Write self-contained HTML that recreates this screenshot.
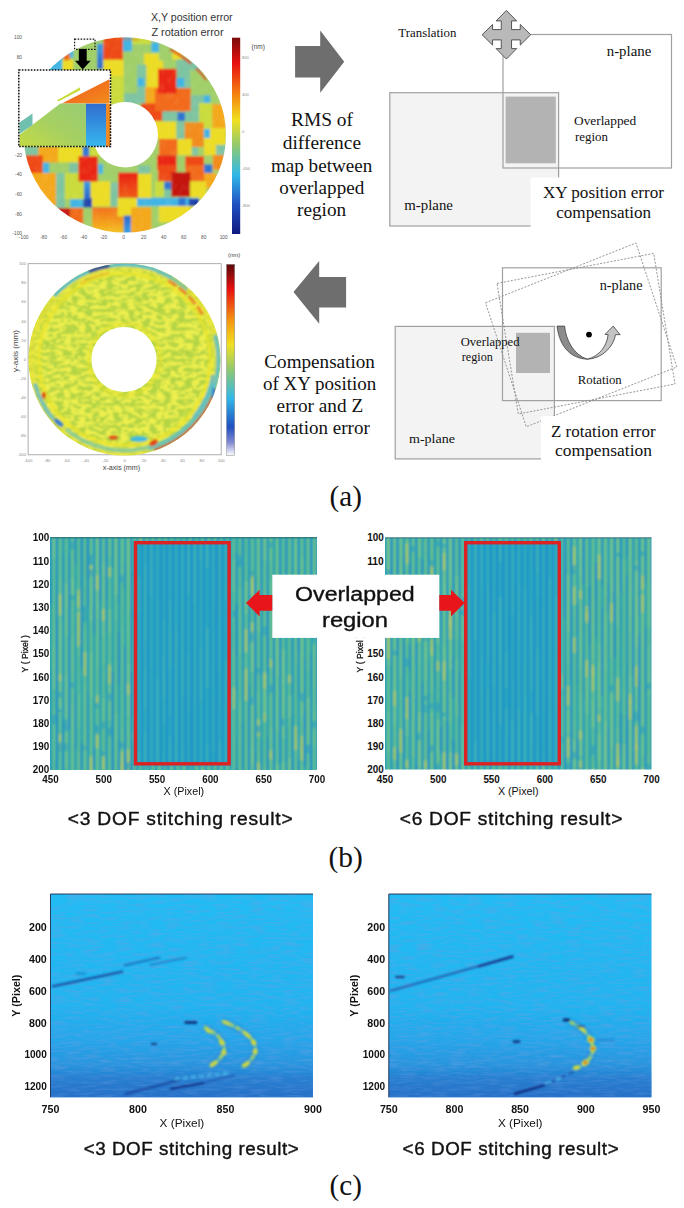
<!DOCTYPE html>
<html><head><meta charset="utf-8"><title>figure</title>
<style>html,body{margin:0;padding:0;background:#fff;width:684px;height:1208px;overflow:hidden}body{position:relative;font-family:"Liberation Sans",sans-serif}</style>
</head><body>
<svg width="684" height="1208" viewBox="0 0 684 1208" style="position:absolute;left:0;top:0">
<defs>
<filter id="soft" x="-5%" y="-5%" width="110%" height="110%"><feGaussianBlur stdDeviation="0.6"/></filter>
<filter id="soft2" x="-5%" y="-5%" width="110%" height="110%"><feGaussianBlur stdDeviation="1.0"/></filter>
<filter id="soft3" x="-20%" y="-20%" width="140%" height="140%"><feGaussianBlur stdDeviation="1.5"/></filter>
<clipPath id="d1"><path fill-rule="evenodd" d="M23.6,134.9 a101.2,97.6 0 1,0 202.4,0 a101.2,97.6 0 1,0 -202.4,0 Z M92.4,134.8 a32.8,32.8 0 1,1 65.6,0 a32.8,32.8 0 1,1 -65.6,0 Z"/></clipPath>
<clipPath id="d2"><path fill-rule="evenodd" d="M28.5,359.5 a96,96 0 1,0 192,0 a96,96 0 1,0 -192,0 Z M91.4,359.5 a32.6,32.6 0 1,1 65.2,0 a32.6,32.6 0 1,1 -65.2,0 Z"/></clipPath>
<linearGradient id="jet" x1="0" y1="0" x2="0" y2="1"><stop offset="0" stop-color="#7a0a0a"/><stop offset="0.13" stop-color="#e81010"/><stop offset="0.3" stop-color="#f58a10"/><stop offset="0.42" stop-color="#f0e020"/><stop offset="0.55" stop-color="#90c870"/><stop offset="0.7" stop-color="#30b8e8"/><stop offset="0.85" stop-color="#2050c0"/><stop offset="1" stop-color="#101880"/></linearGradient>
<linearGradient id="jet2" x1="0" y1="0" x2="0" y2="1"><stop offset="0" stop-color="#5a0808"/><stop offset="0.13" stop-color="#e81010"/><stop offset="0.3" stop-color="#f59a10"/><stop offset="0.42" stop-color="#f0e020"/><stop offset="0.55" stop-color="#90c870"/><stop offset="0.7" stop-color="#30b8e8"/><stop offset="0.85" stop-color="#2050c0"/><stop offset="0.93" stop-color="#8088d0"/><stop offset="1" stop-color="#ffffff"/></linearGradient>
<linearGradient id="bst" x1="0" y1="0" x2="0" y2="1"><stop offset="0" stop-color="#2f6cd0"/><stop offset="1" stop-color="#38b8f0"/></linearGradient>
<linearGradient id="org" x1="0" y1="0" x2="1" y2="1"><stop offset="0" stop-color="#f0501a"/><stop offset="1" stop-color="#f29020"/></linearGradient>
<linearGradient id="cg" x1="0" y1="0" x2="0" y2="1"><stop offset="0" stop-color="#22bcf4"/><stop offset="0.55" stop-color="#22b4f0"/><stop offset="0.72" stop-color="#26a6ea"/><stop offset="0.86" stop-color="#2a92dc"/><stop offset="1" stop-color="#2a78cc"/></linearGradient>
<filter id="hstreak" filterUnits="objectBoundingBox" x="0" y="0" width="1" height="1"><feTurbulence type="fractalNoise" baseFrequency="0.06 0.45" numOctaves="2" seed="9" result="n"/><feColorMatrix in="n" type="matrix" values="0 0 0 0 0.1  0 0 0 0 0.35  0 0 0 0 0.75  1.2 0 0 0 -0.5" result="c"/><feComposite in="c" in2="SourceGraphic" operator="in" result="d"/><feMerge><feMergeNode in="SourceGraphic"/><feMergeNode in="d"/></feMerge></filter>
<filter id="mot" filterUnits="userSpaceOnUse" x="20" y="255" width="210" height="210"><feTurbulence type="fractalNoise" baseFrequency="0.14 0.32" numOctaves="2" seed="5" result="n"/><feColorMatrix in="n" type="matrix" values="0 0 0 0 0.95  0 0 0 0 0.91  0 0 0 0 0.08  1.6 0 0 0 -0.30" result="c"/><feComponentTransfer in="c" result="t"><feFuncA type="discrete" tableValues="0 0 0.8 0.8"/></feComponentTransfer><feComposite in="t" in2="SourceGraphic" operator="in" result="y"/><feMerge result="m"><feMergeNode in="SourceGraphic"/><feMergeNode in="y"/></feMerge><feGaussianBlur in="m" stdDeviation="1.1"/></filter>
<linearGradient id="bl1" x1="0" y1="0" x2="0" y2="1"><stop offset="0" stop-color="#3c9ee0"/><stop offset="1" stop-color="#2a64cc"/></linearGradient>
<linearGradient id="bl2" x1="0" y1="0" x2="0" y2="1"><stop offset="0" stop-color="#2a68cc"/><stop offset="1" stop-color="#3cb8ee"/></linearGradient>
<filter id="dnoise" filterUnits="userSpaceOnUse" x="20" y="30" width="210" height="210"><feTurbulence type="fractalNoise" baseFrequency="0.25 0.12" numOctaves="2" seed="2" result="n"/><feColorMatrix in="n" type="matrix" values="0 0 0 0 1  0 0 0 0 1  0 0 0 0 0.6  0 0 0 0.5 -0.24"/></filter>
<linearGradient id="bband" x1="0" y1="0" x2="0" y2="1"><stop offset="0" stop-color="#2060c0" stop-opacity="0"/><stop offset="0.4" stop-color="#2060c0" stop-opacity="0.22"/><stop offset="1" stop-color="#2060c0" stop-opacity="0.3"/></linearGradient>
<linearGradient id="ggr" x1="0" y1="1" x2="1" y2="0"><stop offset="0" stop-color="#c4da44"/><stop offset="0.5" stop-color="#a6d062"/><stop offset="1" stop-color="#98cc74"/></linearGradient>
<linearGradient id="og1" x1="0" y1="0" x2="0" y2="1"><stop offset="0" stop-color="#f2701c"/><stop offset="0.55" stop-color="#f4a81e"/><stop offset="1" stop-color="#eed828"/></linearGradient>
<linearGradient id="rg1" x1="0" y1="0" x2="0" y2="1"><stop offset="0" stop-color="#ea2014"/><stop offset="1" stop-color="#f05c18"/></linearGradient>
</defs>
<g clip-path="url(#d1)"><g filter="url(#soft2)">
<rect x="20" y="30" width="210" height="210" fill="#a2d06a"/>
<rect x="90.0" y="40.0" width="7.2" height="30.0" fill="#a0cf6a"/>
<rect x="97.2" y="43.7" width="6.1" height="25.1" fill="url(#bl1)"/>
<rect x="103.3" y="36.0" width="19.7" height="24.0" fill="#ee4a18"/>
<rect x="103.3" y="59.6" width="20.5" height="16.4" fill="#ecdc26"/>
<rect x="122.8" y="36.0" width="9.2" height="15.4" fill="#40b4e4"/>
<rect x="132.0" y="36.0" width="19.4" height="8.2" fill="#cadc3c"/>
<rect x="132.0" y="44.2" width="19.4" height="9.2" fill="#a0cf6a"/>
<rect x="151.4" y="42.2" width="7.6" height="10.2" fill="#40b4e4"/>
<rect x="144.0" y="53.4" width="19.2" height="34.6" fill="#ecdc26"/>
<rect x="123.8" y="52.4" width="13.2" height="17.4" fill="#a0cf6a"/>
<rect x="123.8" y="69.8" width="14.2" height="24.6" fill="#a0cf6a"/>
<rect x="123.5" y="93.3" width="21.5" height="10.7" fill="#7ec4a2"/>
<rect x="110.5" y="76.0" width="13.3" height="28.0" fill="#cadc3c"/>
<rect x="137.0" y="64.7" width="9.3" height="39.3" fill="#7ec4a2"/>
<rect x="137.6" y="78.0" width="6.6" height="8.2" fill="#40b4e4"/>
<rect x="145.3" y="87.2" width="12.3" height="16.8" fill="#f4a81e"/>
<rect x="141.0" y="103.5" width="29.0" height="17.5" fill="#ee4a18"/>
<rect x="159.0" y="44.2" width="18.5" height="16.4" fill="#a0cf6a"/>
<rect x="172.4" y="50.4" width="9.2" height="9.2" fill="#ecdc26"/>
<rect x="176.5" y="59.6" width="31.7" height="35.8" fill="#7ec4a2"/>
<rect x="190.0" y="70.0" width="25.0" height="25.0" fill="#a0cf6a"/>
<rect x="155.0" y="88.2" width="35.8" height="23.1" fill="#f26a1c"/>
<rect x="158.0" y="68.8" width="18.5" height="24.6" fill="#ea2814"/>
<rect x="176.5" y="78.0" width="7.7" height="9.2" fill="#40b4e4"/>
<rect x="190.8" y="95.4" width="13.2" height="15.9" fill="#7ec4a2"/>
<rect x="204.0" y="95.4" width="6.3" height="8.6" fill="#40b4e4"/>
<rect x="199.0" y="103.0" width="13.3" height="26.7" fill="#cadc3c"/>
<rect x="212.3" y="104.0" width="13.7" height="24.7" fill="#f4a81e"/>
<rect x="162.2" y="111.3" width="15.3" height="10.2" fill="#7ec4a2"/>
<rect x="177.5" y="112.3" width="7.7" height="8.7" fill="#2e74d2"/>
<rect x="185.2" y="111.3" width="13.8" height="10.2" fill="#7ec4a2"/>
<rect x="150.0" y="121.5" width="26.5" height="17.4" fill="#ecdc26"/>
<rect x="176.5" y="121.5" width="8.2" height="17.4" fill="#7ec4a2"/>
<rect x="184.7" y="122.5" width="18.9" height="24.5" fill="#f28c1e"/>
<rect x="204.0" y="129.0" width="6.8" height="9.4" fill="#40b4e4"/>
<rect x="204.0" y="138.0" width="14.5" height="17.3" fill="#ecdc26"/>
<rect x="210.0" y="128.0" width="16.0" height="17.0" fill="#ecdc26"/>
<rect x="159.0" y="139.0" width="18.5" height="16.3" fill="#f26a1c"/>
<rect x="177.5" y="139.0" width="14.3" height="16.3" fill="#ecdc26"/>
<rect x="191.8" y="147.0" width="6.2" height="8.3" fill="#7ec4a2"/>
<rect x="216.0" y="145.0" width="12.0" height="10.0" fill="#7ec4a2"/>
<rect x="157.0" y="155.3" width="19.5" height="14.7" fill="#ea2814"/>
<rect x="177.5" y="155.3" width="7.2" height="16.7" fill="#a0cf6a"/>
<rect x="185.2" y="156.3" width="18.8" height="13.7" fill="#ee4a18"/>
<rect x="204.0" y="164.5" width="8.3" height="8.5" fill="#2e74d2"/>
<rect x="212.8" y="155.0" width="13.2" height="15.0" fill="#f28c1e"/>
<rect x="158.0" y="165.0" width="18.5" height="16.4" fill="#ee4a18"/>
<rect x="185.7" y="165.0" width="18.3" height="16.4" fill="#f26a1c"/>
<rect x="204.0" y="173.0" width="12.4" height="15.5" fill="#f4a81e"/>
<rect x="155.0" y="181.4" width="9.2" height="15.3" fill="#cadc3c"/>
<rect x="164.2" y="181.9" width="7.2" height="7.7" fill="#2e74d2"/>
<rect x="164.2" y="189.6" width="7.2" height="7.4" fill="#7ec4a2"/>
<rect x="171.4" y="172.2" width="18.9" height="24.5" fill="#c41410"/>
<rect x="190.3" y="181.4" width="15.9" height="17.4" fill="#ecdc26"/>
<rect x="137.0" y="197.8" width="62.0" height="8.2" fill="#40b4e4"/>
<rect x="178.5" y="197.8" width="7.2" height="8.2" fill="#2e74d2"/>
<rect x="188.8" y="198.8" width="10.2" height="9.2" fill="#1f40ac"/>
<rect x="158.0" y="206.0" width="32.8" height="16.3" fill="#ecdc26"/>
<rect x="151.4" y="206.0" width="7.6" height="25.0" fill="#a0cf6a"/>
<rect x="190.8" y="206.0" width="24.2" height="16.0" fill="#cadc3c"/>
<rect x="20.0" y="146.6" width="18.4" height="8.8" fill="#7ec4a2"/>
<rect x="38.4" y="146.6" width="19.8" height="16.4" fill="#f4a81e"/>
<rect x="58.2" y="146.6" width="24.1" height="16.4" fill="#ecdc26"/>
<rect x="82.9" y="146.6" width="6.5" height="9.8" fill="#2e74d2"/>
<rect x="89.4" y="146.6" width="20.6" height="9.8" fill="#cadc3c"/>
<rect x="20.0" y="155.4" width="22.8" height="25.2" fill="#ee4a18"/>
<rect x="42.8" y="162.5" width="6.6" height="10.5" fill="#40b4e4"/>
<rect x="49.4" y="162.5" width="19.8" height="10.5" fill="#a0cf6a"/>
<rect x="69.2" y="162.5" width="8.8" height="10.5" fill="#7ec4a2"/>
<rect x="20.0" y="173.0" width="36.0" height="32.8" fill="#f4a81e"/>
<rect x="56.0" y="173.0" width="8.8" height="35.0" fill="#7ec4a2"/>
<rect x="64.8" y="173.0" width="18.6" height="26.2" fill="#cadc3c"/>
<rect x="84.0" y="181.7" width="6.5" height="17.5" fill="url(#bl1)"/>
<rect x="70.2" y="199.2" width="13.2" height="8.2" fill="#40b4e4"/>
<rect x="83.4" y="199.2" width="8.2" height="8.2" fill="#1f40ac"/>
<rect x="40.0" y="208.0" width="30.2" height="14.0" fill="#c41410"/>
<rect x="70.2" y="208.0" width="13.2" height="17.0" fill="#f26a1c"/>
<rect x="83.4" y="208.0" width="8.8" height="32.0" fill="#a0cf6a"/>
<rect x="92.2" y="207.4" width="31.6" height="32.6" fill="url(#og1)"/>
<rect x="98.2" y="164.0" width="5.1" height="9.7" fill="#40b4e4"/>
<rect x="103.3" y="156.5" width="20.5" height="17.2" fill="#a0cf6a"/>
<rect x="118.1" y="172.6" width="20.0" height="25.1" fill="url(#rg1)"/>
<rect x="138.1" y="172.6" width="13.3" height="25.6" fill="#ecdc26"/>
<rect x="138.0" y="165.5" width="12.0" height="8.2" fill="#7ec4a2"/>
<rect x="90.0" y="181.3" width="20.5" height="25.1" fill="#ecdc26"/>
<rect x="110.5" y="182.4" width="7.6" height="24.0" fill="#7ec4a2"/>
<rect x="90.0" y="198.0" width="2.0" height="9.4" fill="#1f40ac"/>
<rect x="117.6" y="198.2" width="19.4" height="18.4" fill="#ecdc26"/>
<rect x="123.8" y="215.6" width="7.2" height="24.4" fill="url(#bl2)"/>
<rect x="131.0" y="207.4" width="20.4" height="32.6" fill="#f4a81e"/>
<rect x="45.0" y="55.0" width="17.0" height="17.0" fill="#40b4e4"/>
<rect x="55.0" y="46.0" width="21.0" height="12.0" fill="#40b4e4"/>
<rect x="73.3" y="40.0" width="16.7" height="32.0" fill="#a0cf6a"/>
<rect x="62.8" y="59.4" width="10.5" height="12.6" fill="#ecdc26"/>
<rect x="63.7" y="54.0" width="6.1" height="6.3" fill="#f26a1c"/>
<rect x="100.0" y="105.0" width="12.0" height="45.0" fill="#a0cf6a"/>
<rect x="78.5" y="156.4" width="19.2" height="25.1" fill="#ea2814"/>
<rect x="84.0" y="181.7" width="6.5" height="17.5" fill="url(#bl1)"/>
<polyline points="169.9,49.5 171.8,50.5 173.7,51.5 175.6,52.6 177.4,53.7 179.2,54.8 181.0,55.9 182.8,57.2 184.6,58.4 186.3,59.7 188.0,61.0 189.6,62.3 191.2,63.7" fill="none" stroke="#e02818" stroke-width="2.4" opacity="0.90"/>
<polyline points="196.2,68.4 197.1,69.3 198.0,70.2 198.9,71.1 199.7,72.0 200.6,73.0 201.4,74.0 202.2,74.9 203.0,75.9 203.8,76.9 204.6,77.9 205.4,78.9 206.1,80.0" fill="none" stroke="#e02818" stroke-width="2.2" opacity="0.85"/>
<polyline points="107.6,40.6 110.1,40.2 112.7,39.8 115.3,39.5 117.9,39.3 120.5,39.2 123.1,39.1 125.7,39.1 128.3,39.2 130.9,39.3 133.5,39.5 136.0,39.7 138.6,40.0" fill="none" stroke="#e86018" stroke-width="1.6" opacity="0.60"/>
<rect x="20" y="30" width="210" height="210" fill="#000" filter="url(#dnoise)" opacity="0.5"/>
</g></g>
<rect x="18.8" y="70" width="91.7" height="76.5" fill="#ffffff"/>
<g filter="url(#soft)">
<polygon points="61.8,103.5 109.5,79.2 109.5,103.5" fill="url(#org)"/>
<polygon points="56.7,100.4 80.1,87.2 80.1,90.3 59,101.3" fill="#c8dc3c"/>
<polygon points="19.5,134.7 60.3,103.5 86.6,103.5 86.6,146.5 19.5,146.5" fill="url(#ggr)"/>
<polygon points="19.5,122.5 32.5,113.5 32.5,125 19.5,134" fill="#70c0b0"/>
<rect x="86" y="103.7" width="20" height="42.8" fill="url(#bst)"/>
<rect x="106" y="103.7" width="4.5" height="42.8" fill="#f08a20"/>
</g>
<rect x="18.8" y="70" width="91.7" height="76.5" fill="none" stroke="#111" stroke-width="1.5" stroke-dasharray="1.6 1.4"/>
<rect x="74.6" y="39.1" width="20.4" height="10.2" fill="none" stroke="#111" stroke-width="1.2" stroke-dasharray="1.6 1.4"/>
<polygon points="78.8,49 86.7,49 86.7,60.7 90.7,60.7 82.75,69.5 75,60.7 78.8,60.7" fill="#000"/>
<text x="22.0" y="39.1" font-family="Liberation Sans" font-size="4.80" fill="#555" text-anchor="end" >100</text>
<text x="22.0" y="58.7" font-family="Liberation Sans" font-size="4.80" fill="#555" text-anchor="end" >80</text>
<text x="22.0" y="156.7" font-family="Liberation Sans" font-size="4.80" fill="#555" text-anchor="end" >-20</text>
<text x="22.0" y="176.3" font-family="Liberation Sans" font-size="4.80" fill="#555" text-anchor="end" >-40</text>
<text x="22.0" y="195.9" font-family="Liberation Sans" font-size="4.80" fill="#555" text-anchor="end" >-60</text>
<text x="22.0" y="215.5" font-family="Liberation Sans" font-size="4.80" fill="#555" text-anchor="end" >-80</text>
<text x="22.0" y="235.1" font-family="Liberation Sans" font-size="4.80" fill="#555" text-anchor="end" >-100</text>
<text x="23.7" y="238.5" font-family="Liberation Sans" font-size="4.80" fill="#555" text-anchor="middle" >-100</text>
<text x="43.7" y="238.5" font-family="Liberation Sans" font-size="4.80" fill="#555" text-anchor="middle" >-80</text>
<text x="63.7" y="238.5" font-family="Liberation Sans" font-size="4.80" fill="#555" text-anchor="middle" >-60</text>
<text x="83.7" y="238.5" font-family="Liberation Sans" font-size="4.80" fill="#555" text-anchor="middle" >-40</text>
<text x="103.7" y="238.5" font-family="Liberation Sans" font-size="4.80" fill="#555" text-anchor="middle" >-20</text>
<text x="123.7" y="238.5" font-family="Liberation Sans" font-size="4.80" fill="#555" text-anchor="middle" >0</text>
<text x="143.7" y="238.5" font-family="Liberation Sans" font-size="4.80" fill="#555" text-anchor="middle" >20</text>
<text x="163.7" y="238.5" font-family="Liberation Sans" font-size="4.80" fill="#555" text-anchor="middle" >40</text>
<text x="183.7" y="238.5" font-family="Liberation Sans" font-size="4.80" fill="#555" text-anchor="middle" >60</text>
<text x="203.7" y="238.5" font-family="Liberation Sans" font-size="4.80" fill="#555" text-anchor="middle" >80</text>
<text x="223.7" y="238.5" font-family="Liberation Sans" font-size="4.80" fill="#555" text-anchor="middle" >100</text>
<rect x="232" y="37.7" width="8.2" height="196.3" fill="url(#jet)"/>
<text x="242.0" y="58.5" font-family="Liberation Sans" font-size="4.00" fill="#888" text-anchor="start" >800</text>
<text x="242.0" y="95.5" font-family="Liberation Sans" font-size="4.00" fill="#888" text-anchor="start" >400</text>
<text x="242.0" y="132.5" font-family="Liberation Sans" font-size="4.00" fill="#888" text-anchor="start" >0</text>
<text x="242.0" y="169.5" font-family="Liberation Sans" font-size="4.00" fill="#888" text-anchor="start" >-400</text>
<text x="242.0" y="206.5" font-family="Liberation Sans" font-size="4.00" fill="#888" text-anchor="start" >-800</text>
<text x="251.5" y="49.0" font-family="Liberation Sans" font-size="6.50" fill="#444" text-anchor="start" >(nm)</text>
<text x="191.8" y="21.0" font-family="Liberation Sans" font-size="10.50" fill="#333" text-anchor="middle" textLength="81.7" lengthAdjust="spacingAndGlyphs" >X,Y position error</text>
<text x="187.5" y="35.6" font-family="Liberation Sans" font-size="10.50" fill="#333" text-anchor="middle" textLength="72.2" lengthAdjust="spacingAndGlyphs" >Z rotation error</text>
<polygon points="295.1,46 320.2,46 320.2,30.5 344.2,61.75 320.2,92.8 320.2,77.5 295.1,77.5" fill="#6e6e6e"/>
<text x="322.0" y="125.6" font-family="Liberation Serif" font-size="18.70" fill="#111" text-anchor="middle" textLength="62.0" lengthAdjust="spacingAndGlyphs" >RMS of</text>
<text x="321.9" y="148.7" font-family="Liberation Serif" font-size="18.70" fill="#111" text-anchor="middle" textLength="78.2" lengthAdjust="spacingAndGlyphs" >difference</text>
<text x="321.6" y="171.6" font-family="Liberation Serif" font-size="18.70" fill="#111" text-anchor="middle" textLength="101.2" lengthAdjust="spacingAndGlyphs" >map between</text>
<text x="321.8" y="193.7" font-family="Liberation Serif" font-size="18.70" fill="#111" text-anchor="middle" textLength="84.9" lengthAdjust="spacingAndGlyphs" >overlapped</text>
<text x="321.6" y="216.2" font-family="Liberation Serif" font-size="18.70" fill="#111" text-anchor="middle" textLength="49.2" lengthAdjust="spacingAndGlyphs" >region</text>
<rect x="389.8" y="92.7" width="168.8" height="133.3" fill="#f3f3f3" stroke="#a0a0a0" stroke-width="1.2"/>
<rect x="503" y="34.5" width="168.5" height="133.5" fill="none" stroke="#a0a0a0" stroke-width="1.2"/>
<rect x="505.6" y="96.6" width="50.2" height="66.7" fill="#b3b3b3"/>
<rect x="530.5" y="177.5" width="153.5" height="50" fill="#ffffff"/>
<polygon points="506.40,10.45 516.70,20.90 511.55,20.90 511.55,29.60 520.25,29.60 520.25,24.45 530.70,34.75 520.25,45.05 520.25,39.90 511.55,39.90 511.55,48.60 516.70,48.60 506.40,59.05 496.10,48.60 501.25,48.60 501.25,39.90 492.55,39.90 492.55,45.05 482.10,34.75 492.55,24.45 492.55,29.60 501.25,29.60 501.25,20.90 496.10,20.90" fill="#b9b9b9" stroke="#555" stroke-width="1"/>
<text x="427.4" y="37.0" font-family="Liberation Serif" font-size="12.40" fill="#111" text-anchor="middle" textLength="58.1" lengthAdjust="spacingAndGlyphs" >Translation</text>
<text x="629.0" y="56.0" font-family="Liberation Serif" font-size="14.20" fill="#111" text-anchor="middle" textLength="44.5" lengthAdjust="spacingAndGlyphs" >n-plane</text>
<text x="605.1" y="125.0" font-family="Liberation Serif" font-size="12.90" fill="#111" text-anchor="middle" textLength="62.2" lengthAdjust="spacingAndGlyphs" >Overlapped</text>
<text x="575.0" y="140.6" font-family="Liberation Serif" font-size="12.90" fill="#111" text-anchor="start" >region</text>
<text x="428.6" y="210.1" font-family="Liberation Serif" font-size="14.25" fill="#111" text-anchor="middle" textLength="48.7" lengthAdjust="spacingAndGlyphs" >m-plane</text>
<text x="603.5" y="197.9" font-family="Liberation Serif" font-size="16.80" fill="#111" text-anchor="middle" textLength="121.1" lengthAdjust="spacingAndGlyphs" >XY position error</text>
<text x="603.7" y="217.7" font-family="Liberation Serif" font-size="16.80" fill="#111" text-anchor="middle" textLength="95.0" lengthAdjust="spacingAndGlyphs" >compensation</text>
<rect x="28.1" y="263.7" width="193.1" height="191.1" fill="#fff" stroke="#9a9a9a" stroke-width="0.8"/>
<g clip-path="url(#d2)">
<g filter="url(#mot)"><rect x="20" y="255" width="210" height="210" fill="#b2d444"/></g><g filter="url(#soft2)">
<path d="M160.5,359.5 A36.0,36.0 0 1,1 160.5,359.4" fill="none" stroke="#eae22c" stroke-width="3.0" opacity="0.60"/>
<path d="M210.5,359.5 A86.0,86.0 0 1,1 210.5,359.3" fill="none" stroke="#ece42a" stroke-width="4.0" opacity="0.75"/>
<path d="M217.5,359.5 A93.0,93.0 0 1,1 217.5,359.3" fill="none" stroke="#e8e030" stroke-width="6.0" opacity="0.60"/>
<path d="M53.9,295.9 A95.0,95.0 0 0,1 88.9,271.4" fill="none" stroke="#48b8d8" stroke-width="4.0" opacity="0.90"/>
<path d="M88.9,271.4 A95.0,95.0 0 0,1 109.6,265.7" fill="none" stroke="#1c3ca8" stroke-width="4.0" opacity="0.90"/>
<path d="M109.6,265.7 A95.0,95.0 0 0,1 172.0,277.2" fill="none" stroke="#50bcd8" stroke-width="4.0" opacity="0.90"/>
<path d="M156.6,271.2 A94.0,94.0 0 0,1 187.4,289.6" fill="none" stroke="#70c0b0" stroke-width="4.0" opacity="0.80"/>
<path d="M168.1,280.8 A90.0,90.0 0 0,1 202.4,314.5" fill="none" stroke="#f07020" stroke-width="3.0" opacity="0.85" stroke-dasharray="10 3"/>
<path d="M80.5,283.3 A88.0,88.0 0 0,1 109.2,272.8" fill="none" stroke="#f0a020" stroke-width="2.0" opacity="0.60"/>
<path d="M215.3,335.2 A94.0,94.0 0 0,1 212.8,391.6" fill="none" stroke="#58bcd0" stroke-width="4.5" opacity="0.85"/>
<path d="M213.1,375.1 A90.0,90.0 0 0,1 193.4,417.4" fill="none" stroke="#50b0e0" stroke-width="3.0" opacity="0.80"/>
<path d="M213.4,383.3 A92.0,92.0 0 0,1 148.3,448.4" fill="none" stroke="#58c0c8" stroke-width="5.0" opacity="0.85"/>
<path d="M215.3,389.0 A95.5,95.5 0 0,1 154.0,450.3" fill="none" stroke="#c82010" stroke-width="2.2" opacity="0.90"/>
<path d="M148.1,447.4 A91.0,91.0 0 0,1 66.0,429.2" fill="none" stroke="#6cc4b8" stroke-width="4.0" opacity="0.70"/>
<path d="M53.3,419.3 A93.0,93.0 0 0,1 34.7,383.6" fill="none" stroke="#58b8d8" stroke-width="4.0" opacity="0.80"/>
<ellipse cx="113.3" cy="437.5" rx="4.5" ry="2" fill="#e0501a"/><ellipse cx="153.5" cy="442.8" rx="4.5" ry="2.8" fill="#e04a18" transform="rotate(-30 153.5 442.8)"/><ellipse cx="43.9" cy="395.3" rx="2" ry="3.5" fill="#e04a18"/>
<ellipse cx="139" cy="439" rx="9" ry="3" fill="#40b8e0"/><ellipse cx="58.5" cy="422.7" rx="6" ry="2.5" fill="#3a80d0" transform="rotate(40 58.5 422.7)"/><ellipse cx="213.8" cy="393.5" rx="2" ry="6" fill="#3a80d0"/>
</g></g>
<text x="26.0" y="265.2" font-family="Liberation Sans" font-size="4.20" fill="#888" text-anchor="end" >100</text>
<text x="26.0" y="284.3" font-family="Liberation Sans" font-size="4.20" fill="#888" text-anchor="end" >80</text>
<text x="26.0" y="303.4" font-family="Liberation Sans" font-size="4.20" fill="#888" text-anchor="end" >60</text>
<text x="26.0" y="322.5" font-family="Liberation Sans" font-size="4.20" fill="#888" text-anchor="end" >40</text>
<text x="26.0" y="341.6" font-family="Liberation Sans" font-size="4.20" fill="#888" text-anchor="end" >20</text>
<text x="26.0" y="360.8" font-family="Liberation Sans" font-size="4.20" fill="#888" text-anchor="end" >0</text>
<text x="26.0" y="379.9" font-family="Liberation Sans" font-size="4.20" fill="#888" text-anchor="end" >-20</text>
<text x="26.0" y="399.0" font-family="Liberation Sans" font-size="4.20" fill="#888" text-anchor="end" >-40</text>
<text x="26.0" y="418.1" font-family="Liberation Sans" font-size="4.20" fill="#888" text-anchor="end" >-60</text>
<text x="26.0" y="437.2" font-family="Liberation Sans" font-size="4.20" fill="#888" text-anchor="end" >-80</text>
<text x="26.0" y="456.3" font-family="Liberation Sans" font-size="4.20" fill="#888" text-anchor="end" >-100</text>
<text x="28.1" y="461.5" font-family="Liberation Sans" font-size="4.20" fill="#888" text-anchor="middle" >-100</text>
<text x="47.4" y="461.5" font-family="Liberation Sans" font-size="4.20" fill="#888" text-anchor="middle" >-80</text>
<text x="66.7" y="461.5" font-family="Liberation Sans" font-size="4.20" fill="#888" text-anchor="middle" >-60</text>
<text x="86.0" y="461.5" font-family="Liberation Sans" font-size="4.20" fill="#888" text-anchor="middle" >-40</text>
<text x="105.3" y="461.5" font-family="Liberation Sans" font-size="4.20" fill="#888" text-anchor="middle" >-20</text>
<text x="124.7" y="461.5" font-family="Liberation Sans" font-size="4.20" fill="#888" text-anchor="middle" >0</text>
<text x="144.0" y="461.5" font-family="Liberation Sans" font-size="4.20" fill="#888" text-anchor="middle" >20</text>
<text x="163.3" y="461.5" font-family="Liberation Sans" font-size="4.20" fill="#888" text-anchor="middle" >40</text>
<text x="182.6" y="461.5" font-family="Liberation Sans" font-size="4.20" fill="#888" text-anchor="middle" >60</text>
<text x="201.9" y="461.5" font-family="Liberation Sans" font-size="4.20" fill="#888" text-anchor="middle" >80</text>
<text x="221.2" y="461.5" font-family="Liberation Sans" font-size="4.20" fill="#888" text-anchor="middle" >100</text>
<rect x="226.5" y="264.3" width="8.2" height="191.3" fill="url(#jet2)" stroke="#888" stroke-width="0.5"/>
<text x="228.0" y="257.0" font-family="Liberation Sans" font-size="6.00" fill="#444" text-anchor="start" >(nm)</text>
<text x="121.5" y="469.5" font-family="Liberation Sans" font-size="6.80" fill="#444" text-anchor="middle" textLength="37.4" lengthAdjust="spacingAndGlyphs" >x-axis (mm)</text>
<text transform="translate(17.8,351) rotate(-90)" font-family="Liberation Sans" font-size="6.8" fill="#444" text-anchor="middle" textLength="42" lengthAdjust="spacingAndGlyphs">y-axis (mm)</text>
<polygon points="293.5,292.1 319.2,261.1 319.2,276.9 346.1,276.9 346.1,307.5 319.2,307.5 319.2,323.7" fill="#6e6e6e"/>
<text x="319.6" y="367.6" font-family="Liberation Serif" font-size="18.70" fill="#111" text-anchor="middle" textLength="110.5" lengthAdjust="spacingAndGlyphs" >Compensation</text>
<text x="319.6" y="389.7" font-family="Liberation Serif" font-size="18.70" fill="#111" text-anchor="middle" textLength="113.4" lengthAdjust="spacingAndGlyphs" >of XY position</text>
<text x="319.9" y="412.0" font-family="Liberation Serif" font-size="18.70" fill="#111" text-anchor="middle" textLength="86.6" lengthAdjust="spacingAndGlyphs" >error and Z</text>
<text x="319.4" y="434.1" font-family="Liberation Serif" font-size="18.70" fill="#111" text-anchor="middle" textLength="100.7" lengthAdjust="spacingAndGlyphs" >rotation error</text>
<rect x="395.2" y="326.4" width="159.2" height="132.5" fill="#f3f3f3" stroke="#a0a0a0" stroke-width="1.2"/>
<rect x="516" y="332.8" width="34" height="40.2" fill="#b3b3b3"/>
<rect x="502.5" y="267.8" width="158.7" height="132.8" fill="none" stroke="#a0a0a0" stroke-width="1.2"/>
<polygon points="497,283.4 653.7,253.4 675,384 518.3,414" fill="none" stroke="#8a8a8a" stroke-width="0.9" stroke-dasharray="2 1.5"/>
<polygon points="485.5,302.8 636,243 676.8,367 526.3,426.8" fill="none" stroke="#8a8a8a" stroke-width="0.9" stroke-dasharray="2 1.5"/>
<rect x="541" y="416" width="143" height="50" fill="#ffffff"/>
<path d="M557.02,326.11 L564.62,326.11 C565.79,339.56 573.39,354.77 587.43,359.21 C572.22,358.51 559.94,348.92 557.02,326.11 Z" fill="#8c8c8c" stroke="#404040" stroke-width="0.8"/>
<path d="M587.43,359.21 C599.12,356.17 606.73,346.58 608.13,334.65 L604.97,334.42 L613.16,326.11 L620.18,334.65 L615.50,334.65 C613.74,345.64 603.22,358.51 587.43,359.21 Z" fill="#c4c4c4" stroke="#404040" stroke-width="0.8"/>
<circle cx="589" cy="334.6" r="2.9" fill="#000"/>
<text x="621.1" y="290.4" font-family="Liberation Serif" font-size="13.60" fill="#111" text-anchor="middle" textLength="42.7" lengthAdjust="spacingAndGlyphs" >n-plane</text>
<text x="599.8" y="384.2" font-family="Liberation Serif" font-size="12.20" fill="#111" text-anchor="middle" textLength="43.9" lengthAdjust="spacingAndGlyphs" >Rotation</text>
<text x="490.1" y="345.6" font-family="Liberation Serif" font-size="12.20" fill="#111" text-anchor="middle" textLength="58.8" lengthAdjust="spacingAndGlyphs" >Overlapped</text>
<text x="461.7" y="361.0" font-family="Liberation Serif" font-size="12.20" fill="#111" text-anchor="start" >region</text>
<text x="432.0" y="442.8" font-family="Liberation Serif" font-size="13.40" fill="#111" text-anchor="middle" textLength="46.0" lengthAdjust="spacingAndGlyphs" >m-plane</text>
<text x="603.3" y="436.5" font-family="Liberation Serif" font-size="16.80" fill="#111" text-anchor="middle" textLength="104.6" lengthAdjust="spacingAndGlyphs" >Z rotation error</text>
<text x="603.5" y="456.2" font-family="Liberation Serif" font-size="16.80" fill="#111" text-anchor="middle" textLength="96.9" lengthAdjust="spacingAndGlyphs" >compensation</text>
<text x="345.8" y="505.9" font-family="Liberation Serif" font-size="29.50" fill="#111" text-anchor="middle" textLength="32.4" lengthAdjust="spacingAndGlyphs" >(a)</text>
<text x="345.6" y="866.8" font-family="Liberation Serif" font-size="29.50" fill="#111" text-anchor="middle" textLength="34.3" lengthAdjust="spacingAndGlyphs" >(b)</text>
<text x="345.8" y="1195.3" font-family="Liberation Serif" font-size="29.50" fill="#111" text-anchor="middle" textLength="32.4" lengthAdjust="spacingAndGlyphs" >(c)</text>
<clipPath id="bc1"><rect x="50.5" y="537.8" width="266.5" height="231.8"/></clipPath>
<g clip-path="url(#bc1)"><g filter="url(#soft2)">
<rect x="47.5" y="534.8" width="272.5" height="237.8" fill="#30acac"/>
<rect x="52.5" y="537.8" width="3.0" height="21.0" fill="#74c686" opacity="0.94"/>
<rect x="52.5" y="558.8" width="3.0" height="49.4" fill="#74c686" opacity="0.70"/>
<rect x="52.5" y="608.2" width="3.0" height="37.3" fill="#74c686" opacity="0.78"/>
<rect x="52.5" y="645.5" width="3.0" height="44.3" fill="#74c686" opacity="0.92"/>
<rect x="52.5" y="689.8" width="3.0" height="19.2" fill="#74c686" opacity="0.61"/>
<rect x="52.5" y="709.1" width="3.0" height="52.6" fill="#74c686" opacity="0.77"/>
<rect x="52.5" y="761.7" width="3.0" height="49.3" fill="#74c686" opacity="0.60"/>
<rect x="49.6" y="537.8" width="2.0" height="39.5" fill="#1a80d0" opacity="0.67"/>
<rect x="49.6" y="577.3" width="2.0" height="27.6" fill="#1a80d0" opacity="0.81"/>
<rect x="49.6" y="604.9" width="2.0" height="64.6" fill="#1a80d0" opacity="0.22"/>
<rect x="49.6" y="669.5" width="2.0" height="16.4" fill="#1a80d0" opacity="0.55"/>
<rect x="49.6" y="685.9" width="2.0" height="66.7" fill="#1a80d0" opacity="0.45"/>
<rect x="49.6" y="752.5" width="2.0" height="26.9" fill="#1a80d0" opacity="0.47"/>
<rect x="52.9" y="714.8" width="1.8" height="9.6" fill="#2a9ac8" opacity="0.8"/>
<rect x="58.7" y="537.8" width="3.0" height="39.9" fill="#74c686" opacity="0.74"/>
<rect x="58.7" y="577.7" width="3.0" height="45.5" fill="#74c686" opacity="0.90"/>
<rect x="58.7" y="623.1" width="3.0" height="57.9" fill="#74c686" opacity="0.97"/>
<rect x="58.7" y="681.0" width="3.0" height="33.7" fill="#74c686" opacity="0.97"/>
<rect x="58.7" y="714.7" width="3.0" height="56.5" fill="#74c686" opacity="0.64"/>
<rect x="55.8" y="537.8" width="2.0" height="49.6" fill="#1a80d0" opacity="0.67"/>
<rect x="55.8" y="587.4" width="2.0" height="31.3" fill="#1a80d0" opacity="0.68"/>
<rect x="55.8" y="618.7" width="2.0" height="64.3" fill="#1a80d0" opacity="0.83"/>
<rect x="55.8" y="683.0" width="2.0" height="42.5" fill="#1a80d0" opacity="0.83"/>
<rect x="55.8" y="725.5" width="2.0" height="42.9" fill="#1a80d0" opacity="0.79"/>
<rect x="55.8" y="768.4" width="2.0" height="25.4" fill="#1a80d0" opacity="0.38"/>
<rect x="58.9" y="733.9" width="2.2" height="15.6" fill="#b8cc50" opacity="0.8"/>
<rect x="58.9" y="674.3" width="2.2" height="6.7" fill="#b8cc50" opacity="0.8"/>
<rect x="58.9" y="594.1" width="2.2" height="21.2" fill="#b8cc50" opacity="0.8"/>
<rect x="59.1" y="691.9" width="1.8" height="5.6" fill="#2a9ac8" opacity="0.8"/>
<rect x="59.1" y="742.4" width="1.8" height="8.4" fill="#2a9ac8" opacity="0.8"/>
<rect x="59.1" y="708.9" width="1.8" height="3.6" fill="#2a9ac8" opacity="0.8"/>
<rect x="64.9" y="537.8" width="3.0" height="44.9" fill="#74c686" opacity="0.64"/>
<rect x="64.9" y="582.7" width="3.0" height="22.4" fill="#74c686" opacity="0.94"/>
<rect x="64.9" y="605.0" width="3.0" height="31.7" fill="#74c686" opacity="0.89"/>
<rect x="64.9" y="636.7" width="3.0" height="36.1" fill="#74c686" opacity="0.72"/>
<rect x="64.9" y="672.8" width="3.0" height="53.2" fill="#74c686" opacity="0.85"/>
<rect x="64.9" y="726.0" width="3.0" height="41.0" fill="#74c686" opacity="0.86"/>
<rect x="64.9" y="767.0" width="3.0" height="22.6" fill="#74c686" opacity="0.69"/>
<rect x="62.0" y="537.8" width="2.0" height="15.7" fill="#1a80d0" opacity="0.33"/>
<rect x="62.0" y="553.5" width="2.0" height="65.6" fill="#1a80d0" opacity="0.56"/>
<rect x="62.0" y="619.1" width="2.0" height="37.2" fill="#1a80d0" opacity="0.42"/>
<rect x="62.0" y="656.3" width="2.0" height="61.6" fill="#1a80d0" opacity="0.43"/>
<rect x="62.0" y="717.9" width="2.0" height="65.0" fill="#1a80d0" opacity="0.63"/>
<rect x="65.3" y="719.5" width="1.8" height="8.7" fill="#2a9ac8" opacity="0.8"/>
<rect x="65.3" y="743.2" width="1.8" height="8.2" fill="#2a9ac8" opacity="0.8"/>
<rect x="65.3" y="725.4" width="1.8" height="6.6" fill="#2a9ac8" opacity="0.8"/>
<rect x="71.1" y="537.8" width="3.0" height="40.3" fill="#74c686" opacity="0.77"/>
<rect x="71.1" y="578.1" width="3.0" height="17.5" fill="#74c686" opacity="0.95"/>
<rect x="71.1" y="595.6" width="3.0" height="40.6" fill="#74c686" opacity="0.68"/>
<rect x="71.1" y="636.2" width="3.0" height="37.7" fill="#74c686" opacity="0.79"/>
<rect x="71.1" y="673.9" width="3.0" height="31.1" fill="#74c686" opacity="0.74"/>
<rect x="71.1" y="705.0" width="3.0" height="39.2" fill="#74c686" opacity="0.85"/>
<rect x="71.1" y="744.2" width="3.0" height="42.6" fill="#74c686" opacity="0.78"/>
<rect x="68.2" y="537.8" width="2.0" height="16.5" fill="#1a80d0" opacity="0.35"/>
<rect x="68.2" y="554.3" width="2.0" height="24.7" fill="#1a80d0" opacity="0.58"/>
<rect x="68.2" y="579.1" width="2.0" height="62.4" fill="#1a80d0" opacity="0.72"/>
<rect x="68.2" y="641.4" width="2.0" height="58.8" fill="#1a80d0" opacity="0.73"/>
<rect x="68.2" y="700.3" width="2.0" height="29.0" fill="#1a80d0" opacity="0.75"/>
<rect x="68.2" y="729.3" width="2.0" height="52.0" fill="#1a80d0" opacity="0.25"/>
<rect x="71.5" y="541.2" width="1.8" height="8.3" fill="#2a9ac8" opacity="0.8"/>
<rect x="71.5" y="595.6" width="1.8" height="3.8" fill="#2a9ac8" opacity="0.8"/>
<rect x="71.5" y="682.6" width="1.8" height="5.4" fill="#2a9ac8" opacity="0.8"/>
<rect x="77.3" y="537.8" width="3.0" height="18.1" fill="#74c686" opacity="0.66"/>
<rect x="77.3" y="555.9" width="3.0" height="38.7" fill="#74c686" opacity="0.67"/>
<rect x="77.3" y="594.7" width="3.0" height="27.3" fill="#74c686" opacity="0.88"/>
<rect x="77.3" y="621.9" width="3.0" height="35.5" fill="#74c686" opacity="0.73"/>
<rect x="77.3" y="657.4" width="3.0" height="36.3" fill="#74c686" opacity="0.61"/>
<rect x="77.3" y="693.7" width="3.0" height="32.4" fill="#74c686" opacity="0.77"/>
<rect x="77.3" y="726.1" width="3.0" height="23.5" fill="#74c686" opacity="0.64"/>
<rect x="77.3" y="749.6" width="3.0" height="55.5" fill="#74c686" opacity="0.80"/>
<rect x="74.4" y="537.8" width="2.0" height="26.5" fill="#1a80d0" opacity="0.59"/>
<rect x="74.4" y="564.3" width="2.0" height="59.9" fill="#1a80d0" opacity="0.21"/>
<rect x="74.4" y="624.2" width="2.0" height="16.0" fill="#1a80d0" opacity="0.30"/>
<rect x="74.4" y="640.2" width="2.0" height="54.5" fill="#1a80d0" opacity="0.30"/>
<rect x="74.4" y="694.8" width="2.0" height="53.8" fill="#1a80d0" opacity="0.64"/>
<rect x="74.4" y="748.5" width="2.0" height="45.0" fill="#1a80d0" opacity="0.34"/>
<rect x="77.5" y="589.5" width="2.2" height="18.3" fill="#b8cc50" opacity="0.8"/>
<rect x="77.5" y="629.3" width="2.2" height="16.9" fill="#b8cc50" opacity="0.8"/>
<rect x="77.5" y="612.3" width="2.2" height="18.0" fill="#b8cc50" opacity="0.8"/>
<rect x="83.5" y="537.8" width="3.0" height="48.2" fill="#74c686" opacity="0.65"/>
<rect x="83.5" y="586.0" width="3.0" height="24.5" fill="#74c686" opacity="0.62"/>
<rect x="83.5" y="610.5" width="3.0" height="18.2" fill="#74c686" opacity="0.63"/>
<rect x="83.5" y="628.7" width="3.0" height="56.3" fill="#74c686" opacity="0.72"/>
<rect x="83.5" y="685.0" width="3.0" height="22.1" fill="#74c686" opacity="0.83"/>
<rect x="83.5" y="707.1" width="3.0" height="20.9" fill="#74c686" opacity="0.82"/>
<rect x="83.5" y="728.0" width="3.0" height="53.3" fill="#74c686" opacity="0.84"/>
<rect x="80.6" y="537.8" width="2.0" height="27.0" fill="#1a80d0" opacity="0.79"/>
<rect x="80.6" y="564.8" width="2.0" height="40.3" fill="#1a80d0" opacity="0.74"/>
<rect x="80.6" y="605.1" width="2.0" height="62.8" fill="#1a80d0" opacity="0.71"/>
<rect x="80.6" y="668.0" width="2.0" height="49.3" fill="#1a80d0" opacity="0.22"/>
<rect x="80.6" y="717.2" width="2.0" height="26.0" fill="#1a80d0" opacity="0.26"/>
<rect x="80.6" y="743.2" width="2.0" height="46.5" fill="#1a80d0" opacity="0.78"/>
<rect x="83.7" y="651.9" width="2.2" height="23.8" fill="#b8cc50" opacity="0.8"/>
<rect x="83.9" y="606.4" width="1.8" height="6.5" fill="#2a9ac8" opacity="0.8"/>
<rect x="83.9" y="613.2" width="1.8" height="9.1" fill="#2a9ac8" opacity="0.8"/>
<rect x="83.9" y="746.3" width="1.8" height="3.1" fill="#2a9ac8" opacity="0.8"/>
<rect x="89.7" y="537.8" width="3.0" height="24.0" fill="#74c686" opacity="0.73"/>
<rect x="89.7" y="561.8" width="3.0" height="59.4" fill="#74c686" opacity="0.91"/>
<rect x="89.7" y="621.3" width="3.0" height="30.3" fill="#74c686" opacity="0.69"/>
<rect x="89.7" y="651.5" width="3.0" height="45.4" fill="#74c686" opacity="0.94"/>
<rect x="89.7" y="696.9" width="3.0" height="56.9" fill="#74c686" opacity="0.74"/>
<rect x="89.7" y="753.8" width="3.0" height="54.7" fill="#74c686" opacity="0.87"/>
<rect x="86.8" y="537.8" width="2.0" height="41.6" fill="#1a80d0" opacity="0.84"/>
<rect x="86.8" y="579.4" width="2.0" height="27.9" fill="#1a80d0" opacity="0.67"/>
<rect x="86.8" y="607.4" width="2.0" height="19.7" fill="#1a80d0" opacity="0.31"/>
<rect x="86.8" y="627.0" width="2.0" height="65.1" fill="#1a80d0" opacity="0.34"/>
<rect x="86.8" y="692.1" width="2.0" height="56.8" fill="#1a80d0" opacity="0.59"/>
<rect x="86.8" y="748.9" width="2.0" height="61.3" fill="#1a80d0" opacity="0.44"/>
<rect x="89.9" y="564.2" width="2.2" height="10.5" fill="#b8cc50" opacity="0.8"/>
<rect x="89.9" y="756.6" width="2.2" height="20.8" fill="#b8cc50" opacity="0.8"/>
<rect x="90.1" y="569.2" width="1.8" height="6.9" fill="#2a9ac8" opacity="0.8"/>
<rect x="90.1" y="562.0" width="1.8" height="3.3" fill="#2a9ac8" opacity="0.8"/>
<rect x="90.1" y="554.8" width="1.8" height="9.1" fill="#2a9ac8" opacity="0.8"/>
<rect x="95.9" y="537.8" width="3.0" height="50.5" fill="#74c686" opacity="0.93"/>
<rect x="95.9" y="588.3" width="3.0" height="30.3" fill="#74c686" opacity="0.85"/>
<rect x="95.9" y="618.6" width="3.0" height="50.2" fill="#74c686" opacity="0.75"/>
<rect x="95.9" y="668.8" width="3.0" height="40.7" fill="#74c686" opacity="0.69"/>
<rect x="95.9" y="709.5" width="3.0" height="18.7" fill="#74c686" opacity="0.71"/>
<rect x="95.9" y="728.2" width="3.0" height="55.1" fill="#74c686" opacity="0.83"/>
<rect x="93.0" y="537.8" width="2.0" height="65.9" fill="#1a80d0" opacity="0.50"/>
<rect x="93.0" y="603.7" width="2.0" height="30.2" fill="#1a80d0" opacity="0.71"/>
<rect x="93.0" y="633.9" width="2.0" height="60.5" fill="#1a80d0" opacity="0.21"/>
<rect x="93.0" y="694.5" width="2.0" height="51.9" fill="#1a80d0" opacity="0.26"/>
<rect x="93.0" y="746.3" width="2.0" height="21.3" fill="#1a80d0" opacity="0.78"/>
<rect x="93.0" y="767.7" width="2.0" height="17.2" fill="#1a80d0" opacity="0.36"/>
<rect x="96.1" y="575.4" width="2.2" height="14.6" fill="#b8cc50" opacity="0.8"/>
<rect x="96.1" y="695.6" width="2.2" height="9.0" fill="#b8cc50" opacity="0.8"/>
<rect x="96.1" y="733.7" width="2.2" height="14.3" fill="#b8cc50" opacity="0.8"/>
<rect x="96.3" y="724.7" width="1.8" height="6.8" fill="#2a9ac8" opacity="0.8"/>
<rect x="96.3" y="727.5" width="1.8" height="6.9" fill="#2a9ac8" opacity="0.8"/>
<rect x="96.3" y="702.8" width="1.8" height="5.2" fill="#2a9ac8" opacity="0.8"/>
<rect x="102.1" y="537.8" width="3.0" height="24.3" fill="#74c686" opacity="0.73"/>
<rect x="102.1" y="562.1" width="3.0" height="16.2" fill="#74c686" opacity="0.91"/>
<rect x="102.1" y="578.4" width="3.0" height="56.7" fill="#74c686" opacity="0.89"/>
<rect x="102.1" y="635.0" width="3.0" height="29.4" fill="#74c686" opacity="0.76"/>
<rect x="102.1" y="664.4" width="3.0" height="32.9" fill="#74c686" opacity="0.63"/>
<rect x="102.1" y="697.4" width="3.0" height="29.3" fill="#74c686" opacity="0.84"/>
<rect x="102.1" y="726.6" width="3.0" height="35.5" fill="#74c686" opacity="0.70"/>
<rect x="102.1" y="762.2" width="3.0" height="50.3" fill="#74c686" opacity="0.91"/>
<rect x="99.2" y="537.8" width="2.0" height="64.0" fill="#1a80d0" opacity="0.76"/>
<rect x="99.2" y="601.8" width="2.0" height="40.8" fill="#1a80d0" opacity="0.43"/>
<rect x="99.2" y="642.6" width="2.0" height="25.1" fill="#1a80d0" opacity="0.34"/>
<rect x="99.2" y="667.7" width="2.0" height="26.0" fill="#1a80d0" opacity="0.43"/>
<rect x="99.2" y="693.6" width="2.0" height="60.1" fill="#1a80d0" opacity="0.26"/>
<rect x="99.2" y="753.7" width="2.0" height="56.4" fill="#1a80d0" opacity="0.26"/>
<rect x="102.3" y="755.9" width="2.2" height="13.4" fill="#b8cc50" opacity="0.8"/>
<rect x="102.3" y="608.9" width="2.2" height="12.2" fill="#b8cc50" opacity="0.8"/>
<rect x="102.5" y="721.6" width="1.8" height="7.1" fill="#2a9ac8" opacity="0.8"/>
<rect x="102.5" y="751.4" width="1.8" height="4.7" fill="#2a9ac8" opacity="0.8"/>
<rect x="108.3" y="537.8" width="3.0" height="19.5" fill="#74c686" opacity="0.84"/>
<rect x="108.3" y="557.3" width="3.0" height="51.3" fill="#74c686" opacity="0.64"/>
<rect x="108.3" y="608.7" width="3.0" height="24.9" fill="#74c686" opacity="0.92"/>
<rect x="108.3" y="633.6" width="3.0" height="33.1" fill="#74c686" opacity="0.71"/>
<rect x="108.3" y="666.7" width="3.0" height="54.0" fill="#74c686" opacity="0.89"/>
<rect x="108.3" y="720.7" width="3.0" height="16.0" fill="#74c686" opacity="0.60"/>
<rect x="108.3" y="736.7" width="3.0" height="48.8" fill="#74c686" opacity="0.74"/>
<rect x="105.4" y="537.8" width="2.0" height="40.8" fill="#1a80d0" opacity="0.76"/>
<rect x="105.4" y="578.6" width="2.0" height="20.6" fill="#1a80d0" opacity="0.71"/>
<rect x="105.4" y="599.1" width="2.0" height="33.0" fill="#1a80d0" opacity="0.53"/>
<rect x="105.4" y="632.2" width="2.0" height="51.6" fill="#1a80d0" opacity="0.32"/>
<rect x="105.4" y="683.8" width="2.0" height="23.2" fill="#1a80d0" opacity="0.29"/>
<rect x="105.4" y="707.0" width="2.0" height="62.6" fill="#1a80d0" opacity="0.40"/>
<rect x="108.5" y="567.1" width="2.2" height="9.9" fill="#b8cc50" opacity="0.8"/>
<rect x="108.5" y="664.2" width="2.2" height="19.7" fill="#b8cc50" opacity="0.8"/>
<rect x="108.7" y="728.1" width="1.8" height="7.4" fill="#2a9ac8" opacity="0.8"/>
<rect x="108.7" y="693.6" width="1.8" height="6.9" fill="#2a9ac8" opacity="0.8"/>
<rect x="114.5" y="537.8" width="3.0" height="57.5" fill="#74c686" opacity="0.99"/>
<rect x="114.5" y="595.3" width="3.0" height="24.2" fill="#74c686" opacity="0.72"/>
<rect x="114.5" y="619.5" width="3.0" height="39.2" fill="#74c686" opacity="0.62"/>
<rect x="114.5" y="658.7" width="3.0" height="53.8" fill="#74c686" opacity="0.70"/>
<rect x="114.5" y="712.5" width="3.0" height="50.0" fill="#74c686" opacity="0.87"/>
<rect x="114.5" y="762.5" width="3.0" height="35.1" fill="#74c686" opacity="0.77"/>
<rect x="111.6" y="537.8" width="2.0" height="28.8" fill="#1a80d0" opacity="0.49"/>
<rect x="111.6" y="566.6" width="2.0" height="44.6" fill="#1a80d0" opacity="0.21"/>
<rect x="111.6" y="611.2" width="2.0" height="61.0" fill="#1a80d0" opacity="0.31"/>
<rect x="111.6" y="672.2" width="2.0" height="41.7" fill="#1a80d0" opacity="0.72"/>
<rect x="111.6" y="713.9" width="2.0" height="66.3" fill="#1a80d0" opacity="0.83"/>
<rect x="120.7" y="537.8" width="3.0" height="46.1" fill="#74c686" opacity="0.83"/>
<rect x="120.7" y="583.9" width="3.0" height="41.7" fill="#74c686" opacity="0.66"/>
<rect x="120.7" y="625.6" width="3.0" height="59.2" fill="#74c686" opacity="0.71"/>
<rect x="120.7" y="684.9" width="3.0" height="40.4" fill="#74c686" opacity="0.67"/>
<rect x="120.7" y="725.3" width="3.0" height="19.0" fill="#74c686" opacity="0.79"/>
<rect x="120.7" y="744.3" width="3.0" height="23.0" fill="#74c686" opacity="0.73"/>
<rect x="120.7" y="767.3" width="3.0" height="55.2" fill="#74c686" opacity="0.97"/>
<rect x="117.8" y="537.8" width="2.0" height="66.2" fill="#1a80d0" opacity="0.62"/>
<rect x="117.8" y="604.0" width="2.0" height="27.4" fill="#1a80d0" opacity="0.40"/>
<rect x="117.8" y="631.4" width="2.0" height="52.8" fill="#1a80d0" opacity="0.82"/>
<rect x="117.8" y="684.2" width="2.0" height="54.2" fill="#1a80d0" opacity="0.42"/>
<rect x="117.8" y="738.4" width="2.0" height="48.6" fill="#1a80d0" opacity="0.67"/>
<rect x="120.9" y="763.2" width="2.2" height="10.2" fill="#b8cc50" opacity="0.8"/>
<rect x="120.9" y="751.4" width="2.2" height="20.5" fill="#b8cc50" opacity="0.8"/>
<rect x="121.1" y="574.8" width="1.8" height="8.4" fill="#2a9ac8" opacity="0.8"/>
<rect x="121.1" y="742.5" width="1.8" height="5.2" fill="#2a9ac8" opacity="0.8"/>
<rect x="126.9" y="537.8" width="3.0" height="46.2" fill="#74c686" opacity="0.94"/>
<rect x="126.9" y="584.0" width="3.0" height="31.7" fill="#74c686" opacity="0.88"/>
<rect x="126.9" y="615.7" width="3.0" height="48.1" fill="#74c686" opacity="0.84"/>
<rect x="126.9" y="663.8" width="3.0" height="53.5" fill="#74c686" opacity="0.96"/>
<rect x="126.9" y="717.4" width="3.0" height="58.2" fill="#74c686" opacity="0.83"/>
<rect x="124.0" y="537.8" width="2.0" height="24.7" fill="#1a80d0" opacity="0.36"/>
<rect x="124.0" y="562.5" width="2.0" height="27.0" fill="#1a80d0" opacity="0.57"/>
<rect x="124.0" y="589.5" width="2.0" height="56.7" fill="#1a80d0" opacity="0.23"/>
<rect x="124.0" y="646.1" width="2.0" height="52.5" fill="#1a80d0" opacity="0.67"/>
<rect x="124.0" y="698.6" width="2.0" height="34.1" fill="#1a80d0" opacity="0.53"/>
<rect x="124.0" y="732.8" width="2.0" height="24.1" fill="#1a80d0" opacity="0.67"/>
<rect x="124.0" y="756.8" width="2.0" height="17.2" fill="#1a80d0" opacity="0.84"/>
<rect x="127.1" y="683.5" width="2.2" height="11.1" fill="#b8cc50" opacity="0.8"/>
<rect x="127.1" y="749.4" width="2.2" height="24.2" fill="#b8cc50" opacity="0.8"/>
<rect x="127.3" y="762.5" width="1.8" height="7.3" fill="#2a9ac8" opacity="0.8"/>
<rect x="133.1" y="537.8" width="3.0" height="58.5" fill="#74c686" opacity="0.87"/>
<rect x="133.1" y="596.3" width="3.0" height="18.7" fill="#74c686" opacity="0.94"/>
<rect x="133.1" y="615.0" width="3.0" height="25.8" fill="#74c686" opacity="0.94"/>
<rect x="133.1" y="640.8" width="3.0" height="57.3" fill="#74c686" opacity="0.96"/>
<rect x="133.1" y="698.1" width="3.0" height="32.9" fill="#74c686" opacity="0.96"/>
<rect x="133.1" y="731.0" width="3.0" height="34.7" fill="#74c686" opacity="0.85"/>
<rect x="133.1" y="765.7" width="3.0" height="37.0" fill="#74c686" opacity="0.68"/>
<rect x="130.2" y="537.8" width="2.0" height="38.7" fill="#1a80d0" opacity="0.55"/>
<rect x="130.2" y="576.5" width="2.0" height="65.0" fill="#1a80d0" opacity="0.63"/>
<rect x="130.2" y="641.5" width="2.0" height="30.3" fill="#1a80d0" opacity="0.45"/>
<rect x="130.2" y="671.8" width="2.0" height="45.8" fill="#1a80d0" opacity="0.82"/>
<rect x="130.2" y="717.6" width="2.0" height="44.1" fill="#1a80d0" opacity="0.58"/>
<rect x="130.2" y="761.6" width="2.0" height="16.7" fill="#1a80d0" opacity="0.83"/>
<rect x="133.3" y="731.4" width="2.2" height="9.9" fill="#b8cc50" opacity="0.8"/>
<rect x="133.5" y="572.2" width="1.8" height="4.4" fill="#2a9ac8" opacity="0.8"/>
<rect x="133.5" y="609.9" width="1.8" height="8.3" fill="#2a9ac8" opacity="0.8"/>
<rect x="139.3" y="537.8" width="3.0" height="52.5" fill="#74c686" opacity="0.78"/>
<rect x="139.3" y="590.3" width="3.0" height="53.8" fill="#74c686" opacity="0.94"/>
<rect x="139.3" y="644.0" width="3.0" height="22.6" fill="#74c686" opacity="0.74"/>
<rect x="139.3" y="666.6" width="3.0" height="33.9" fill="#74c686" opacity="0.65"/>
<rect x="139.3" y="700.5" width="3.0" height="24.4" fill="#74c686" opacity="0.95"/>
<rect x="139.3" y="724.9" width="3.0" height="24.2" fill="#74c686" opacity="0.92"/>
<rect x="139.3" y="749.1" width="3.0" height="55.7" fill="#74c686" opacity="0.61"/>
<rect x="136.4" y="537.8" width="2.0" height="46.3" fill="#1a80d0" opacity="0.21"/>
<rect x="136.4" y="584.1" width="2.0" height="31.3" fill="#1a80d0" opacity="0.64"/>
<rect x="136.4" y="615.4" width="2.0" height="54.8" fill="#1a80d0" opacity="0.62"/>
<rect x="136.4" y="670.3" width="2.0" height="19.1" fill="#1a80d0" opacity="0.44"/>
<rect x="136.4" y="689.4" width="2.0" height="59.3" fill="#1a80d0" opacity="0.48"/>
<rect x="136.4" y="748.7" width="2.0" height="52.2" fill="#1a80d0" opacity="0.69"/>
<rect x="139.5" y="538.0" width="2.2" height="14.4" fill="#b8cc50" opacity="0.8"/>
<rect x="139.5" y="642.0" width="2.2" height="11.8" fill="#b8cc50" opacity="0.8"/>
<rect x="139.7" y="616.5" width="1.8" height="8.1" fill="#2a9ac8" opacity="0.8"/>
<rect x="139.7" y="670.3" width="1.8" height="3.8" fill="#2a9ac8" opacity="0.8"/>
<rect x="139.7" y="750.5" width="1.8" height="5.7" fill="#2a9ac8" opacity="0.8"/>
<rect x="145.5" y="537.8" width="3.0" height="40.1" fill="#74c686" opacity="1.00"/>
<rect x="145.5" y="577.9" width="3.0" height="43.6" fill="#74c686" opacity="0.89"/>
<rect x="145.5" y="621.5" width="3.0" height="48.2" fill="#74c686" opacity="0.89"/>
<rect x="145.5" y="669.7" width="3.0" height="23.9" fill="#74c686" opacity="0.97"/>
<rect x="145.5" y="693.6" width="3.0" height="42.0" fill="#74c686" opacity="0.81"/>
<rect x="145.5" y="735.7" width="3.0" height="57.2" fill="#74c686" opacity="0.88"/>
<rect x="142.6" y="537.8" width="2.0" height="69.3" fill="#1a80d0" opacity="0.66"/>
<rect x="142.6" y="607.1" width="2.0" height="39.7" fill="#1a80d0" opacity="0.63"/>
<rect x="142.6" y="646.8" width="2.0" height="25.9" fill="#1a80d0" opacity="0.54"/>
<rect x="142.6" y="672.7" width="2.0" height="52.3" fill="#1a80d0" opacity="0.58"/>
<rect x="142.6" y="725.0" width="2.0" height="68.4" fill="#1a80d0" opacity="0.42"/>
<rect x="145.9" y="766.7" width="1.8" height="4.7" fill="#2a9ac8" opacity="0.8"/>
<rect x="145.9" y="762.0" width="1.8" height="5.0" fill="#2a9ac8" opacity="0.8"/>
<rect x="145.9" y="542.6" width="1.8" height="8.0" fill="#2a9ac8" opacity="0.8"/>
<rect x="151.7" y="537.8" width="3.0" height="22.0" fill="#74c686" opacity="0.91"/>
<rect x="151.7" y="559.8" width="3.0" height="32.9" fill="#74c686" opacity="0.71"/>
<rect x="151.7" y="592.7" width="3.0" height="23.0" fill="#74c686" opacity="0.63"/>
<rect x="151.7" y="615.7" width="3.0" height="49.9" fill="#74c686" opacity="0.60"/>
<rect x="151.7" y="665.6" width="3.0" height="56.1" fill="#74c686" opacity="0.92"/>
<rect x="151.7" y="721.7" width="3.0" height="33.5" fill="#74c686" opacity="0.87"/>
<rect x="151.7" y="755.2" width="3.0" height="28.7" fill="#74c686" opacity="0.78"/>
<rect x="148.8" y="537.8" width="2.0" height="29.3" fill="#1a80d0" opacity="0.31"/>
<rect x="148.8" y="567.1" width="2.0" height="43.1" fill="#1a80d0" opacity="0.38"/>
<rect x="148.8" y="610.1" width="2.0" height="20.4" fill="#1a80d0" opacity="0.58"/>
<rect x="148.8" y="630.6" width="2.0" height="18.8" fill="#1a80d0" opacity="0.24"/>
<rect x="148.8" y="649.4" width="2.0" height="39.3" fill="#1a80d0" opacity="0.31"/>
<rect x="148.8" y="688.7" width="2.0" height="54.1" fill="#1a80d0" opacity="0.31"/>
<rect x="148.8" y="742.8" width="2.0" height="20.1" fill="#1a80d0" opacity="0.61"/>
<rect x="148.8" y="762.9" width="2.0" height="30.2" fill="#1a80d0" opacity="0.40"/>
<rect x="151.9" y="592.8" width="2.2" height="12.3" fill="#b8cc50" opacity="0.8"/>
<rect x="157.9" y="537.8" width="3.0" height="18.4" fill="#74c686" opacity="0.93"/>
<rect x="157.9" y="556.2" width="3.0" height="38.5" fill="#74c686" opacity="0.75"/>
<rect x="157.9" y="594.7" width="3.0" height="38.0" fill="#74c686" opacity="0.89"/>
<rect x="157.9" y="632.7" width="3.0" height="22.6" fill="#74c686" opacity="0.86"/>
<rect x="157.9" y="655.3" width="3.0" height="47.1" fill="#74c686" opacity="0.93"/>
<rect x="157.9" y="702.4" width="3.0" height="27.1" fill="#74c686" opacity="0.84"/>
<rect x="157.9" y="729.6" width="3.0" height="25.4" fill="#74c686" opacity="0.82"/>
<rect x="157.9" y="755.0" width="3.0" height="22.8" fill="#74c686" opacity="0.92"/>
<rect x="155.0" y="537.8" width="2.0" height="62.7" fill="#1a80d0" opacity="0.41"/>
<rect x="155.0" y="600.5" width="2.0" height="27.2" fill="#1a80d0" opacity="0.83"/>
<rect x="155.0" y="627.7" width="2.0" height="53.9" fill="#1a80d0" opacity="0.75"/>
<rect x="155.0" y="681.6" width="2.0" height="16.7" fill="#1a80d0" opacity="0.78"/>
<rect x="155.0" y="698.2" width="2.0" height="49.2" fill="#1a80d0" opacity="0.41"/>
<rect x="155.0" y="747.5" width="2.0" height="38.7" fill="#1a80d0" opacity="0.70"/>
<rect x="158.1" y="581.8" width="2.2" height="17.9" fill="#b8cc50" opacity="0.8"/>
<rect x="158.1" y="576.2" width="2.2" height="24.5" fill="#b8cc50" opacity="0.8"/>
<rect x="158.3" y="672.6" width="1.8" height="9.5" fill="#2a9ac8" opacity="0.8"/>
<rect x="158.3" y="572.1" width="1.8" height="9.6" fill="#2a9ac8" opacity="0.8"/>
<rect x="158.3" y="644.3" width="1.8" height="4.1" fill="#2a9ac8" opacity="0.8"/>
<rect x="164.1" y="537.8" width="3.0" height="50.0" fill="#74c686" opacity="0.96"/>
<rect x="164.1" y="587.8" width="3.0" height="34.8" fill="#74c686" opacity="0.72"/>
<rect x="164.1" y="622.7" width="3.0" height="33.0" fill="#74c686" opacity="0.65"/>
<rect x="164.1" y="655.7" width="3.0" height="24.3" fill="#74c686" opacity="0.87"/>
<rect x="164.1" y="680.0" width="3.0" height="18.1" fill="#74c686" opacity="0.69"/>
<rect x="164.1" y="698.0" width="3.0" height="29.5" fill="#74c686" opacity="0.97"/>
<rect x="164.1" y="727.5" width="3.0" height="58.0" fill="#74c686" opacity="0.62"/>
<rect x="161.2" y="537.8" width="2.0" height="59.5" fill="#1a80d0" opacity="0.22"/>
<rect x="161.2" y="597.3" width="2.0" height="56.4" fill="#1a80d0" opacity="0.64"/>
<rect x="161.2" y="653.7" width="2.0" height="42.2" fill="#1a80d0" opacity="0.54"/>
<rect x="161.2" y="695.9" width="2.0" height="54.8" fill="#1a80d0" opacity="0.78"/>
<rect x="161.2" y="750.7" width="2.0" height="39.3" fill="#1a80d0" opacity="0.63"/>
<rect x="164.3" y="565.2" width="2.2" height="19.2" fill="#b8cc50" opacity="0.8"/>
<rect x="164.3" y="559.9" width="2.2" height="13.6" fill="#b8cc50" opacity="0.8"/>
<rect x="164.5" y="642.1" width="1.8" height="8.3" fill="#2a9ac8" opacity="0.8"/>
<rect x="164.5" y="763.4" width="1.8" height="4.7" fill="#2a9ac8" opacity="0.8"/>
<rect x="164.5" y="603.5" width="1.8" height="6.8" fill="#2a9ac8" opacity="0.8"/>
<rect x="170.3" y="537.8" width="3.0" height="32.5" fill="#74c686" opacity="0.78"/>
<rect x="170.3" y="570.3" width="3.0" height="26.6" fill="#74c686" opacity="0.80"/>
<rect x="170.3" y="596.9" width="3.0" height="20.0" fill="#74c686" opacity="0.69"/>
<rect x="170.3" y="616.9" width="3.0" height="18.5" fill="#74c686" opacity="0.61"/>
<rect x="170.3" y="635.5" width="3.0" height="15.2" fill="#74c686" opacity="0.79"/>
<rect x="170.3" y="650.7" width="3.0" height="55.0" fill="#74c686" opacity="0.94"/>
<rect x="170.3" y="705.7" width="3.0" height="27.9" fill="#74c686" opacity="0.68"/>
<rect x="170.3" y="733.6" width="3.0" height="22.2" fill="#74c686" opacity="0.93"/>
<rect x="170.3" y="755.8" width="3.0" height="44.1" fill="#74c686" opacity="0.92"/>
<rect x="167.4" y="537.8" width="2.0" height="16.7" fill="#1a80d0" opacity="0.45"/>
<rect x="167.4" y="554.5" width="2.0" height="63.2" fill="#1a80d0" opacity="0.55"/>
<rect x="167.4" y="617.7" width="2.0" height="46.1" fill="#1a80d0" opacity="0.37"/>
<rect x="167.4" y="663.7" width="2.0" height="19.4" fill="#1a80d0" opacity="0.62"/>
<rect x="167.4" y="683.1" width="2.0" height="31.7" fill="#1a80d0" opacity="0.21"/>
<rect x="167.4" y="714.8" width="2.0" height="44.5" fill="#1a80d0" opacity="0.54"/>
<rect x="167.4" y="759.3" width="2.0" height="22.1" fill="#1a80d0" opacity="0.81"/>
<rect x="170.7" y="558.9" width="1.8" height="3.2" fill="#2a9ac8" opacity="0.8"/>
<rect x="170.7" y="685.6" width="1.8" height="8.2" fill="#2a9ac8" opacity="0.8"/>
<rect x="170.7" y="697.0" width="1.8" height="8.9" fill="#2a9ac8" opacity="0.8"/>
<rect x="176.5" y="537.8" width="3.0" height="44.8" fill="#74c686" opacity="0.76"/>
<rect x="176.5" y="582.6" width="3.0" height="43.4" fill="#74c686" opacity="0.99"/>
<rect x="176.5" y="626.0" width="3.0" height="43.9" fill="#74c686" opacity="0.70"/>
<rect x="176.5" y="669.9" width="3.0" height="17.7" fill="#74c686" opacity="0.97"/>
<rect x="176.5" y="687.6" width="3.0" height="41.6" fill="#74c686" opacity="0.74"/>
<rect x="176.5" y="729.2" width="3.0" height="42.2" fill="#74c686" opacity="0.82"/>
<rect x="173.6" y="537.8" width="2.0" height="43.7" fill="#1a80d0" opacity="0.24"/>
<rect x="173.6" y="581.5" width="2.0" height="34.4" fill="#1a80d0" opacity="0.47"/>
<rect x="173.6" y="615.9" width="2.0" height="26.0" fill="#1a80d0" opacity="0.77"/>
<rect x="173.6" y="641.9" width="2.0" height="38.3" fill="#1a80d0" opacity="0.63"/>
<rect x="173.6" y="680.2" width="2.0" height="54.2" fill="#1a80d0" opacity="0.68"/>
<rect x="173.6" y="734.5" width="2.0" height="54.7" fill="#1a80d0" opacity="0.69"/>
<rect x="176.7" y="579.0" width="2.2" height="7.8" fill="#b8cc50" opacity="0.8"/>
<rect x="176.7" y="551.4" width="2.2" height="9.9" fill="#b8cc50" opacity="0.8"/>
<rect x="176.9" y="735.3" width="1.8" height="3.4" fill="#2a9ac8" opacity="0.8"/>
<rect x="176.9" y="558.9" width="1.8" height="8.7" fill="#2a9ac8" opacity="0.8"/>
<rect x="176.9" y="646.6" width="1.8" height="5.6" fill="#2a9ac8" opacity="0.8"/>
<rect x="182.7" y="537.8" width="3.0" height="59.3" fill="#74c686" opacity="0.62"/>
<rect x="182.7" y="597.1" width="3.0" height="38.9" fill="#74c686" opacity="0.78"/>
<rect x="182.7" y="636.0" width="3.0" height="20.8" fill="#74c686" opacity="0.76"/>
<rect x="182.7" y="656.8" width="3.0" height="46.8" fill="#74c686" opacity="0.95"/>
<rect x="182.7" y="703.6" width="3.0" height="16.1" fill="#74c686" opacity="0.81"/>
<rect x="182.7" y="719.7" width="3.0" height="19.1" fill="#74c686" opacity="0.92"/>
<rect x="182.7" y="738.8" width="3.0" height="18.9" fill="#74c686" opacity="0.61"/>
<rect x="182.7" y="757.7" width="3.0" height="32.3" fill="#74c686" opacity="0.89"/>
<rect x="179.8" y="537.8" width="2.0" height="32.2" fill="#1a80d0" opacity="0.28"/>
<rect x="179.8" y="570.0" width="2.0" height="58.7" fill="#1a80d0" opacity="0.72"/>
<rect x="179.8" y="628.7" width="2.0" height="62.1" fill="#1a80d0" opacity="0.40"/>
<rect x="179.8" y="690.8" width="2.0" height="38.4" fill="#1a80d0" opacity="0.36"/>
<rect x="179.8" y="729.2" width="2.0" height="45.6" fill="#1a80d0" opacity="0.41"/>
<rect x="182.9" y="655.9" width="2.2" height="13.4" fill="#b8cc50" opacity="0.8"/>
<rect x="182.9" y="745.4" width="2.2" height="15.1" fill="#b8cc50" opacity="0.8"/>
<rect x="183.1" y="689.1" width="1.8" height="6.1" fill="#2a9ac8" opacity="0.8"/>
<rect x="188.9" y="537.8" width="3.0" height="59.5" fill="#74c686" opacity="0.89"/>
<rect x="188.9" y="597.3" width="3.0" height="52.6" fill="#74c686" opacity="0.88"/>
<rect x="188.9" y="649.8" width="3.0" height="39.1" fill="#74c686" opacity="0.96"/>
<rect x="188.9" y="688.9" width="3.0" height="52.4" fill="#74c686" opacity="0.72"/>
<rect x="188.9" y="741.4" width="3.0" height="22.1" fill="#74c686" opacity="0.75"/>
<rect x="188.9" y="763.4" width="3.0" height="38.4" fill="#74c686" opacity="0.64"/>
<rect x="186.0" y="537.8" width="2.0" height="34.0" fill="#1a80d0" opacity="0.57"/>
<rect x="186.0" y="571.8" width="2.0" height="17.4" fill="#1a80d0" opacity="0.73"/>
<rect x="186.0" y="589.2" width="2.0" height="50.8" fill="#1a80d0" opacity="0.40"/>
<rect x="186.0" y="640.0" width="2.0" height="31.4" fill="#1a80d0" opacity="0.43"/>
<rect x="186.0" y="671.4" width="2.0" height="32.9" fill="#1a80d0" opacity="0.69"/>
<rect x="186.0" y="704.3" width="2.0" height="42.6" fill="#1a80d0" opacity="0.54"/>
<rect x="186.0" y="746.9" width="2.0" height="23.2" fill="#1a80d0" opacity="0.79"/>
<rect x="189.1" y="719.7" width="2.2" height="16.9" fill="#b8cc50" opacity="0.8"/>
<rect x="189.1" y="642.5" width="2.2" height="11.3" fill="#b8cc50" opacity="0.8"/>
<rect x="189.3" y="749.4" width="1.8" height="9.5" fill="#2a9ac8" opacity="0.8"/>
<rect x="189.3" y="762.6" width="1.8" height="8.7" fill="#2a9ac8" opacity="0.8"/>
<rect x="189.3" y="752.3" width="1.8" height="9.5" fill="#2a9ac8" opacity="0.8"/>
<rect x="195.1" y="537.8" width="3.0" height="51.1" fill="#74c686" opacity="0.65"/>
<rect x="195.1" y="588.9" width="3.0" height="38.6" fill="#74c686" opacity="0.83"/>
<rect x="195.1" y="627.4" width="3.0" height="59.7" fill="#74c686" opacity="0.91"/>
<rect x="195.1" y="687.1" width="3.0" height="46.6" fill="#74c686" opacity="0.90"/>
<rect x="195.1" y="733.7" width="3.0" height="31.3" fill="#74c686" opacity="0.98"/>
<rect x="195.1" y="765.0" width="3.0" height="44.0" fill="#74c686" opacity="0.76"/>
<rect x="192.2" y="537.8" width="2.0" height="40.6" fill="#1a80d0" opacity="0.84"/>
<rect x="192.2" y="578.4" width="2.0" height="44.3" fill="#1a80d0" opacity="0.31"/>
<rect x="192.2" y="622.6" width="2.0" height="23.2" fill="#1a80d0" opacity="0.65"/>
<rect x="192.2" y="645.8" width="2.0" height="46.0" fill="#1a80d0" opacity="0.79"/>
<rect x="192.2" y="691.7" width="2.0" height="25.2" fill="#1a80d0" opacity="0.47"/>
<rect x="192.2" y="716.9" width="2.0" height="55.0" fill="#1a80d0" opacity="0.23"/>
<rect x="195.5" y="703.5" width="1.8" height="4.4" fill="#2a9ac8" opacity="0.8"/>
<rect x="195.5" y="553.3" width="1.8" height="7.0" fill="#2a9ac8" opacity="0.8"/>
<rect x="201.3" y="537.8" width="3.0" height="43.8" fill="#74c686" opacity="0.94"/>
<rect x="201.3" y="581.6" width="3.0" height="50.7" fill="#74c686" opacity="0.69"/>
<rect x="201.3" y="632.4" width="3.0" height="52.7" fill="#74c686" opacity="0.80"/>
<rect x="201.3" y="685.1" width="3.0" height="34.4" fill="#74c686" opacity="0.84"/>
<rect x="201.3" y="719.6" width="3.0" height="55.5" fill="#74c686" opacity="0.79"/>
<rect x="198.4" y="537.8" width="2.0" height="59.4" fill="#1a80d0" opacity="0.34"/>
<rect x="198.4" y="597.2" width="2.0" height="26.0" fill="#1a80d0" opacity="0.52"/>
<rect x="198.4" y="623.2" width="2.0" height="64.4" fill="#1a80d0" opacity="0.35"/>
<rect x="198.4" y="687.7" width="2.0" height="39.9" fill="#1a80d0" opacity="0.44"/>
<rect x="198.4" y="727.5" width="2.0" height="65.2" fill="#1a80d0" opacity="0.32"/>
<rect x="201.5" y="706.0" width="2.2" height="21.5" fill="#b8cc50" opacity="0.8"/>
<rect x="201.5" y="769.2" width="2.2" height="10.9" fill="#b8cc50" opacity="0.8"/>
<rect x="201.5" y="584.5" width="2.2" height="20.2" fill="#b8cc50" opacity="0.8"/>
<rect x="201.7" y="657.0" width="1.8" height="6.4" fill="#2a9ac8" opacity="0.8"/>
<rect x="201.7" y="631.4" width="1.8" height="9.2" fill="#2a9ac8" opacity="0.8"/>
<rect x="201.7" y="722.4" width="1.8" height="7.1" fill="#2a9ac8" opacity="0.8"/>
<rect x="207.5" y="537.8" width="3.0" height="16.8" fill="#74c686" opacity="0.94"/>
<rect x="207.5" y="554.6" width="3.0" height="35.6" fill="#74c686" opacity="0.68"/>
<rect x="207.5" y="590.2" width="3.0" height="28.5" fill="#74c686" opacity="0.88"/>
<rect x="207.5" y="618.7" width="3.0" height="15.2" fill="#74c686" opacity="0.65"/>
<rect x="207.5" y="634.0" width="3.0" height="28.6" fill="#74c686" opacity="0.95"/>
<rect x="207.5" y="662.6" width="3.0" height="48.6" fill="#74c686" opacity="0.99"/>
<rect x="207.5" y="711.2" width="3.0" height="39.4" fill="#74c686" opacity="0.83"/>
<rect x="207.5" y="750.6" width="3.0" height="39.8" fill="#74c686" opacity="0.81"/>
<rect x="204.6" y="537.8" width="2.0" height="44.8" fill="#1a80d0" opacity="0.73"/>
<rect x="204.6" y="582.6" width="2.0" height="67.4" fill="#1a80d0" opacity="0.47"/>
<rect x="204.6" y="650.0" width="2.0" height="49.6" fill="#1a80d0" opacity="0.40"/>
<rect x="204.6" y="699.7" width="2.0" height="31.6" fill="#1a80d0" opacity="0.53"/>
<rect x="204.6" y="731.3" width="2.0" height="47.2" fill="#1a80d0" opacity="0.56"/>
<rect x="207.7" y="596.4" width="2.2" height="6.2" fill="#b8cc50" opacity="0.8"/>
<rect x="207.9" y="708.4" width="1.8" height="7.0" fill="#2a9ac8" opacity="0.8"/>
<rect x="207.9" y="623.2" width="1.8" height="5.8" fill="#2a9ac8" opacity="0.8"/>
<rect x="207.9" y="754.9" width="1.8" height="9.3" fill="#2a9ac8" opacity="0.8"/>
<rect x="213.7" y="537.8" width="3.0" height="45.1" fill="#74c686" opacity="0.96"/>
<rect x="213.7" y="582.9" width="3.0" height="56.6" fill="#74c686" opacity="0.94"/>
<rect x="213.7" y="639.6" width="3.0" height="32.3" fill="#74c686" opacity="0.79"/>
<rect x="213.7" y="671.8" width="3.0" height="50.8" fill="#74c686" opacity="0.75"/>
<rect x="213.7" y="722.6" width="3.0" height="48.7" fill="#74c686" opacity="0.79"/>
<rect x="210.8" y="537.8" width="2.0" height="33.5" fill="#1a80d0" opacity="0.50"/>
<rect x="210.8" y="571.3" width="2.0" height="21.4" fill="#1a80d0" opacity="0.43"/>
<rect x="210.8" y="592.7" width="2.0" height="37.8" fill="#1a80d0" opacity="0.21"/>
<rect x="210.8" y="630.6" width="2.0" height="24.5" fill="#1a80d0" opacity="0.37"/>
<rect x="210.8" y="655.0" width="2.0" height="62.2" fill="#1a80d0" opacity="0.58"/>
<rect x="210.8" y="717.2" width="2.0" height="30.8" fill="#1a80d0" opacity="0.85"/>
<rect x="210.8" y="748.0" width="2.0" height="29.2" fill="#1a80d0" opacity="0.53"/>
<rect x="213.9" y="698.0" width="2.2" height="14.2" fill="#b8cc50" opacity="0.8"/>
<rect x="213.9" y="717.9" width="2.2" height="15.2" fill="#b8cc50" opacity="0.8"/>
<rect x="213.9" y="703.6" width="2.2" height="15.3" fill="#b8cc50" opacity="0.8"/>
<rect x="214.1" y="703.8" width="1.8" height="3.6" fill="#2a9ac8" opacity="0.8"/>
<rect x="214.1" y="567.8" width="1.8" height="9.8" fill="#2a9ac8" opacity="0.8"/>
<rect x="214.1" y="590.9" width="1.8" height="3.2" fill="#2a9ac8" opacity="0.8"/>
<rect x="219.9" y="537.8" width="3.0" height="26.4" fill="#74c686" opacity="0.79"/>
<rect x="219.9" y="564.2" width="3.0" height="57.8" fill="#74c686" opacity="0.76"/>
<rect x="219.9" y="622.0" width="3.0" height="47.6" fill="#74c686" opacity="0.93"/>
<rect x="219.9" y="669.6" width="3.0" height="19.0" fill="#74c686" opacity="0.84"/>
<rect x="219.9" y="688.6" width="3.0" height="59.8" fill="#74c686" opacity="0.82"/>
<rect x="219.9" y="748.4" width="3.0" height="39.1" fill="#74c686" opacity="0.74"/>
<rect x="217.0" y="537.8" width="2.0" height="67.0" fill="#1a80d0" opacity="0.83"/>
<rect x="217.0" y="604.8" width="2.0" height="20.7" fill="#1a80d0" opacity="0.56"/>
<rect x="217.0" y="625.5" width="2.0" height="38.1" fill="#1a80d0" opacity="0.64"/>
<rect x="217.0" y="663.6" width="2.0" height="21.5" fill="#1a80d0" opacity="0.37"/>
<rect x="217.0" y="685.1" width="2.0" height="30.3" fill="#1a80d0" opacity="0.51"/>
<rect x="217.0" y="715.4" width="2.0" height="58.6" fill="#1a80d0" opacity="0.76"/>
<rect x="220.1" y="694.7" width="2.2" height="7.7" fill="#b8cc50" opacity="0.8"/>
<rect x="220.3" y="566.5" width="1.8" height="6.1" fill="#2a9ac8" opacity="0.8"/>
<rect x="220.3" y="695.9" width="1.8" height="6.5" fill="#2a9ac8" opacity="0.8"/>
<rect x="220.3" y="628.9" width="1.8" height="7.2" fill="#2a9ac8" opacity="0.8"/>
<rect x="226.1" y="537.8" width="3.0" height="36.6" fill="#74c686" opacity="0.66"/>
<rect x="226.1" y="574.4" width="3.0" height="42.6" fill="#74c686" opacity="0.88"/>
<rect x="226.1" y="617.0" width="3.0" height="22.5" fill="#74c686" opacity="0.70"/>
<rect x="226.1" y="639.5" width="3.0" height="48.4" fill="#74c686" opacity="0.97"/>
<rect x="226.1" y="687.9" width="3.0" height="39.2" fill="#74c686" opacity="0.95"/>
<rect x="226.1" y="727.1" width="3.0" height="43.5" fill="#74c686" opacity="0.92"/>
<rect x="223.2" y="537.8" width="2.0" height="65.2" fill="#1a80d0" opacity="0.71"/>
<rect x="223.2" y="603.0" width="2.0" height="49.3" fill="#1a80d0" opacity="0.76"/>
<rect x="223.2" y="652.3" width="2.0" height="20.7" fill="#1a80d0" opacity="0.69"/>
<rect x="223.2" y="673.0" width="2.0" height="55.1" fill="#1a80d0" opacity="0.43"/>
<rect x="223.2" y="728.1" width="2.0" height="63.7" fill="#1a80d0" opacity="0.66"/>
<rect x="226.5" y="607.3" width="1.8" height="9.3" fill="#2a9ac8" opacity="0.8"/>
<rect x="226.5" y="561.2" width="1.8" height="6.6" fill="#2a9ac8" opacity="0.8"/>
<rect x="226.5" y="600.5" width="1.8" height="4.7" fill="#2a9ac8" opacity="0.8"/>
<rect x="232.3" y="537.8" width="3.0" height="21.7" fill="#74c686" opacity="0.70"/>
<rect x="232.3" y="559.5" width="3.0" height="33.3" fill="#74c686" opacity="0.85"/>
<rect x="232.3" y="592.8" width="3.0" height="55.7" fill="#74c686" opacity="0.62"/>
<rect x="232.3" y="648.5" width="3.0" height="52.6" fill="#74c686" opacity="0.80"/>
<rect x="232.3" y="701.0" width="3.0" height="57.6" fill="#74c686" opacity="0.71"/>
<rect x="232.3" y="758.6" width="3.0" height="36.6" fill="#74c686" opacity="0.72"/>
<rect x="229.4" y="537.8" width="2.0" height="42.0" fill="#1a80d0" opacity="0.52"/>
<rect x="229.4" y="579.8" width="2.0" height="47.9" fill="#1a80d0" opacity="0.36"/>
<rect x="229.4" y="627.8" width="2.0" height="24.7" fill="#1a80d0" opacity="0.69"/>
<rect x="229.4" y="652.5" width="2.0" height="55.7" fill="#1a80d0" opacity="0.58"/>
<rect x="229.4" y="708.1" width="2.0" height="39.8" fill="#1a80d0" opacity="0.30"/>
<rect x="229.4" y="747.9" width="2.0" height="42.7" fill="#1a80d0" opacity="0.54"/>
<rect x="232.5" y="687.3" width="2.2" height="21.4" fill="#b8cc50" opacity="0.8"/>
<rect x="232.7" y="610.9" width="1.8" height="6.5" fill="#2a9ac8" opacity="0.8"/>
<rect x="238.5" y="537.8" width="3.0" height="29.9" fill="#74c686" opacity="0.65"/>
<rect x="238.5" y="567.7" width="3.0" height="21.3" fill="#74c686" opacity="0.70"/>
<rect x="238.5" y="589.0" width="3.0" height="19.0" fill="#74c686" opacity="0.82"/>
<rect x="238.5" y="607.9" width="3.0" height="46.6" fill="#74c686" opacity="0.83"/>
<rect x="238.5" y="654.5" width="3.0" height="45.8" fill="#74c686" opacity="0.69"/>
<rect x="238.5" y="700.4" width="3.0" height="24.0" fill="#74c686" opacity="0.83"/>
<rect x="238.5" y="724.3" width="3.0" height="54.8" fill="#74c686" opacity="0.77"/>
<rect x="235.6" y="537.8" width="2.0" height="15.2" fill="#1a80d0" opacity="0.21"/>
<rect x="235.6" y="553.0" width="2.0" height="31.8" fill="#1a80d0" opacity="0.60"/>
<rect x="235.6" y="584.8" width="2.0" height="19.7" fill="#1a80d0" opacity="0.35"/>
<rect x="235.6" y="604.5" width="2.0" height="52.4" fill="#1a80d0" opacity="0.84"/>
<rect x="235.6" y="656.9" width="2.0" height="33.8" fill="#1a80d0" opacity="0.59"/>
<rect x="235.6" y="690.7" width="2.0" height="43.5" fill="#1a80d0" opacity="0.22"/>
<rect x="235.6" y="734.2" width="2.0" height="33.1" fill="#1a80d0" opacity="0.29"/>
<rect x="235.6" y="767.3" width="2.0" height="28.8" fill="#1a80d0" opacity="0.70"/>
<rect x="238.9" y="555.7" width="1.8" height="8.1" fill="#2a9ac8" opacity="0.8"/>
<rect x="238.9" y="561.7" width="1.8" height="5.2" fill="#2a9ac8" opacity="0.8"/>
<rect x="244.7" y="537.8" width="3.0" height="27.1" fill="#74c686" opacity="0.62"/>
<rect x="244.7" y="564.9" width="3.0" height="16.4" fill="#74c686" opacity="0.66"/>
<rect x="244.7" y="581.3" width="3.0" height="33.0" fill="#74c686" opacity="0.97"/>
<rect x="244.7" y="614.3" width="3.0" height="43.7" fill="#74c686" opacity="0.70"/>
<rect x="244.7" y="658.0" width="3.0" height="45.6" fill="#74c686" opacity="0.71"/>
<rect x="244.7" y="703.6" width="3.0" height="38.2" fill="#74c686" opacity="0.73"/>
<rect x="244.7" y="741.8" width="3.0" height="57.7" fill="#74c686" opacity="0.74"/>
<rect x="241.8" y="537.8" width="2.0" height="59.2" fill="#1a80d0" opacity="0.62"/>
<rect x="241.8" y="597.0" width="2.0" height="61.4" fill="#1a80d0" opacity="0.59"/>
<rect x="241.8" y="658.4" width="2.0" height="62.9" fill="#1a80d0" opacity="0.46"/>
<rect x="241.8" y="721.3" width="2.0" height="52.3" fill="#1a80d0" opacity="0.60"/>
<rect x="244.9" y="668.6" width="2.2" height="16.2" fill="#b8cc50" opacity="0.8"/>
<rect x="244.9" y="629.1" width="2.2" height="23.1" fill="#b8cc50" opacity="0.8"/>
<rect x="244.9" y="684.5" width="2.2" height="16.4" fill="#b8cc50" opacity="0.8"/>
<rect x="250.9" y="537.8" width="3.0" height="42.0" fill="#74c686" opacity="0.64"/>
<rect x="250.9" y="579.8" width="3.0" height="25.8" fill="#74c686" opacity="0.96"/>
<rect x="250.9" y="605.6" width="3.0" height="27.4" fill="#74c686" opacity="0.61"/>
<rect x="250.9" y="633.0" width="3.0" height="39.2" fill="#74c686" opacity="0.98"/>
<rect x="250.9" y="672.2" width="3.0" height="26.8" fill="#74c686" opacity="0.65"/>
<rect x="250.9" y="699.0" width="3.0" height="46.9" fill="#74c686" opacity="0.90"/>
<rect x="250.9" y="745.9" width="3.0" height="18.1" fill="#74c686" opacity="0.99"/>
<rect x="250.9" y="764.0" width="3.0" height="31.3" fill="#74c686" opacity="0.82"/>
<rect x="248.0" y="537.8" width="2.0" height="59.2" fill="#1a80d0" opacity="0.53"/>
<rect x="248.0" y="597.0" width="2.0" height="46.9" fill="#1a80d0" opacity="0.60"/>
<rect x="248.0" y="644.0" width="2.0" height="39.5" fill="#1a80d0" opacity="0.29"/>
<rect x="248.0" y="683.5" width="2.0" height="19.1" fill="#1a80d0" opacity="0.58"/>
<rect x="248.0" y="702.6" width="2.0" height="52.2" fill="#1a80d0" opacity="0.74"/>
<rect x="248.0" y="754.8" width="2.0" height="41.6" fill="#1a80d0" opacity="0.72"/>
<rect x="251.1" y="622.4" width="2.2" height="11.6" fill="#b8cc50" opacity="0.8"/>
<rect x="251.1" y="573.9" width="2.2" height="21.1" fill="#b8cc50" opacity="0.8"/>
<rect x="251.3" y="631.8" width="1.8" height="9.8" fill="#2a9ac8" opacity="0.8"/>
<rect x="251.3" y="571.4" width="1.8" height="5.1" fill="#2a9ac8" opacity="0.8"/>
<rect x="251.3" y="697.0" width="1.8" height="7.5" fill="#2a9ac8" opacity="0.8"/>
<rect x="257.1" y="537.8" width="3.0" height="57.9" fill="#74c686" opacity="0.81"/>
<rect x="257.1" y="595.7" width="3.0" height="15.4" fill="#74c686" opacity="0.93"/>
<rect x="257.1" y="611.1" width="3.0" height="21.0" fill="#74c686" opacity="0.90"/>
<rect x="257.1" y="632.1" width="3.0" height="57.4" fill="#74c686" opacity="0.64"/>
<rect x="257.1" y="689.5" width="3.0" height="16.4" fill="#74c686" opacity="0.77"/>
<rect x="257.1" y="705.9" width="3.0" height="45.6" fill="#74c686" opacity="0.71"/>
<rect x="257.1" y="751.4" width="3.0" height="31.7" fill="#74c686" opacity="0.76"/>
<rect x="254.2" y="537.8" width="2.0" height="40.4" fill="#1a80d0" opacity="0.26"/>
<rect x="254.2" y="578.2" width="2.0" height="57.9" fill="#1a80d0" opacity="0.62"/>
<rect x="254.2" y="636.1" width="2.0" height="53.4" fill="#1a80d0" opacity="0.73"/>
<rect x="254.2" y="689.4" width="2.0" height="60.7" fill="#1a80d0" opacity="0.58"/>
<rect x="254.2" y="750.2" width="2.0" height="44.2" fill="#1a80d0" opacity="0.70"/>
<rect x="257.3" y="719.3" width="2.2" height="16.8" fill="#b8cc50" opacity="0.8"/>
<rect x="257.3" y="762.3" width="2.2" height="12.8" fill="#b8cc50" opacity="0.8"/>
<rect x="257.5" y="727.8" width="1.8" height="4.7" fill="#2a9ac8" opacity="0.8"/>
<rect x="257.5" y="725.2" width="1.8" height="4.7" fill="#2a9ac8" opacity="0.8"/>
<rect x="257.5" y="668.2" width="1.8" height="5.5" fill="#2a9ac8" opacity="0.8"/>
<rect x="263.3" y="537.8" width="3.0" height="22.1" fill="#74c686" opacity="0.91"/>
<rect x="263.3" y="559.9" width="3.0" height="56.2" fill="#74c686" opacity="0.73"/>
<rect x="263.3" y="616.2" width="3.0" height="54.6" fill="#74c686" opacity="0.74"/>
<rect x="263.3" y="670.8" width="3.0" height="44.6" fill="#74c686" opacity="1.00"/>
<rect x="263.3" y="715.4" width="3.0" height="49.7" fill="#74c686" opacity="0.62"/>
<rect x="263.3" y="765.1" width="3.0" height="34.6" fill="#74c686" opacity="0.75"/>
<rect x="260.4" y="537.8" width="2.0" height="31.2" fill="#1a80d0" opacity="0.73"/>
<rect x="260.4" y="569.0" width="2.0" height="39.3" fill="#1a80d0" opacity="0.65"/>
<rect x="260.4" y="608.2" width="2.0" height="49.9" fill="#1a80d0" opacity="0.54"/>
<rect x="260.4" y="658.1" width="2.0" height="18.1" fill="#1a80d0" opacity="0.64"/>
<rect x="260.4" y="676.2" width="2.0" height="64.0" fill="#1a80d0" opacity="0.31"/>
<rect x="260.4" y="740.3" width="2.0" height="50.4" fill="#1a80d0" opacity="0.52"/>
<rect x="263.5" y="713.4" width="2.2" height="8.3" fill="#b8cc50" opacity="0.8"/>
<rect x="263.5" y="672.9" width="2.2" height="15.1" fill="#b8cc50" opacity="0.8"/>
<rect x="263.7" y="626.6" width="1.8" height="8.8" fill="#2a9ac8" opacity="0.8"/>
<rect x="269.5" y="537.8" width="3.0" height="22.9" fill="#74c686" opacity="0.89"/>
<rect x="269.5" y="560.7" width="3.0" height="19.5" fill="#74c686" opacity="0.73"/>
<rect x="269.5" y="580.1" width="3.0" height="58.6" fill="#74c686" opacity="0.86"/>
<rect x="269.5" y="638.8" width="3.0" height="50.3" fill="#74c686" opacity="0.78"/>
<rect x="269.5" y="689.1" width="3.0" height="36.2" fill="#74c686" opacity="0.80"/>
<rect x="269.5" y="725.3" width="3.0" height="49.8" fill="#74c686" opacity="0.89"/>
<rect x="266.6" y="537.8" width="2.0" height="25.7" fill="#1a80d0" opacity="0.49"/>
<rect x="266.6" y="563.5" width="2.0" height="44.8" fill="#1a80d0" opacity="0.57"/>
<rect x="266.6" y="608.3" width="2.0" height="66.0" fill="#1a80d0" opacity="0.75"/>
<rect x="266.6" y="674.2" width="2.0" height="23.2" fill="#1a80d0" opacity="0.44"/>
<rect x="266.6" y="697.5" width="2.0" height="21.0" fill="#1a80d0" opacity="0.22"/>
<rect x="266.6" y="718.5" width="2.0" height="19.1" fill="#1a80d0" opacity="0.32"/>
<rect x="266.6" y="737.6" width="2.0" height="57.1" fill="#1a80d0" opacity="0.63"/>
<rect x="269.7" y="750.6" width="2.2" height="8.9" fill="#b8cc50" opacity="0.8"/>
<rect x="269.7" y="659.4" width="2.2" height="8.0" fill="#b8cc50" opacity="0.8"/>
<rect x="269.9" y="542.2" width="1.8" height="5.8" fill="#2a9ac8" opacity="0.8"/>
<rect x="269.9" y="684.7" width="1.8" height="8.2" fill="#2a9ac8" opacity="0.8"/>
<rect x="275.7" y="537.8" width="3.0" height="56.1" fill="#74c686" opacity="0.82"/>
<rect x="275.7" y="593.9" width="3.0" height="32.6" fill="#74c686" opacity="0.60"/>
<rect x="275.7" y="626.5" width="3.0" height="51.2" fill="#74c686" opacity="0.99"/>
<rect x="275.7" y="677.6" width="3.0" height="55.8" fill="#74c686" opacity="0.86"/>
<rect x="275.7" y="733.5" width="3.0" height="30.4" fill="#74c686" opacity="0.70"/>
<rect x="275.7" y="763.9" width="3.0" height="49.9" fill="#74c686" opacity="0.97"/>
<rect x="272.8" y="537.8" width="2.0" height="67.8" fill="#1a80d0" opacity="0.31"/>
<rect x="272.8" y="605.6" width="2.0" height="47.2" fill="#1a80d0" opacity="0.53"/>
<rect x="272.8" y="652.8" width="2.0" height="38.5" fill="#1a80d0" opacity="0.72"/>
<rect x="272.8" y="691.3" width="2.0" height="66.5" fill="#1a80d0" opacity="0.67"/>
<rect x="272.8" y="757.8" width="2.0" height="53.5" fill="#1a80d0" opacity="0.65"/>
<rect x="276.1" y="630.1" width="1.8" height="6.3" fill="#2a9ac8" opacity="0.8"/>
<rect x="281.9" y="537.8" width="3.0" height="40.5" fill="#74c686" opacity="0.62"/>
<rect x="281.9" y="578.3" width="3.0" height="19.0" fill="#74c686" opacity="0.64"/>
<rect x="281.9" y="597.4" width="3.0" height="51.7" fill="#74c686" opacity="0.62"/>
<rect x="281.9" y="649.0" width="3.0" height="38.3" fill="#74c686" opacity="0.91"/>
<rect x="281.9" y="687.4" width="3.0" height="15.9" fill="#74c686" opacity="0.94"/>
<rect x="281.9" y="703.3" width="3.0" height="36.0" fill="#74c686" opacity="0.89"/>
<rect x="281.9" y="739.3" width="3.0" height="22.5" fill="#74c686" opacity="0.65"/>
<rect x="281.9" y="761.8" width="3.0" height="40.3" fill="#74c686" opacity="0.93"/>
<rect x="279.0" y="537.8" width="2.0" height="57.4" fill="#1a80d0" opacity="0.61"/>
<rect x="279.0" y="595.2" width="2.0" height="69.6" fill="#1a80d0" opacity="0.72"/>
<rect x="279.0" y="664.7" width="2.0" height="45.5" fill="#1a80d0" opacity="0.65"/>
<rect x="279.0" y="710.2" width="2.0" height="53.4" fill="#1a80d0" opacity="0.73"/>
<rect x="279.0" y="763.6" width="2.0" height="42.2" fill="#1a80d0" opacity="0.38"/>
<rect x="282.1" y="597.9" width="2.2" height="11.3" fill="#b8cc50" opacity="0.8"/>
<rect x="282.3" y="718.7" width="1.8" height="7.4" fill="#2a9ac8" opacity="0.8"/>
<rect x="288.1" y="537.8" width="3.0" height="47.9" fill="#74c686" opacity="0.73"/>
<rect x="288.1" y="585.7" width="3.0" height="21.4" fill="#74c686" opacity="0.70"/>
<rect x="288.1" y="607.1" width="3.0" height="30.7" fill="#74c686" opacity="0.71"/>
<rect x="288.1" y="637.8" width="3.0" height="36.0" fill="#74c686" opacity="0.66"/>
<rect x="288.1" y="673.9" width="3.0" height="20.9" fill="#74c686" opacity="0.70"/>
<rect x="288.1" y="694.8" width="3.0" height="23.8" fill="#74c686" opacity="0.92"/>
<rect x="288.1" y="718.6" width="3.0" height="39.2" fill="#74c686" opacity="0.68"/>
<rect x="288.1" y="757.8" width="3.0" height="34.3" fill="#74c686" opacity="0.95"/>
<rect x="285.2" y="537.8" width="2.0" height="46.8" fill="#1a80d0" opacity="0.56"/>
<rect x="285.2" y="584.6" width="2.0" height="36.5" fill="#1a80d0" opacity="0.33"/>
<rect x="285.2" y="621.1" width="2.0" height="49.4" fill="#1a80d0" opacity="0.25"/>
<rect x="285.2" y="670.5" width="2.0" height="58.2" fill="#1a80d0" opacity="0.24"/>
<rect x="285.2" y="728.7" width="2.0" height="56.0" fill="#1a80d0" opacity="0.45"/>
<rect x="288.3" y="674.8" width="2.2" height="8.5" fill="#b8cc50" opacity="0.8"/>
<rect x="294.3" y="537.8" width="3.0" height="56.7" fill="#74c686" opacity="0.94"/>
<rect x="294.3" y="594.5" width="3.0" height="21.3" fill="#74c686" opacity="0.68"/>
<rect x="294.3" y="615.8" width="3.0" height="47.4" fill="#74c686" opacity="0.76"/>
<rect x="294.3" y="663.2" width="3.0" height="48.7" fill="#74c686" opacity="0.67"/>
<rect x="294.3" y="711.9" width="3.0" height="28.4" fill="#74c686" opacity="0.66"/>
<rect x="294.3" y="740.3" width="3.0" height="37.1" fill="#74c686" opacity="0.72"/>
<rect x="291.4" y="537.8" width="2.0" height="43.3" fill="#1a80d0" opacity="0.39"/>
<rect x="291.4" y="581.1" width="2.0" height="53.8" fill="#1a80d0" opacity="0.21"/>
<rect x="291.4" y="634.9" width="2.0" height="59.0" fill="#1a80d0" opacity="0.60"/>
<rect x="291.4" y="693.9" width="2.0" height="20.7" fill="#1a80d0" opacity="0.44"/>
<rect x="291.4" y="714.6" width="2.0" height="39.4" fill="#1a80d0" opacity="0.60"/>
<rect x="291.4" y="754.0" width="2.0" height="17.9" fill="#1a80d0" opacity="0.71"/>
<rect x="294.5" y="726.1" width="2.2" height="24.2" fill="#b8cc50" opacity="0.8"/>
<rect x="300.5" y="537.8" width="3.0" height="20.1" fill="#74c686" opacity="0.77"/>
<rect x="300.5" y="557.9" width="3.0" height="41.4" fill="#74c686" opacity="0.90"/>
<rect x="300.5" y="599.3" width="3.0" height="37.7" fill="#74c686" opacity="0.76"/>
<rect x="300.5" y="636.9" width="3.0" height="56.0" fill="#74c686" opacity="0.99"/>
<rect x="300.5" y="693.0" width="3.0" height="24.5" fill="#74c686" opacity="0.98"/>
<rect x="300.5" y="717.5" width="3.0" height="44.7" fill="#74c686" opacity="0.81"/>
<rect x="300.5" y="762.3" width="3.0" height="51.6" fill="#74c686" opacity="0.83"/>
<rect x="297.6" y="537.8" width="2.0" height="54.9" fill="#1a80d0" opacity="0.67"/>
<rect x="297.6" y="592.7" width="2.0" height="59.5" fill="#1a80d0" opacity="0.84"/>
<rect x="297.6" y="652.2" width="2.0" height="45.9" fill="#1a80d0" opacity="0.63"/>
<rect x="297.6" y="698.1" width="2.0" height="45.0" fill="#1a80d0" opacity="0.35"/>
<rect x="297.6" y="743.1" width="2.0" height="17.1" fill="#1a80d0" opacity="0.31"/>
<rect x="297.6" y="760.2" width="2.0" height="51.9" fill="#1a80d0" opacity="0.56"/>
<rect x="300.7" y="736.1" width="2.2" height="24.4" fill="#b8cc50" opacity="0.8"/>
<rect x="300.9" y="630.2" width="1.8" height="6.5" fill="#2a9ac8" opacity="0.8"/>
<rect x="300.9" y="692.9" width="1.8" height="8.8" fill="#2a9ac8" opacity="0.8"/>
<rect x="300.9" y="581.1" width="1.8" height="3.1" fill="#2a9ac8" opacity="0.8"/>
<rect x="306.7" y="537.8" width="3.0" height="48.9" fill="#74c686" opacity="0.80"/>
<rect x="306.7" y="586.7" width="3.0" height="32.7" fill="#74c686" opacity="0.89"/>
<rect x="306.7" y="619.4" width="3.0" height="52.0" fill="#74c686" opacity="0.73"/>
<rect x="306.7" y="671.5" width="3.0" height="26.0" fill="#74c686" opacity="0.63"/>
<rect x="306.7" y="697.4" width="3.0" height="48.6" fill="#74c686" opacity="0.94"/>
<rect x="306.7" y="746.0" width="3.0" height="52.5" fill="#74c686" opacity="0.68"/>
<rect x="303.8" y="537.8" width="2.0" height="24.5" fill="#1a80d0" opacity="0.53"/>
<rect x="303.8" y="562.3" width="2.0" height="61.6" fill="#1a80d0" opacity="0.45"/>
<rect x="303.8" y="623.9" width="2.0" height="34.8" fill="#1a80d0" opacity="0.35"/>
<rect x="303.8" y="658.8" width="2.0" height="51.2" fill="#1a80d0" opacity="0.58"/>
<rect x="303.8" y="710.0" width="2.0" height="56.6" fill="#1a80d0" opacity="0.84"/>
<rect x="303.8" y="766.6" width="2.0" height="33.8" fill="#1a80d0" opacity="0.23"/>
<rect x="307.1" y="744.4" width="1.8" height="9.0" fill="#2a9ac8" opacity="0.8"/>
<rect x="312.9" y="537.8" width="3.0" height="57.2" fill="#74c686" opacity="0.79"/>
<rect x="312.9" y="595.0" width="3.0" height="41.2" fill="#74c686" opacity="0.63"/>
<rect x="312.9" y="636.3" width="3.0" height="54.0" fill="#74c686" opacity="0.83"/>
<rect x="312.9" y="690.3" width="3.0" height="19.1" fill="#74c686" opacity="0.76"/>
<rect x="312.9" y="709.4" width="3.0" height="38.0" fill="#74c686" opacity="0.83"/>
<rect x="312.9" y="747.4" width="3.0" height="28.6" fill="#74c686" opacity="0.71"/>
<rect x="310.0" y="537.8" width="2.0" height="34.4" fill="#1a80d0" opacity="0.82"/>
<rect x="310.0" y="572.2" width="2.0" height="17.7" fill="#1a80d0" opacity="0.82"/>
<rect x="310.0" y="589.9" width="2.0" height="62.9" fill="#1a80d0" opacity="0.21"/>
<rect x="310.0" y="652.8" width="2.0" height="31.8" fill="#1a80d0" opacity="0.69"/>
<rect x="310.0" y="684.6" width="2.0" height="58.7" fill="#1a80d0" opacity="0.59"/>
<rect x="310.0" y="743.3" width="2.0" height="45.6" fill="#1a80d0" opacity="0.85"/>
<rect x="313.3" y="634.0" width="1.8" height="10.0" fill="#2a9ac8" opacity="0.8"/>
<rect x="313.3" y="721.1" width="1.8" height="7.0" fill="#2a9ac8" opacity="0.8"/>
<rect x="319.1" y="537.8" width="3.0" height="20.1" fill="#74c686" opacity="0.83"/>
<rect x="319.1" y="557.9" width="3.0" height="15.6" fill="#74c686" opacity="0.96"/>
<rect x="319.1" y="573.6" width="3.0" height="30.2" fill="#74c686" opacity="0.75"/>
<rect x="319.1" y="603.7" width="3.0" height="39.8" fill="#74c686" opacity="0.85"/>
<rect x="319.1" y="643.5" width="3.0" height="41.2" fill="#74c686" opacity="0.79"/>
<rect x="319.1" y="684.7" width="3.0" height="43.5" fill="#74c686" opacity="0.94"/>
<rect x="319.1" y="728.3" width="3.0" height="35.1" fill="#74c686" opacity="0.80"/>
<rect x="319.1" y="763.3" width="3.0" height="51.5" fill="#74c686" opacity="0.60"/>
<rect x="316.2" y="537.8" width="2.0" height="23.8" fill="#1a80d0" opacity="0.41"/>
<rect x="316.2" y="561.6" width="2.0" height="26.8" fill="#1a80d0" opacity="0.78"/>
<rect x="316.2" y="588.4" width="2.0" height="23.2" fill="#1a80d0" opacity="0.27"/>
<rect x="316.2" y="611.6" width="2.0" height="32.4" fill="#1a80d0" opacity="0.53"/>
<rect x="316.2" y="644.0" width="2.0" height="60.2" fill="#1a80d0" opacity="0.85"/>
<rect x="316.2" y="704.2" width="2.0" height="61.9" fill="#1a80d0" opacity="0.60"/>
<rect x="316.2" y="766.0" width="2.0" height="17.1" fill="#1a80d0" opacity="0.24"/>
<rect x="319.3" y="727.8" width="2.2" height="11.0" fill="#b8cc50" opacity="0.8"/>
<rect x="319.5" y="665.4" width="1.8" height="7.0" fill="#2a9ac8" opacity="0.8"/>
<rect x="319.5" y="681.2" width="1.8" height="3.5" fill="#2a9ac8" opacity="0.8"/>
<rect x="319.5" y="577.3" width="1.8" height="9.6" fill="#2a9ac8" opacity="0.8"/>
<rect x="133.8" y="541.0" width="97.0" height="224.5" fill="#22a0c6"/>
<rect x="137.8" y="541.0" width="2.4" height="36.0" fill="#48b8ac" opacity="0.39"/>
<rect x="137.8" y="577.0" width="2.4" height="36.9" fill="#48b8ac" opacity="0.68"/>
<rect x="137.8" y="614.0" width="2.4" height="35.8" fill="#48b8ac" opacity="0.44"/>
<rect x="137.8" y="649.8" width="2.4" height="36.6" fill="#48b8ac" opacity="0.57"/>
<rect x="137.8" y="686.4" width="2.4" height="64.3" fill="#48b8ac" opacity="0.49"/>
<rect x="137.8" y="750.6" width="2.4" height="72.4" fill="#48b8ac" opacity="0.79"/>
<rect x="134.9" y="541" width="2.0" height="224.5" fill="#1a84d0" opacity="0.63"/>
<rect x="144.0" y="541.0" width="2.4" height="24.5" fill="#48b8ac" opacity="0.49"/>
<rect x="144.0" y="565.5" width="2.4" height="75.5" fill="#48b8ac" opacity="0.74"/>
<rect x="144.0" y="641.1" width="2.4" height="28.0" fill="#48b8ac" opacity="0.55"/>
<rect x="144.0" y="669.0" width="2.4" height="41.8" fill="#48b8ac" opacity="0.69"/>
<rect x="144.0" y="710.9" width="2.4" height="21.7" fill="#48b8ac" opacity="0.49"/>
<rect x="144.0" y="732.6" width="2.4" height="65.0" fill="#48b8ac" opacity="0.75"/>
<rect x="141.1" y="541" width="2.0" height="224.5" fill="#1a84d0" opacity="0.32"/>
<rect x="150.2" y="541.0" width="2.4" height="55.3" fill="#48b8ac" opacity="0.65"/>
<rect x="150.2" y="596.3" width="2.4" height="72.4" fill="#48b8ac" opacity="0.54"/>
<rect x="150.2" y="668.7" width="2.4" height="78.4" fill="#48b8ac" opacity="0.44"/>
<rect x="150.2" y="747.1" width="2.4" height="26.9" fill="#48b8ac" opacity="0.41"/>
<rect x="147.3" y="541" width="2.0" height="224.5" fill="#1a84d0" opacity="0.53"/>
<rect x="156.4" y="541.0" width="2.4" height="27.3" fill="#48b8ac" opacity="0.47"/>
<rect x="156.4" y="568.3" width="2.4" height="31.8" fill="#48b8ac" opacity="0.37"/>
<rect x="156.4" y="600.1" width="2.4" height="77.7" fill="#48b8ac" opacity="0.50"/>
<rect x="156.4" y="677.9" width="2.4" height="77.8" fill="#48b8ac" opacity="0.68"/>
<rect x="156.4" y="755.7" width="2.4" height="33.2" fill="#48b8ac" opacity="0.77"/>
<rect x="153.5" y="541" width="2.0" height="224.5" fill="#1a84d0" opacity="0.30"/>
<rect x="162.6" y="541.0" width="2.4" height="78.9" fill="#48b8ac" opacity="0.36"/>
<rect x="162.6" y="619.9" width="2.4" height="35.2" fill="#48b8ac" opacity="0.60"/>
<rect x="162.6" y="655.1" width="2.4" height="20.6" fill="#48b8ac" opacity="0.69"/>
<rect x="162.6" y="675.6" width="2.4" height="25.1" fill="#48b8ac" opacity="0.72"/>
<rect x="162.6" y="700.7" width="2.4" height="22.1" fill="#48b8ac" opacity="0.59"/>
<rect x="162.6" y="722.8" width="2.4" height="32.6" fill="#48b8ac" opacity="0.48"/>
<rect x="162.6" y="755.4" width="2.4" height="49.4" fill="#48b8ac" opacity="0.52"/>
<rect x="159.7" y="541" width="2.0" height="224.5" fill="#1a84d0" opacity="0.46"/>
<rect x="168.8" y="541.0" width="2.4" height="59.2" fill="#48b8ac" opacity="0.44"/>
<rect x="168.8" y="600.2" width="2.4" height="30.9" fill="#48b8ac" opacity="0.66"/>
<rect x="168.8" y="631.1" width="2.4" height="37.8" fill="#48b8ac" opacity="0.77"/>
<rect x="168.8" y="668.9" width="2.4" height="45.6" fill="#48b8ac" opacity="0.56"/>
<rect x="168.8" y="714.5" width="2.4" height="21.4" fill="#48b8ac" opacity="0.36"/>
<rect x="168.8" y="735.9" width="2.4" height="26.3" fill="#48b8ac" opacity="0.63"/>
<rect x="168.8" y="762.2" width="2.4" height="59.9" fill="#48b8ac" opacity="0.78"/>
<rect x="165.9" y="541" width="2.0" height="224.5" fill="#1a84d0" opacity="0.47"/>
<rect x="175.0" y="541.0" width="2.4" height="62.5" fill="#48b8ac" opacity="0.50"/>
<rect x="175.0" y="603.5" width="2.4" height="24.4" fill="#48b8ac" opacity="0.54"/>
<rect x="175.0" y="627.9" width="2.4" height="62.1" fill="#48b8ac" opacity="0.71"/>
<rect x="175.0" y="690.0" width="2.4" height="77.1" fill="#48b8ac" opacity="0.72"/>
<rect x="172.1" y="541" width="2.0" height="224.5" fill="#1a84d0" opacity="0.53"/>
<rect x="181.2" y="541.0" width="2.4" height="53.0" fill="#48b8ac" opacity="0.58"/>
<rect x="181.2" y="594.0" width="2.4" height="48.7" fill="#48b8ac" opacity="0.66"/>
<rect x="181.2" y="642.7" width="2.4" height="54.5" fill="#48b8ac" opacity="0.74"/>
<rect x="181.2" y="697.2" width="2.4" height="47.0" fill="#48b8ac" opacity="0.56"/>
<rect x="181.2" y="744.2" width="2.4" height="69.9" fill="#48b8ac" opacity="0.65"/>
<rect x="178.3" y="541" width="2.0" height="224.5" fill="#1a84d0" opacity="0.51"/>
<rect x="187.4" y="541.0" width="2.4" height="53.8" fill="#48b8ac" opacity="0.71"/>
<rect x="187.4" y="594.8" width="2.4" height="56.4" fill="#48b8ac" opacity="0.47"/>
<rect x="187.4" y="651.2" width="2.4" height="38.6" fill="#48b8ac" opacity="0.62"/>
<rect x="187.4" y="689.9" width="2.4" height="22.8" fill="#48b8ac" opacity="0.56"/>
<rect x="187.4" y="712.6" width="2.4" height="73.5" fill="#48b8ac" opacity="0.45"/>
<rect x="184.5" y="541" width="2.0" height="224.5" fill="#1a84d0" opacity="0.48"/>
<rect x="193.6" y="541.0" width="2.4" height="62.0" fill="#48b8ac" opacity="0.77"/>
<rect x="193.6" y="603.0" width="2.4" height="61.8" fill="#48b8ac" opacity="0.63"/>
<rect x="193.6" y="664.7" width="2.4" height="43.0" fill="#48b8ac" opacity="0.55"/>
<rect x="193.6" y="707.8" width="2.4" height="58.5" fill="#48b8ac" opacity="0.51"/>
<rect x="190.7" y="541" width="2.0" height="224.5" fill="#1a84d0" opacity="0.61"/>
<rect x="199.8" y="541.0" width="2.4" height="20.5" fill="#48b8ac" opacity="0.69"/>
<rect x="199.8" y="561.5" width="2.4" height="64.5" fill="#48b8ac" opacity="0.49"/>
<rect x="199.8" y="626.0" width="2.4" height="20.9" fill="#48b8ac" opacity="0.50"/>
<rect x="199.8" y="646.9" width="2.4" height="55.4" fill="#48b8ac" opacity="0.70"/>
<rect x="199.8" y="702.3" width="2.4" height="72.2" fill="#48b8ac" opacity="0.44"/>
<rect x="196.9" y="541" width="2.0" height="224.5" fill="#1a84d0" opacity="0.33"/>
<rect x="206.0" y="541.0" width="2.4" height="27.2" fill="#48b8ac" opacity="0.80"/>
<rect x="206.0" y="568.2" width="2.4" height="58.7" fill="#48b8ac" opacity="0.41"/>
<rect x="206.0" y="626.9" width="2.4" height="61.4" fill="#48b8ac" opacity="0.78"/>
<rect x="206.0" y="688.4" width="2.4" height="56.4" fill="#48b8ac" opacity="0.45"/>
<rect x="206.0" y="744.8" width="2.4" height="77.7" fill="#48b8ac" opacity="0.67"/>
<rect x="203.1" y="541" width="2.0" height="224.5" fill="#1a84d0" opacity="0.37"/>
<rect x="212.2" y="541.0" width="2.4" height="66.0" fill="#48b8ac" opacity="0.58"/>
<rect x="212.2" y="607.0" width="2.4" height="54.4" fill="#48b8ac" opacity="0.51"/>
<rect x="212.2" y="661.4" width="2.4" height="37.6" fill="#48b8ac" opacity="0.54"/>
<rect x="212.2" y="699.0" width="2.4" height="51.6" fill="#48b8ac" opacity="0.56"/>
<rect x="212.2" y="750.6" width="2.4" height="72.0" fill="#48b8ac" opacity="0.38"/>
<rect x="209.3" y="541" width="2.0" height="224.5" fill="#1a84d0" opacity="0.38"/>
<rect x="218.4" y="541.0" width="2.4" height="76.3" fill="#48b8ac" opacity="0.62"/>
<rect x="218.4" y="617.3" width="2.4" height="57.1" fill="#48b8ac" opacity="0.63"/>
<rect x="218.4" y="674.3" width="2.4" height="34.6" fill="#48b8ac" opacity="0.53"/>
<rect x="218.4" y="708.9" width="2.4" height="32.6" fill="#48b8ac" opacity="0.42"/>
<rect x="218.4" y="741.5" width="2.4" height="79.4" fill="#48b8ac" opacity="0.68"/>
<rect x="215.5" y="541" width="2.0" height="224.5" fill="#1a84d0" opacity="0.65"/>
<rect x="224.6" y="541.0" width="2.4" height="20.1" fill="#48b8ac" opacity="0.67"/>
<rect x="224.6" y="561.1" width="2.4" height="38.4" fill="#48b8ac" opacity="0.57"/>
<rect x="224.6" y="599.5" width="2.4" height="60.5" fill="#48b8ac" opacity="0.36"/>
<rect x="224.6" y="660.0" width="2.4" height="42.2" fill="#48b8ac" opacity="0.60"/>
<rect x="224.6" y="702.3" width="2.4" height="72.5" fill="#48b8ac" opacity="0.58"/>
<rect x="221.7" y="541" width="2.0" height="224.5" fill="#1a84d0" opacity="0.43"/>
<rect x="230.8" y="541.0" width="2.4" height="56.2" fill="#48b8ac" opacity="0.61"/>
<rect x="230.8" y="597.2" width="2.4" height="37.5" fill="#48b8ac" opacity="0.60"/>
<rect x="230.8" y="634.8" width="2.4" height="36.6" fill="#48b8ac" opacity="0.36"/>
<rect x="230.8" y="671.3" width="2.4" height="38.6" fill="#48b8ac" opacity="0.39"/>
<rect x="230.8" y="710.0" width="2.4" height="49.5" fill="#48b8ac" opacity="0.58"/>
<rect x="230.8" y="759.5" width="2.4" height="72.2" fill="#48b8ac" opacity="0.69"/>
<rect x="227.9" y="541" width="2.0" height="224.5" fill="#1a84d0" opacity="0.60"/>
</g></g>
<rect x="135.5" y="542.7" width="93.6" height="221.1" fill="none" stroke="#dc2222" stroke-width="3.4"/>
<line x1="50.5" y1="537.8" x2="317.0" y2="537.8" stroke="#2a5a6a" stroke-width="0.8"/>
<text x="40.9" y="541.4" font-family="Liberation Sans" font-size="10.20" fill="#111" text-anchor="middle" textLength="16.5" lengthAdjust="spacingAndGlyphs" font-weight="bold">100</text>
<text x="40.9" y="564.6" font-family="Liberation Sans" font-size="10.20" fill="#111" text-anchor="middle" textLength="16.5" lengthAdjust="spacingAndGlyphs" font-weight="bold">110</text>
<text x="40.9" y="587.8" font-family="Liberation Sans" font-size="10.20" fill="#111" text-anchor="middle" textLength="16.5" lengthAdjust="spacingAndGlyphs" font-weight="bold">120</text>
<text x="40.9" y="610.9" font-family="Liberation Sans" font-size="10.20" fill="#111" text-anchor="middle" textLength="16.5" lengthAdjust="spacingAndGlyphs" font-weight="bold">130</text>
<text x="40.9" y="634.1" font-family="Liberation Sans" font-size="10.20" fill="#111" text-anchor="middle" textLength="16.5" lengthAdjust="spacingAndGlyphs" font-weight="bold">140</text>
<text x="40.9" y="657.3" font-family="Liberation Sans" font-size="10.20" fill="#111" text-anchor="middle" textLength="16.5" lengthAdjust="spacingAndGlyphs" font-weight="bold">150</text>
<text x="40.9" y="680.5" font-family="Liberation Sans" font-size="10.20" fill="#111" text-anchor="middle" textLength="16.5" lengthAdjust="spacingAndGlyphs" font-weight="bold">160</text>
<text x="40.9" y="703.7" font-family="Liberation Sans" font-size="10.20" fill="#111" text-anchor="middle" textLength="16.5" lengthAdjust="spacingAndGlyphs" font-weight="bold">170</text>
<text x="40.9" y="726.8" font-family="Liberation Sans" font-size="10.20" fill="#111" text-anchor="middle" textLength="16.5" lengthAdjust="spacingAndGlyphs" font-weight="bold">180</text>
<text x="40.9" y="750.0" font-family="Liberation Sans" font-size="10.20" fill="#111" text-anchor="middle" textLength="16.5" lengthAdjust="spacingAndGlyphs" font-weight="bold">190</text>
<text x="40.9" y="773.2" font-family="Liberation Sans" font-size="10.20" fill="#111" text-anchor="middle" textLength="16.5" lengthAdjust="spacingAndGlyphs" font-weight="bold">200</text>
<text x="50.5" y="782.7" font-family="Liberation Sans" font-size="10.20" fill="#111" text-anchor="middle" textLength="16.4" lengthAdjust="spacingAndGlyphs" font-weight="bold">450</text>
<text x="103.8" y="782.7" font-family="Liberation Sans" font-size="10.20" fill="#111" text-anchor="middle" textLength="16.4" lengthAdjust="spacingAndGlyphs" font-weight="bold">500</text>
<text x="157.1" y="782.7" font-family="Liberation Sans" font-size="10.20" fill="#111" text-anchor="middle" textLength="16.4" lengthAdjust="spacingAndGlyphs" font-weight="bold">550</text>
<text x="210.4" y="782.7" font-family="Liberation Sans" font-size="10.20" fill="#111" text-anchor="middle" textLength="16.4" lengthAdjust="spacingAndGlyphs" font-weight="bold">600</text>
<text x="263.7" y="782.7" font-family="Liberation Sans" font-size="10.20" fill="#111" text-anchor="middle" textLength="16.4" lengthAdjust="spacingAndGlyphs" font-weight="bold">650</text>
<text x="317.0" y="782.7" font-family="Liberation Sans" font-size="10.20" fill="#111" text-anchor="middle" textLength="16.4" lengthAdjust="spacingAndGlyphs" font-weight="bold">700</text>
<text x="183.8" y="794.5" font-family="Liberation Sans" font-size="10.20" fill="#111" text-anchor="middle" textLength="40.6" lengthAdjust="spacingAndGlyphs" >X (Pixel)</text>
<text transform="translate(28.0,653.7) rotate(-90)" font-family="Liberation Sans" font-size="8.6" fill="#111" stroke="#111" stroke-width="0.3" text-anchor="middle" textLength="37.4" lengthAdjust="spacingAndGlyphs">Y ( Pixel )</text>
<clipPath id="bc2"><rect x="385.0" y="537.8" width="266.5" height="231.8"/></clipPath>
<g clip-path="url(#bc2)"><g filter="url(#soft2)">
<rect x="382.0" y="534.8" width="272.5" height="237.8" fill="#30acac"/>
<rect x="387.0" y="537.8" width="3.0" height="58.0" fill="#74c686" opacity="0.98"/>
<rect x="387.0" y="595.8" width="3.0" height="17.5" fill="#74c686" opacity="0.63"/>
<rect x="387.0" y="613.4" width="3.0" height="52.6" fill="#74c686" opacity="0.89"/>
<rect x="387.0" y="666.0" width="3.0" height="45.1" fill="#74c686" opacity="0.72"/>
<rect x="387.0" y="711.1" width="3.0" height="42.3" fill="#74c686" opacity="0.84"/>
<rect x="387.0" y="753.4" width="3.0" height="41.2" fill="#74c686" opacity="0.66"/>
<rect x="384.1" y="537.8" width="2.0" height="38.7" fill="#1a80d0" opacity="0.46"/>
<rect x="384.1" y="576.5" width="2.0" height="54.8" fill="#1a80d0" opacity="0.85"/>
<rect x="384.1" y="631.3" width="2.0" height="67.2" fill="#1a80d0" opacity="0.55"/>
<rect x="384.1" y="698.5" width="2.0" height="39.5" fill="#1a80d0" opacity="0.37"/>
<rect x="384.1" y="737.9" width="2.0" height="17.0" fill="#1a80d0" opacity="0.22"/>
<rect x="384.1" y="754.9" width="2.0" height="40.6" fill="#1a80d0" opacity="0.41"/>
<rect x="387.2" y="636.0" width="2.2" height="22.8" fill="#b8cc50" opacity="0.8"/>
<rect x="387.2" y="575.9" width="2.2" height="9.4" fill="#b8cc50" opacity="0.8"/>
<rect x="387.2" y="591.3" width="2.2" height="9.4" fill="#b8cc50" opacity="0.8"/>
<rect x="387.4" y="569.5" width="1.8" height="6.6" fill="#2a9ac8" opacity="0.8"/>
<rect x="393.2" y="537.8" width="3.0" height="59.9" fill="#74c686" opacity="0.87"/>
<rect x="393.2" y="597.7" width="3.0" height="23.2" fill="#74c686" opacity="0.96"/>
<rect x="393.2" y="620.9" width="3.0" height="50.9" fill="#74c686" opacity="0.89"/>
<rect x="393.2" y="671.8" width="3.0" height="55.8" fill="#74c686" opacity="0.91"/>
<rect x="393.2" y="727.6" width="3.0" height="50.5" fill="#74c686" opacity="0.74"/>
<rect x="390.3" y="537.8" width="2.0" height="69.0" fill="#1a80d0" opacity="0.83"/>
<rect x="390.3" y="606.8" width="2.0" height="23.9" fill="#1a80d0" opacity="0.69"/>
<rect x="390.3" y="630.6" width="2.0" height="54.3" fill="#1a80d0" opacity="0.50"/>
<rect x="390.3" y="685.0" width="2.0" height="44.2" fill="#1a80d0" opacity="0.52"/>
<rect x="390.3" y="729.1" width="2.0" height="65.9" fill="#1a80d0" opacity="0.53"/>
<rect x="393.4" y="691.2" width="2.2" height="14.6" fill="#b8cc50" opacity="0.8"/>
<rect x="393.4" y="747.2" width="2.2" height="12.7" fill="#b8cc50" opacity="0.8"/>
<rect x="393.6" y="650.6" width="1.8" height="4.6" fill="#2a9ac8" opacity="0.8"/>
<rect x="393.6" y="613.1" width="1.8" height="7.9" fill="#2a9ac8" opacity="0.8"/>
<rect x="393.6" y="576.3" width="1.8" height="9.4" fill="#2a9ac8" opacity="0.8"/>
<rect x="399.4" y="537.8" width="3.0" height="27.1" fill="#74c686" opacity="0.96"/>
<rect x="399.4" y="564.9" width="3.0" height="28.9" fill="#74c686" opacity="0.98"/>
<rect x="399.4" y="593.8" width="3.0" height="46.8" fill="#74c686" opacity="0.80"/>
<rect x="399.4" y="640.6" width="3.0" height="38.3" fill="#74c686" opacity="0.86"/>
<rect x="399.4" y="678.9" width="3.0" height="41.5" fill="#74c686" opacity="0.72"/>
<rect x="399.4" y="720.3" width="3.0" height="24.4" fill="#74c686" opacity="0.80"/>
<rect x="399.4" y="744.7" width="3.0" height="57.0" fill="#74c686" opacity="0.85"/>
<rect x="396.5" y="537.8" width="2.0" height="19.1" fill="#1a80d0" opacity="0.73"/>
<rect x="396.5" y="556.9" width="2.0" height="54.9" fill="#1a80d0" opacity="0.79"/>
<rect x="396.5" y="611.9" width="2.0" height="25.5" fill="#1a80d0" opacity="0.68"/>
<rect x="396.5" y="637.4" width="2.0" height="18.2" fill="#1a80d0" opacity="0.62"/>
<rect x="396.5" y="655.6" width="2.0" height="30.0" fill="#1a80d0" opacity="0.35"/>
<rect x="396.5" y="685.7" width="2.0" height="63.2" fill="#1a80d0" opacity="0.27"/>
<rect x="396.5" y="748.8" width="2.0" height="43.7" fill="#1a80d0" opacity="0.76"/>
<rect x="399.6" y="729.0" width="2.2" height="23.9" fill="#b8cc50" opacity="0.8"/>
<rect x="405.6" y="537.8" width="3.0" height="34.0" fill="#74c686" opacity="0.89"/>
<rect x="405.6" y="571.8" width="3.0" height="16.4" fill="#74c686" opacity="0.74"/>
<rect x="405.6" y="588.3" width="3.0" height="22.7" fill="#74c686" opacity="0.87"/>
<rect x="405.6" y="611.0" width="3.0" height="18.7" fill="#74c686" opacity="0.98"/>
<rect x="405.6" y="629.7" width="3.0" height="16.1" fill="#74c686" opacity="0.89"/>
<rect x="405.6" y="645.9" width="3.0" height="16.0" fill="#74c686" opacity="0.70"/>
<rect x="405.6" y="661.8" width="3.0" height="51.6" fill="#74c686" opacity="0.66"/>
<rect x="405.6" y="713.4" width="3.0" height="23.3" fill="#74c686" opacity="0.88"/>
<rect x="405.6" y="736.7" width="3.0" height="32.4" fill="#74c686" opacity="0.62"/>
<rect x="405.6" y="769.0" width="3.0" height="59.6" fill="#74c686" opacity="0.66"/>
<rect x="402.7" y="537.8" width="2.0" height="17.0" fill="#1a80d0" opacity="0.42"/>
<rect x="402.7" y="554.8" width="2.0" height="48.8" fill="#1a80d0" opacity="0.68"/>
<rect x="402.7" y="603.6" width="2.0" height="21.2" fill="#1a80d0" opacity="0.42"/>
<rect x="402.7" y="624.9" width="2.0" height="16.7" fill="#1a80d0" opacity="0.49"/>
<rect x="402.7" y="641.5" width="2.0" height="57.1" fill="#1a80d0" opacity="0.68"/>
<rect x="402.7" y="698.7" width="2.0" height="64.6" fill="#1a80d0" opacity="0.69"/>
<rect x="402.7" y="763.3" width="2.0" height="62.4" fill="#1a80d0" opacity="0.66"/>
<rect x="405.8" y="760.0" width="2.2" height="7.8" fill="#b8cc50" opacity="0.8"/>
<rect x="405.8" y="697.1" width="2.2" height="21.9" fill="#b8cc50" opacity="0.8"/>
<rect x="405.8" y="543.4" width="2.2" height="21.0" fill="#b8cc50" opacity="0.8"/>
<rect x="406.0" y="657.9" width="1.8" height="8.5" fill="#2a9ac8" opacity="0.8"/>
<rect x="411.8" y="537.8" width="3.0" height="36.9" fill="#74c686" opacity="0.73"/>
<rect x="411.8" y="574.7" width="3.0" height="54.3" fill="#74c686" opacity="0.74"/>
<rect x="411.8" y="629.1" width="3.0" height="26.8" fill="#74c686" opacity="0.99"/>
<rect x="411.8" y="655.8" width="3.0" height="44.4" fill="#74c686" opacity="0.88"/>
<rect x="411.8" y="700.2" width="3.0" height="58.2" fill="#74c686" opacity="0.87"/>
<rect x="411.8" y="758.4" width="3.0" height="26.4" fill="#74c686" opacity="0.65"/>
<rect x="408.9" y="537.8" width="2.0" height="24.4" fill="#1a80d0" opacity="0.49"/>
<rect x="408.9" y="562.2" width="2.0" height="27.7" fill="#1a80d0" opacity="0.80"/>
<rect x="408.9" y="589.9" width="2.0" height="53.9" fill="#1a80d0" opacity="0.22"/>
<rect x="408.9" y="643.9" width="2.0" height="28.6" fill="#1a80d0" opacity="0.66"/>
<rect x="408.9" y="672.4" width="2.0" height="19.0" fill="#1a80d0" opacity="0.25"/>
<rect x="408.9" y="691.5" width="2.0" height="27.6" fill="#1a80d0" opacity="0.71"/>
<rect x="408.9" y="719.0" width="2.0" height="49.3" fill="#1a80d0" opacity="0.43"/>
<rect x="408.9" y="768.4" width="2.0" height="52.7" fill="#1a80d0" opacity="0.38"/>
<rect x="412.2" y="546.0" width="1.8" height="5.9" fill="#2a9ac8" opacity="0.8"/>
<rect x="418.0" y="537.8" width="3.0" height="20.0" fill="#74c686" opacity="0.89"/>
<rect x="418.0" y="557.8" width="3.0" height="25.8" fill="#74c686" opacity="0.64"/>
<rect x="418.0" y="583.6" width="3.0" height="23.2" fill="#74c686" opacity="0.69"/>
<rect x="418.0" y="606.8" width="3.0" height="24.8" fill="#74c686" opacity="0.81"/>
<rect x="418.0" y="631.6" width="3.0" height="35.9" fill="#74c686" opacity="0.72"/>
<rect x="418.0" y="667.5" width="3.0" height="43.9" fill="#74c686" opacity="0.68"/>
<rect x="418.0" y="711.4" width="3.0" height="55.8" fill="#74c686" opacity="0.99"/>
<rect x="418.0" y="767.2" width="3.0" height="47.8" fill="#74c686" opacity="0.77"/>
<rect x="415.1" y="537.8" width="2.0" height="43.1" fill="#1a80d0" opacity="0.58"/>
<rect x="415.1" y="580.9" width="2.0" height="17.8" fill="#1a80d0" opacity="0.47"/>
<rect x="415.1" y="598.8" width="2.0" height="43.9" fill="#1a80d0" opacity="0.32"/>
<rect x="415.1" y="642.6" width="2.0" height="20.2" fill="#1a80d0" opacity="0.72"/>
<rect x="415.1" y="662.8" width="2.0" height="35.1" fill="#1a80d0" opacity="0.54"/>
<rect x="415.1" y="697.9" width="2.0" height="65.7" fill="#1a80d0" opacity="0.60"/>
<rect x="415.1" y="763.6" width="2.0" height="30.9" fill="#1a80d0" opacity="0.84"/>
<rect x="418.2" y="609.3" width="2.2" height="22.6" fill="#b8cc50" opacity="0.8"/>
<rect x="418.2" y="633.4" width="2.2" height="8.0" fill="#b8cc50" opacity="0.8"/>
<rect x="418.4" y="732.7" width="1.8" height="7.7" fill="#2a9ac8" opacity="0.8"/>
<rect x="424.2" y="537.8" width="3.0" height="15.7" fill="#74c686" opacity="0.78"/>
<rect x="424.2" y="553.5" width="3.0" height="33.5" fill="#74c686" opacity="0.79"/>
<rect x="424.2" y="587.0" width="3.0" height="24.4" fill="#74c686" opacity="0.84"/>
<rect x="424.2" y="611.4" width="3.0" height="18.3" fill="#74c686" opacity="0.71"/>
<rect x="424.2" y="629.7" width="3.0" height="31.8" fill="#74c686" opacity="0.97"/>
<rect x="424.2" y="661.5" width="3.0" height="18.4" fill="#74c686" opacity="0.90"/>
<rect x="424.2" y="679.9" width="3.0" height="23.7" fill="#74c686" opacity="0.83"/>
<rect x="424.2" y="703.6" width="3.0" height="32.6" fill="#74c686" opacity="0.79"/>
<rect x="424.2" y="736.2" width="3.0" height="48.9" fill="#74c686" opacity="0.76"/>
<rect x="421.3" y="537.8" width="2.0" height="21.7" fill="#1a80d0" opacity="0.28"/>
<rect x="421.3" y="559.5" width="2.0" height="19.4" fill="#1a80d0" opacity="0.75"/>
<rect x="421.3" y="578.9" width="2.0" height="50.3" fill="#1a80d0" opacity="0.82"/>
<rect x="421.3" y="629.2" width="2.0" height="53.1" fill="#1a80d0" opacity="0.22"/>
<rect x="421.3" y="682.3" width="2.0" height="51.3" fill="#1a80d0" opacity="0.71"/>
<rect x="421.3" y="733.5" width="2.0" height="54.8" fill="#1a80d0" opacity="0.52"/>
<rect x="424.4" y="760.2" width="2.2" height="8.7" fill="#b8cc50" opacity="0.8"/>
<rect x="424.4" y="624.7" width="2.2" height="15.2" fill="#b8cc50" opacity="0.8"/>
<rect x="424.6" y="704.6" width="1.8" height="8.1" fill="#2a9ac8" opacity="0.8"/>
<rect x="424.6" y="634.9" width="1.8" height="6.4" fill="#2a9ac8" opacity="0.8"/>
<rect x="424.6" y="695.5" width="1.8" height="5.8" fill="#2a9ac8" opacity="0.8"/>
<rect x="430.4" y="537.8" width="3.0" height="22.0" fill="#74c686" opacity="0.84"/>
<rect x="430.4" y="559.8" width="3.0" height="39.7" fill="#74c686" opacity="0.88"/>
<rect x="430.4" y="599.5" width="3.0" height="46.5" fill="#74c686" opacity="0.63"/>
<rect x="430.4" y="646.0" width="3.0" height="47.8" fill="#74c686" opacity="0.83"/>
<rect x="430.4" y="693.7" width="3.0" height="18.2" fill="#74c686" opacity="0.67"/>
<rect x="430.4" y="711.9" width="3.0" height="39.5" fill="#74c686" opacity="0.92"/>
<rect x="430.4" y="751.5" width="3.0" height="55.4" fill="#74c686" opacity="0.92"/>
<rect x="427.5" y="537.8" width="2.0" height="65.1" fill="#1a80d0" opacity="0.64"/>
<rect x="427.5" y="602.9" width="2.0" height="59.5" fill="#1a80d0" opacity="0.22"/>
<rect x="427.5" y="662.5" width="2.0" height="68.6" fill="#1a80d0" opacity="0.45"/>
<rect x="427.5" y="731.0" width="2.0" height="54.0" fill="#1a80d0" opacity="0.78"/>
<rect x="430.6" y="639.5" width="2.2" height="16.0" fill="#b8cc50" opacity="0.8"/>
<rect x="430.6" y="563.8" width="2.2" height="16.3" fill="#b8cc50" opacity="0.8"/>
<rect x="430.8" y="560.1" width="1.8" height="6.6" fill="#2a9ac8" opacity="0.8"/>
<rect x="430.8" y="703.6" width="1.8" height="4.8" fill="#2a9ac8" opacity="0.8"/>
<rect x="430.8" y="745.2" width="1.8" height="6.2" fill="#2a9ac8" opacity="0.8"/>
<rect x="436.6" y="537.8" width="3.0" height="46.6" fill="#74c686" opacity="0.76"/>
<rect x="436.6" y="584.4" width="3.0" height="59.8" fill="#74c686" opacity="0.91"/>
<rect x="436.6" y="644.2" width="3.0" height="40.8" fill="#74c686" opacity="0.66"/>
<rect x="436.6" y="685.0" width="3.0" height="34.9" fill="#74c686" opacity="0.61"/>
<rect x="436.6" y="719.9" width="3.0" height="41.8" fill="#74c686" opacity="0.95"/>
<rect x="436.6" y="761.7" width="3.0" height="23.1" fill="#74c686" opacity="0.80"/>
<rect x="433.7" y="537.8" width="2.0" height="41.5" fill="#1a80d0" opacity="0.46"/>
<rect x="433.7" y="579.3" width="2.0" height="54.1" fill="#1a80d0" opacity="0.81"/>
<rect x="433.7" y="633.4" width="2.0" height="53.8" fill="#1a80d0" opacity="0.51"/>
<rect x="433.7" y="687.2" width="2.0" height="67.9" fill="#1a80d0" opacity="0.41"/>
<rect x="433.7" y="755.1" width="2.0" height="56.0" fill="#1a80d0" opacity="0.63"/>
<rect x="436.8" y="661.3" width="2.2" height="9.6" fill="#b8cc50" opacity="0.8"/>
<rect x="437.0" y="764.3" width="1.8" height="7.4" fill="#2a9ac8" opacity="0.8"/>
<rect x="437.0" y="540.5" width="1.8" height="6.3" fill="#2a9ac8" opacity="0.8"/>
<rect x="437.0" y="702.7" width="1.8" height="9.2" fill="#2a9ac8" opacity="0.8"/>
<rect x="442.8" y="537.8" width="3.0" height="44.3" fill="#74c686" opacity="0.93"/>
<rect x="442.8" y="582.1" width="3.0" height="15.8" fill="#74c686" opacity="0.98"/>
<rect x="442.8" y="597.8" width="3.0" height="47.8" fill="#74c686" opacity="0.84"/>
<rect x="442.8" y="645.7" width="3.0" height="55.7" fill="#74c686" opacity="0.95"/>
<rect x="442.8" y="701.4" width="3.0" height="19.5" fill="#74c686" opacity="0.93"/>
<rect x="442.8" y="720.9" width="3.0" height="49.5" fill="#74c686" opacity="0.68"/>
<rect x="439.9" y="537.8" width="2.0" height="55.9" fill="#1a80d0" opacity="0.58"/>
<rect x="439.9" y="593.7" width="2.0" height="25.5" fill="#1a80d0" opacity="0.72"/>
<rect x="439.9" y="619.3" width="2.0" height="22.6" fill="#1a80d0" opacity="0.60"/>
<rect x="439.9" y="641.8" width="2.0" height="38.9" fill="#1a80d0" opacity="0.36"/>
<rect x="439.9" y="680.7" width="2.0" height="46.1" fill="#1a80d0" opacity="0.50"/>
<rect x="439.9" y="726.9" width="2.0" height="26.3" fill="#1a80d0" opacity="0.83"/>
<rect x="439.9" y="753.2" width="2.0" height="19.0" fill="#1a80d0" opacity="0.20"/>
<rect x="443.0" y="661.4" width="2.2" height="18.7" fill="#b8cc50" opacity="0.8"/>
<rect x="443.0" y="553.0" width="2.2" height="17.2" fill="#b8cc50" opacity="0.8"/>
<rect x="443.0" y="752.2" width="2.2" height="23.5" fill="#b8cc50" opacity="0.8"/>
<rect x="443.2" y="599.7" width="1.8" height="6.5" fill="#2a9ac8" opacity="0.8"/>
<rect x="443.2" y="544.2" width="1.8" height="3.6" fill="#2a9ac8" opacity="0.8"/>
<rect x="443.2" y="712.6" width="1.8" height="4.2" fill="#2a9ac8" opacity="0.8"/>
<rect x="449.0" y="537.8" width="3.0" height="48.8" fill="#74c686" opacity="0.91"/>
<rect x="449.0" y="586.6" width="3.0" height="33.2" fill="#74c686" opacity="0.87"/>
<rect x="449.0" y="619.8" width="3.0" height="50.4" fill="#74c686" opacity="0.95"/>
<rect x="449.0" y="670.2" width="3.0" height="21.1" fill="#74c686" opacity="0.67"/>
<rect x="449.0" y="691.3" width="3.0" height="32.2" fill="#74c686" opacity="0.79"/>
<rect x="449.0" y="723.4" width="3.0" height="28.3" fill="#74c686" opacity="0.60"/>
<rect x="449.0" y="751.7" width="3.0" height="40.1" fill="#74c686" opacity="0.99"/>
<rect x="446.1" y="537.8" width="2.0" height="35.2" fill="#1a80d0" opacity="0.55"/>
<rect x="446.1" y="573.0" width="2.0" height="36.0" fill="#1a80d0" opacity="0.49"/>
<rect x="446.1" y="609.0" width="2.0" height="62.9" fill="#1a80d0" opacity="0.40"/>
<rect x="446.1" y="671.9" width="2.0" height="50.7" fill="#1a80d0" opacity="0.51"/>
<rect x="446.1" y="722.6" width="2.0" height="44.6" fill="#1a80d0" opacity="0.79"/>
<rect x="446.1" y="767.2" width="2.0" height="19.2" fill="#1a80d0" opacity="0.74"/>
<rect x="449.2" y="615.2" width="2.2" height="24.0" fill="#b8cc50" opacity="0.8"/>
<rect x="449.2" y="610.2" width="2.2" height="18.2" fill="#b8cc50" opacity="0.8"/>
<rect x="455.2" y="537.8" width="3.0" height="37.9" fill="#74c686" opacity="0.68"/>
<rect x="455.2" y="575.7" width="3.0" height="41.8" fill="#74c686" opacity="0.94"/>
<rect x="455.2" y="617.5" width="3.0" height="21.7" fill="#74c686" opacity="0.80"/>
<rect x="455.2" y="639.2" width="3.0" height="19.0" fill="#74c686" opacity="0.62"/>
<rect x="455.2" y="658.2" width="3.0" height="57.7" fill="#74c686" opacity="0.82"/>
<rect x="455.2" y="716.0" width="3.0" height="38.5" fill="#74c686" opacity="0.62"/>
<rect x="455.2" y="754.5" width="3.0" height="20.0" fill="#74c686" opacity="0.87"/>
<rect x="452.3" y="537.8" width="2.0" height="58.3" fill="#1a80d0" opacity="0.76"/>
<rect x="452.3" y="596.1" width="2.0" height="26.8" fill="#1a80d0" opacity="0.43"/>
<rect x="452.3" y="622.9" width="2.0" height="33.4" fill="#1a80d0" opacity="0.44"/>
<rect x="452.3" y="656.3" width="2.0" height="42.4" fill="#1a80d0" opacity="0.77"/>
<rect x="452.3" y="698.6" width="2.0" height="40.4" fill="#1a80d0" opacity="0.29"/>
<rect x="452.3" y="739.0" width="2.0" height="54.5" fill="#1a80d0" opacity="0.84"/>
<rect x="455.4" y="753.3" width="2.2" height="12.2" fill="#b8cc50" opacity="0.8"/>
<rect x="461.4" y="537.8" width="3.0" height="54.9" fill="#74c686" opacity="0.79"/>
<rect x="461.4" y="592.7" width="3.0" height="48.9" fill="#74c686" opacity="0.94"/>
<rect x="461.4" y="641.6" width="3.0" height="23.3" fill="#74c686" opacity="0.66"/>
<rect x="461.4" y="664.9" width="3.0" height="21.1" fill="#74c686" opacity="0.71"/>
<rect x="461.4" y="686.0" width="3.0" height="39.8" fill="#74c686" opacity="0.75"/>
<rect x="461.4" y="725.8" width="3.0" height="51.4" fill="#74c686" opacity="0.90"/>
<rect x="458.5" y="537.8" width="2.0" height="30.4" fill="#1a80d0" opacity="0.67"/>
<rect x="458.5" y="568.2" width="2.0" height="47.7" fill="#1a80d0" opacity="0.58"/>
<rect x="458.5" y="616.0" width="2.0" height="55.3" fill="#1a80d0" opacity="0.41"/>
<rect x="458.5" y="671.2" width="2.0" height="37.0" fill="#1a80d0" opacity="0.66"/>
<rect x="458.5" y="708.2" width="2.0" height="53.7" fill="#1a80d0" opacity="0.61"/>
<rect x="458.5" y="762.0" width="2.0" height="68.3" fill="#1a80d0" opacity="0.67"/>
<rect x="461.8" y="609.3" width="1.8" height="6.4" fill="#2a9ac8" opacity="0.8"/>
<rect x="461.8" y="597.6" width="1.8" height="9.3" fill="#2a9ac8" opacity="0.8"/>
<rect x="467.6" y="537.8" width="3.0" height="34.8" fill="#74c686" opacity="0.64"/>
<rect x="467.6" y="572.6" width="3.0" height="56.6" fill="#74c686" opacity="0.73"/>
<rect x="467.6" y="629.2" width="3.0" height="32.1" fill="#74c686" opacity="0.99"/>
<rect x="467.6" y="661.2" width="3.0" height="19.7" fill="#74c686" opacity="0.67"/>
<rect x="467.6" y="680.9" width="3.0" height="18.5" fill="#74c686" opacity="0.95"/>
<rect x="467.6" y="699.4" width="3.0" height="48.0" fill="#74c686" opacity="0.86"/>
<rect x="467.6" y="747.4" width="3.0" height="15.4" fill="#74c686" opacity="0.73"/>
<rect x="467.6" y="762.7" width="3.0" height="52.1" fill="#74c686" opacity="0.84"/>
<rect x="464.7" y="537.8" width="2.0" height="44.8" fill="#1a80d0" opacity="0.50"/>
<rect x="464.7" y="582.6" width="2.0" height="64.5" fill="#1a80d0" opacity="0.43"/>
<rect x="464.7" y="647.1" width="2.0" height="26.1" fill="#1a80d0" opacity="0.52"/>
<rect x="464.7" y="673.2" width="2.0" height="68.4" fill="#1a80d0" opacity="0.71"/>
<rect x="464.7" y="741.6" width="2.0" height="33.2" fill="#1a80d0" opacity="0.29"/>
<rect x="467.8" y="595.8" width="2.2" height="12.5" fill="#b8cc50" opacity="0.8"/>
<rect x="467.8" y="594.9" width="2.2" height="10.6" fill="#b8cc50" opacity="0.8"/>
<rect x="473.8" y="537.8" width="3.0" height="30.1" fill="#74c686" opacity="0.75"/>
<rect x="473.8" y="567.9" width="3.0" height="49.6" fill="#74c686" opacity="0.62"/>
<rect x="473.8" y="617.5" width="3.0" height="21.5" fill="#74c686" opacity="0.94"/>
<rect x="473.8" y="639.0" width="3.0" height="34.3" fill="#74c686" opacity="0.91"/>
<rect x="473.8" y="673.3" width="3.0" height="21.0" fill="#74c686" opacity="0.81"/>
<rect x="473.8" y="694.3" width="3.0" height="53.0" fill="#74c686" opacity="0.74"/>
<rect x="473.8" y="747.3" width="3.0" height="49.6" fill="#74c686" opacity="0.84"/>
<rect x="470.9" y="537.8" width="2.0" height="36.7" fill="#1a80d0" opacity="0.85"/>
<rect x="470.9" y="574.5" width="2.0" height="36.6" fill="#1a80d0" opacity="0.51"/>
<rect x="470.9" y="611.1" width="2.0" height="49.1" fill="#1a80d0" opacity="0.41"/>
<rect x="470.9" y="660.1" width="2.0" height="61.1" fill="#1a80d0" opacity="0.59"/>
<rect x="470.9" y="721.2" width="2.0" height="47.3" fill="#1a80d0" opacity="0.55"/>
<rect x="470.9" y="768.6" width="2.0" height="69.2" fill="#1a80d0" opacity="0.84"/>
<rect x="474.0" y="577.1" width="2.2" height="13.3" fill="#b8cc50" opacity="0.8"/>
<rect x="474.0" y="642.7" width="2.2" height="22.7" fill="#b8cc50" opacity="0.8"/>
<rect x="474.0" y="642.4" width="2.2" height="17.2" fill="#b8cc50" opacity="0.8"/>
<rect x="480.0" y="537.8" width="3.0" height="57.2" fill="#74c686" opacity="0.87"/>
<rect x="480.0" y="595.0" width="3.0" height="56.2" fill="#74c686" opacity="0.63"/>
<rect x="480.0" y="651.2" width="3.0" height="28.8" fill="#74c686" opacity="0.92"/>
<rect x="480.0" y="679.9" width="3.0" height="15.4" fill="#74c686" opacity="0.64"/>
<rect x="480.0" y="695.3" width="3.0" height="30.8" fill="#74c686" opacity="0.67"/>
<rect x="480.0" y="726.1" width="3.0" height="21.6" fill="#74c686" opacity="0.87"/>
<rect x="480.0" y="747.7" width="3.0" height="19.1" fill="#74c686" opacity="0.99"/>
<rect x="480.0" y="766.8" width="3.0" height="44.2" fill="#74c686" opacity="0.62"/>
<rect x="477.1" y="537.8" width="2.0" height="64.4" fill="#1a80d0" opacity="0.36"/>
<rect x="477.1" y="602.2" width="2.0" height="41.5" fill="#1a80d0" opacity="0.56"/>
<rect x="477.1" y="643.7" width="2.0" height="22.6" fill="#1a80d0" opacity="0.53"/>
<rect x="477.1" y="666.3" width="2.0" height="18.3" fill="#1a80d0" opacity="0.33"/>
<rect x="477.1" y="684.7" width="2.0" height="65.5" fill="#1a80d0" opacity="0.73"/>
<rect x="477.1" y="750.2" width="2.0" height="43.8" fill="#1a80d0" opacity="0.64"/>
<rect x="480.2" y="570.2" width="2.2" height="15.3" fill="#b8cc50" opacity="0.8"/>
<rect x="480.4" y="663.0" width="1.8" height="4.7" fill="#2a9ac8" opacity="0.8"/>
<rect x="486.2" y="537.8" width="3.0" height="36.0" fill="#74c686" opacity="0.92"/>
<rect x="486.2" y="573.8" width="3.0" height="42.7" fill="#74c686" opacity="0.85"/>
<rect x="486.2" y="616.5" width="3.0" height="30.2" fill="#74c686" opacity="0.86"/>
<rect x="486.2" y="646.7" width="3.0" height="32.7" fill="#74c686" opacity="0.97"/>
<rect x="486.2" y="679.4" width="3.0" height="38.6" fill="#74c686" opacity="0.91"/>
<rect x="486.2" y="718.0" width="3.0" height="45.4" fill="#74c686" opacity="0.80"/>
<rect x="486.2" y="763.4" width="3.0" height="52.5" fill="#74c686" opacity="0.66"/>
<rect x="483.3" y="537.8" width="2.0" height="67.6" fill="#1a80d0" opacity="0.31"/>
<rect x="483.3" y="605.4" width="2.0" height="26.1" fill="#1a80d0" opacity="0.42"/>
<rect x="483.3" y="631.5" width="2.0" height="22.9" fill="#1a80d0" opacity="0.28"/>
<rect x="483.3" y="654.5" width="2.0" height="32.3" fill="#1a80d0" opacity="0.39"/>
<rect x="483.3" y="686.7" width="2.0" height="20.5" fill="#1a80d0" opacity="0.26"/>
<rect x="483.3" y="707.2" width="2.0" height="30.0" fill="#1a80d0" opacity="0.54"/>
<rect x="483.3" y="737.1" width="2.0" height="41.9" fill="#1a80d0" opacity="0.38"/>
<rect x="486.4" y="700.8" width="2.2" height="19.3" fill="#b8cc50" opacity="0.8"/>
<rect x="486.4" y="690.4" width="2.2" height="6.6" fill="#b8cc50" opacity="0.8"/>
<rect x="486.4" y="665.7" width="2.2" height="9.8" fill="#b8cc50" opacity="0.8"/>
<rect x="486.6" y="628.5" width="1.8" height="3.3" fill="#2a9ac8" opacity="0.8"/>
<rect x="492.4" y="537.8" width="3.0" height="21.2" fill="#74c686" opacity="0.61"/>
<rect x="492.4" y="559.0" width="3.0" height="26.8" fill="#74c686" opacity="0.89"/>
<rect x="492.4" y="585.8" width="3.0" height="39.3" fill="#74c686" opacity="0.89"/>
<rect x="492.4" y="625.1" width="3.0" height="53.8" fill="#74c686" opacity="0.69"/>
<rect x="492.4" y="678.9" width="3.0" height="21.5" fill="#74c686" opacity="0.73"/>
<rect x="492.4" y="700.4" width="3.0" height="46.0" fill="#74c686" opacity="1.00"/>
<rect x="492.4" y="746.4" width="3.0" height="21.3" fill="#74c686" opacity="0.88"/>
<rect x="492.4" y="767.7" width="3.0" height="56.3" fill="#74c686" opacity="0.91"/>
<rect x="489.5" y="537.8" width="2.0" height="20.1" fill="#1a80d0" opacity="0.65"/>
<rect x="489.5" y="557.9" width="2.0" height="62.7" fill="#1a80d0" opacity="0.61"/>
<rect x="489.5" y="620.6" width="2.0" height="68.0" fill="#1a80d0" opacity="0.30"/>
<rect x="489.5" y="688.6" width="2.0" height="32.8" fill="#1a80d0" opacity="0.73"/>
<rect x="489.5" y="721.4" width="2.0" height="61.7" fill="#1a80d0" opacity="0.54"/>
<rect x="492.8" y="746.0" width="1.8" height="7.7" fill="#2a9ac8" opacity="0.8"/>
<rect x="492.8" y="545.6" width="1.8" height="5.1" fill="#2a9ac8" opacity="0.8"/>
<rect x="492.8" y="737.6" width="1.8" height="7.5" fill="#2a9ac8" opacity="0.8"/>
<rect x="498.6" y="537.8" width="3.0" height="48.0" fill="#74c686" opacity="0.98"/>
<rect x="498.6" y="585.8" width="3.0" height="15.7" fill="#74c686" opacity="0.77"/>
<rect x="498.6" y="601.6" width="3.0" height="26.8" fill="#74c686" opacity="0.89"/>
<rect x="498.6" y="628.3" width="3.0" height="41.7" fill="#74c686" opacity="0.90"/>
<rect x="498.6" y="670.0" width="3.0" height="55.1" fill="#74c686" opacity="0.77"/>
<rect x="498.6" y="725.2" width="3.0" height="20.8" fill="#74c686" opacity="0.67"/>
<rect x="498.6" y="746.0" width="3.0" height="54.4" fill="#74c686" opacity="0.95"/>
<rect x="495.7" y="537.8" width="2.0" height="68.4" fill="#1a80d0" opacity="0.45"/>
<rect x="495.7" y="606.2" width="2.0" height="48.7" fill="#1a80d0" opacity="0.60"/>
<rect x="495.7" y="654.9" width="2.0" height="46.9" fill="#1a80d0" opacity="0.49"/>
<rect x="495.7" y="701.8" width="2.0" height="56.5" fill="#1a80d0" opacity="0.75"/>
<rect x="495.7" y="758.4" width="2.0" height="33.6" fill="#1a80d0" opacity="0.25"/>
<rect x="498.8" y="678.1" width="2.2" height="22.3" fill="#b8cc50" opacity="0.8"/>
<rect x="498.8" y="589.3" width="2.2" height="17.7" fill="#b8cc50" opacity="0.8"/>
<rect x="499.0" y="695.9" width="1.8" height="5.2" fill="#2a9ac8" opacity="0.8"/>
<rect x="504.8" y="537.8" width="3.0" height="24.3" fill="#74c686" opacity="0.93"/>
<rect x="504.8" y="562.1" width="3.0" height="28.5" fill="#74c686" opacity="0.61"/>
<rect x="504.8" y="590.6" width="3.0" height="54.2" fill="#74c686" opacity="0.68"/>
<rect x="504.8" y="644.8" width="3.0" height="29.1" fill="#74c686" opacity="0.73"/>
<rect x="504.8" y="673.9" width="3.0" height="26.5" fill="#74c686" opacity="0.89"/>
<rect x="504.8" y="700.4" width="3.0" height="30.4" fill="#74c686" opacity="0.78"/>
<rect x="504.8" y="730.8" width="3.0" height="33.9" fill="#74c686" opacity="0.93"/>
<rect x="504.8" y="764.7" width="3.0" height="15.8" fill="#74c686" opacity="0.83"/>
<rect x="501.9" y="537.8" width="2.0" height="22.3" fill="#1a80d0" opacity="0.30"/>
<rect x="501.9" y="560.1" width="2.0" height="48.4" fill="#1a80d0" opacity="0.44"/>
<rect x="501.9" y="608.4" width="2.0" height="18.6" fill="#1a80d0" opacity="0.58"/>
<rect x="501.9" y="627.0" width="2.0" height="65.3" fill="#1a80d0" opacity="0.62"/>
<rect x="501.9" y="692.3" width="2.0" height="42.3" fill="#1a80d0" opacity="0.72"/>
<rect x="501.9" y="734.5" width="2.0" height="65.4" fill="#1a80d0" opacity="0.30"/>
<rect x="505.0" y="734.6" width="2.2" height="22.3" fill="#b8cc50" opacity="0.8"/>
<rect x="505.0" y="590.5" width="2.2" height="17.7" fill="#b8cc50" opacity="0.8"/>
<rect x="505.2" y="674.9" width="1.8" height="7.9" fill="#2a9ac8" opacity="0.8"/>
<rect x="505.2" y="659.3" width="1.8" height="4.6" fill="#2a9ac8" opacity="0.8"/>
<rect x="511.0" y="537.8" width="3.0" height="24.6" fill="#74c686" opacity="0.62"/>
<rect x="511.0" y="562.4" width="3.0" height="45.0" fill="#74c686" opacity="0.66"/>
<rect x="511.0" y="607.3" width="3.0" height="43.0" fill="#74c686" opacity="0.76"/>
<rect x="511.0" y="650.3" width="3.0" height="34.6" fill="#74c686" opacity="0.99"/>
<rect x="511.0" y="684.9" width="3.0" height="32.6" fill="#74c686" opacity="0.79"/>
<rect x="511.0" y="717.6" width="3.0" height="32.1" fill="#74c686" opacity="0.69"/>
<rect x="511.0" y="749.7" width="3.0" height="25.1" fill="#74c686" opacity="0.81"/>
<rect x="508.1" y="537.8" width="2.0" height="60.0" fill="#1a80d0" opacity="0.26"/>
<rect x="508.1" y="597.8" width="2.0" height="67.0" fill="#1a80d0" opacity="0.64"/>
<rect x="508.1" y="664.8" width="2.0" height="18.0" fill="#1a80d0" opacity="0.66"/>
<rect x="508.1" y="682.7" width="2.0" height="37.1" fill="#1a80d0" opacity="0.53"/>
<rect x="508.1" y="719.8" width="2.0" height="20.6" fill="#1a80d0" opacity="0.53"/>
<rect x="508.1" y="740.4" width="2.0" height="43.6" fill="#1a80d0" opacity="0.71"/>
<rect x="511.4" y="708.1" width="1.8" height="4.5" fill="#2a9ac8" opacity="0.8"/>
<rect x="511.4" y="543.5" width="1.8" height="6.3" fill="#2a9ac8" opacity="0.8"/>
<rect x="511.4" y="567.8" width="1.8" height="4.0" fill="#2a9ac8" opacity="0.8"/>
<rect x="517.2" y="537.8" width="3.0" height="29.5" fill="#74c686" opacity="0.82"/>
<rect x="517.2" y="567.3" width="3.0" height="42.7" fill="#74c686" opacity="0.86"/>
<rect x="517.2" y="610.0" width="3.0" height="57.4" fill="#74c686" opacity="0.64"/>
<rect x="517.2" y="667.4" width="3.0" height="40.1" fill="#74c686" opacity="0.63"/>
<rect x="517.2" y="707.5" width="3.0" height="45.2" fill="#74c686" opacity="0.77"/>
<rect x="517.2" y="752.7" width="3.0" height="21.3" fill="#74c686" opacity="0.72"/>
<rect x="514.3" y="537.8" width="2.0" height="51.3" fill="#1a80d0" opacity="0.51"/>
<rect x="514.3" y="589.1" width="2.0" height="66.9" fill="#1a80d0" opacity="0.43"/>
<rect x="514.3" y="656.1" width="2.0" height="33.7" fill="#1a80d0" opacity="0.80"/>
<rect x="514.3" y="689.8" width="2.0" height="48.3" fill="#1a80d0" opacity="0.27"/>
<rect x="514.3" y="738.1" width="2.0" height="58.1" fill="#1a80d0" opacity="0.44"/>
<rect x="517.4" y="724.4" width="2.2" height="23.0" fill="#b8cc50" opacity="0.8"/>
<rect x="517.4" y="655.9" width="2.2" height="24.4" fill="#b8cc50" opacity="0.8"/>
<rect x="523.4" y="537.8" width="3.0" height="17.0" fill="#74c686" opacity="0.77"/>
<rect x="523.4" y="554.8" width="3.0" height="43.5" fill="#74c686" opacity="0.74"/>
<rect x="523.4" y="598.3" width="3.0" height="58.9" fill="#74c686" opacity="0.81"/>
<rect x="523.4" y="657.2" width="3.0" height="17.3" fill="#74c686" opacity="0.86"/>
<rect x="523.4" y="674.4" width="3.0" height="46.1" fill="#74c686" opacity="0.80"/>
<rect x="523.4" y="720.5" width="3.0" height="49.7" fill="#74c686" opacity="0.77"/>
<rect x="520.5" y="537.8" width="2.0" height="28.2" fill="#1a80d0" opacity="0.32"/>
<rect x="520.5" y="566.0" width="2.0" height="48.8" fill="#1a80d0" opacity="0.21"/>
<rect x="520.5" y="614.7" width="2.0" height="56.8" fill="#1a80d0" opacity="0.67"/>
<rect x="520.5" y="671.5" width="2.0" height="34.4" fill="#1a80d0" opacity="0.32"/>
<rect x="520.5" y="706.0" width="2.0" height="16.1" fill="#1a80d0" opacity="0.77"/>
<rect x="520.5" y="722.1" width="2.0" height="68.3" fill="#1a80d0" opacity="0.57"/>
<rect x="523.6" y="631.2" width="2.2" height="23.3" fill="#b8cc50" opacity="0.8"/>
<rect x="529.6" y="537.8" width="3.0" height="56.8" fill="#74c686" opacity="0.97"/>
<rect x="529.6" y="594.6" width="3.0" height="25.9" fill="#74c686" opacity="0.82"/>
<rect x="529.6" y="620.5" width="3.0" height="19.6" fill="#74c686" opacity="0.88"/>
<rect x="529.6" y="640.2" width="3.0" height="18.6" fill="#74c686" opacity="0.94"/>
<rect x="529.6" y="658.8" width="3.0" height="41.2" fill="#74c686" opacity="0.69"/>
<rect x="529.6" y="700.0" width="3.0" height="38.7" fill="#74c686" opacity="1.00"/>
<rect x="529.6" y="738.6" width="3.0" height="56.4" fill="#74c686" opacity="0.77"/>
<rect x="526.7" y="537.8" width="2.0" height="58.1" fill="#1a80d0" opacity="0.30"/>
<rect x="526.7" y="595.9" width="2.0" height="22.1" fill="#1a80d0" opacity="0.68"/>
<rect x="526.7" y="618.0" width="2.0" height="17.9" fill="#1a80d0" opacity="0.82"/>
<rect x="526.7" y="635.9" width="2.0" height="25.0" fill="#1a80d0" opacity="0.73"/>
<rect x="526.7" y="660.9" width="2.0" height="67.0" fill="#1a80d0" opacity="0.59"/>
<rect x="526.7" y="728.0" width="2.0" height="60.2" fill="#1a80d0" opacity="0.76"/>
<rect x="529.8" y="575.4" width="2.2" height="17.3" fill="#b8cc50" opacity="0.8"/>
<rect x="529.8" y="567.4" width="2.2" height="12.7" fill="#b8cc50" opacity="0.8"/>
<rect x="529.8" y="543.1" width="2.2" height="19.4" fill="#b8cc50" opacity="0.8"/>
<rect x="530.0" y="685.7" width="1.8" height="7.0" fill="#2a9ac8" opacity="0.8"/>
<rect x="535.8" y="537.8" width="3.0" height="26.3" fill="#74c686" opacity="0.78"/>
<rect x="535.8" y="564.1" width="3.0" height="35.9" fill="#74c686" opacity="0.77"/>
<rect x="535.8" y="600.0" width="3.0" height="27.1" fill="#74c686" opacity="0.69"/>
<rect x="535.8" y="627.1" width="3.0" height="48.8" fill="#74c686" opacity="0.98"/>
<rect x="535.8" y="675.9" width="3.0" height="52.0" fill="#74c686" opacity="0.85"/>
<rect x="535.8" y="727.8" width="3.0" height="16.3" fill="#74c686" opacity="0.72"/>
<rect x="535.8" y="744.1" width="3.0" height="52.8" fill="#74c686" opacity="0.99"/>
<rect x="532.9" y="537.8" width="2.0" height="45.1" fill="#1a80d0" opacity="0.57"/>
<rect x="532.9" y="582.9" width="2.0" height="52.8" fill="#1a80d0" opacity="0.36"/>
<rect x="532.9" y="635.7" width="2.0" height="54.2" fill="#1a80d0" opacity="0.44"/>
<rect x="532.9" y="689.8" width="2.0" height="61.6" fill="#1a80d0" opacity="0.50"/>
<rect x="532.9" y="751.4" width="2.0" height="51.5" fill="#1a80d0" opacity="0.56"/>
<rect x="536.0" y="644.6" width="2.2" height="24.1" fill="#b8cc50" opacity="0.8"/>
<rect x="536.2" y="635.1" width="1.8" height="6.5" fill="#2a9ac8" opacity="0.8"/>
<rect x="536.2" y="745.9" width="1.8" height="8.2" fill="#2a9ac8" opacity="0.8"/>
<rect x="542.0" y="537.8" width="3.0" height="44.4" fill="#74c686" opacity="0.98"/>
<rect x="542.0" y="582.2" width="3.0" height="20.3" fill="#74c686" opacity="0.84"/>
<rect x="542.0" y="602.5" width="3.0" height="43.1" fill="#74c686" opacity="0.78"/>
<rect x="542.0" y="645.6" width="3.0" height="58.3" fill="#74c686" opacity="0.99"/>
<rect x="542.0" y="703.9" width="3.0" height="32.6" fill="#74c686" opacity="0.85"/>
<rect x="542.0" y="736.5" width="3.0" height="49.5" fill="#74c686" opacity="0.88"/>
<rect x="539.1" y="537.8" width="2.0" height="35.0" fill="#1a80d0" opacity="0.72"/>
<rect x="539.1" y="572.8" width="2.0" height="34.2" fill="#1a80d0" opacity="0.30"/>
<rect x="539.1" y="606.9" width="2.0" height="51.6" fill="#1a80d0" opacity="0.62"/>
<rect x="539.1" y="658.5" width="2.0" height="37.5" fill="#1a80d0" opacity="0.52"/>
<rect x="539.1" y="696.0" width="2.0" height="69.3" fill="#1a80d0" opacity="0.73"/>
<rect x="539.1" y="765.3" width="2.0" height="37.4" fill="#1a80d0" opacity="0.79"/>
<rect x="542.2" y="607.2" width="2.2" height="19.6" fill="#b8cc50" opacity="0.8"/>
<rect x="542.2" y="762.6" width="2.2" height="11.0" fill="#b8cc50" opacity="0.8"/>
<rect x="542.2" y="610.5" width="2.2" height="6.2" fill="#b8cc50" opacity="0.8"/>
<rect x="548.2" y="537.8" width="3.0" height="24.3" fill="#74c686" opacity="0.64"/>
<rect x="548.2" y="562.1" width="3.0" height="15.5" fill="#74c686" opacity="0.93"/>
<rect x="548.2" y="577.6" width="3.0" height="29.5" fill="#74c686" opacity="0.73"/>
<rect x="548.2" y="607.1" width="3.0" height="33.3" fill="#74c686" opacity="0.90"/>
<rect x="548.2" y="640.3" width="3.0" height="56.6" fill="#74c686" opacity="0.91"/>
<rect x="548.2" y="697.0" width="3.0" height="38.7" fill="#74c686" opacity="0.79"/>
<rect x="548.2" y="735.7" width="3.0" height="42.9" fill="#74c686" opacity="0.69"/>
<rect x="545.3" y="537.8" width="2.0" height="63.7" fill="#1a80d0" opacity="0.59"/>
<rect x="545.3" y="601.5" width="2.0" height="34.0" fill="#1a80d0" opacity="0.40"/>
<rect x="545.3" y="635.4" width="2.0" height="22.7" fill="#1a80d0" opacity="0.66"/>
<rect x="545.3" y="658.1" width="2.0" height="15.5" fill="#1a80d0" opacity="0.46"/>
<rect x="545.3" y="673.6" width="2.0" height="50.8" fill="#1a80d0" opacity="0.60"/>
<rect x="545.3" y="724.5" width="2.0" height="15.3" fill="#1a80d0" opacity="0.51"/>
<rect x="545.3" y="739.7" width="2.0" height="64.9" fill="#1a80d0" opacity="0.33"/>
<rect x="548.4" y="576.3" width="2.2" height="11.8" fill="#b8cc50" opacity="0.8"/>
<rect x="548.4" y="730.2" width="2.2" height="16.8" fill="#b8cc50" opacity="0.8"/>
<rect x="548.6" y="645.7" width="1.8" height="5.0" fill="#2a9ac8" opacity="0.8"/>
<rect x="548.6" y="654.6" width="1.8" height="7.0" fill="#2a9ac8" opacity="0.8"/>
<rect x="548.6" y="593.8" width="1.8" height="8.9" fill="#2a9ac8" opacity="0.8"/>
<rect x="554.4" y="537.8" width="3.0" height="59.2" fill="#74c686" opacity="0.67"/>
<rect x="554.4" y="597.0" width="3.0" height="25.9" fill="#74c686" opacity="0.92"/>
<rect x="554.4" y="622.8" width="3.0" height="47.5" fill="#74c686" opacity="0.69"/>
<rect x="554.4" y="670.3" width="3.0" height="41.4" fill="#74c686" opacity="0.70"/>
<rect x="554.4" y="711.7" width="3.0" height="53.8" fill="#74c686" opacity="0.83"/>
<rect x="554.4" y="765.5" width="3.0" height="38.0" fill="#74c686" opacity="0.66"/>
<rect x="551.5" y="537.8" width="2.0" height="37.3" fill="#1a80d0" opacity="0.51"/>
<rect x="551.5" y="575.1" width="2.0" height="34.9" fill="#1a80d0" opacity="0.32"/>
<rect x="551.5" y="610.0" width="2.0" height="25.9" fill="#1a80d0" opacity="0.66"/>
<rect x="551.5" y="635.9" width="2.0" height="65.9" fill="#1a80d0" opacity="0.75"/>
<rect x="551.5" y="701.8" width="2.0" height="48.8" fill="#1a80d0" opacity="0.71"/>
<rect x="551.5" y="750.6" width="2.0" height="22.3" fill="#1a80d0" opacity="0.34"/>
<rect x="554.6" y="538.1" width="2.2" height="7.6" fill="#b8cc50" opacity="0.8"/>
<rect x="554.8" y="709.6" width="1.8" height="4.9" fill="#2a9ac8" opacity="0.8"/>
<rect x="560.6" y="537.8" width="3.0" height="42.8" fill="#74c686" opacity="0.61"/>
<rect x="560.6" y="580.6" width="3.0" height="31.2" fill="#74c686" opacity="0.65"/>
<rect x="560.6" y="611.7" width="3.0" height="16.6" fill="#74c686" opacity="0.75"/>
<rect x="560.6" y="628.3" width="3.0" height="32.1" fill="#74c686" opacity="0.63"/>
<rect x="560.6" y="660.5" width="3.0" height="35.8" fill="#74c686" opacity="0.66"/>
<rect x="560.6" y="696.3" width="3.0" height="54.6" fill="#74c686" opacity="0.91"/>
<rect x="560.6" y="750.9" width="3.0" height="56.0" fill="#74c686" opacity="0.86"/>
<rect x="557.7" y="537.8" width="2.0" height="29.7" fill="#1a80d0" opacity="0.77"/>
<rect x="557.7" y="567.5" width="2.0" height="44.6" fill="#1a80d0" opacity="0.79"/>
<rect x="557.7" y="612.1" width="2.0" height="64.3" fill="#1a80d0" opacity="0.66"/>
<rect x="557.7" y="676.4" width="2.0" height="31.1" fill="#1a80d0" opacity="0.80"/>
<rect x="557.7" y="707.5" width="2.0" height="45.1" fill="#1a80d0" opacity="0.56"/>
<rect x="557.7" y="752.5" width="2.0" height="19.3" fill="#1a80d0" opacity="0.79"/>
<rect x="560.8" y="673.8" width="2.2" height="14.8" fill="#b8cc50" opacity="0.8"/>
<rect x="561.0" y="736.5" width="1.8" height="7.9" fill="#2a9ac8" opacity="0.8"/>
<rect x="566.8" y="537.8" width="3.0" height="35.7" fill="#74c686" opacity="0.62"/>
<rect x="566.8" y="573.5" width="3.0" height="59.2" fill="#74c686" opacity="0.94"/>
<rect x="566.8" y="632.7" width="3.0" height="30.8" fill="#74c686" opacity="0.72"/>
<rect x="566.8" y="663.5" width="3.0" height="46.5" fill="#74c686" opacity="0.64"/>
<rect x="566.8" y="710.0" width="3.0" height="23.6" fill="#74c686" opacity="0.93"/>
<rect x="566.8" y="733.5" width="3.0" height="25.0" fill="#74c686" opacity="0.73"/>
<rect x="566.8" y="758.5" width="3.0" height="27.3" fill="#74c686" opacity="0.75"/>
<rect x="563.9" y="537.8" width="2.0" height="18.9" fill="#1a80d0" opacity="0.73"/>
<rect x="563.9" y="556.7" width="2.0" height="61.8" fill="#1a80d0" opacity="0.82"/>
<rect x="563.9" y="618.6" width="2.0" height="54.5" fill="#1a80d0" opacity="0.29"/>
<rect x="563.9" y="673.1" width="2.0" height="22.2" fill="#1a80d0" opacity="0.48"/>
<rect x="563.9" y="695.3" width="2.0" height="55.9" fill="#1a80d0" opacity="0.40"/>
<rect x="563.9" y="751.1" width="2.0" height="56.9" fill="#1a80d0" opacity="0.69"/>
<rect x="567.0" y="685.9" width="2.2" height="19.7" fill="#b8cc50" opacity="0.8"/>
<rect x="567.0" y="737.4" width="2.2" height="20.3" fill="#b8cc50" opacity="0.8"/>
<rect x="567.2" y="763.1" width="1.8" height="6.5" fill="#2a9ac8" opacity="0.8"/>
<rect x="573.0" y="537.8" width="3.0" height="33.8" fill="#74c686" opacity="0.74"/>
<rect x="573.0" y="571.6" width="3.0" height="44.8" fill="#74c686" opacity="0.72"/>
<rect x="573.0" y="616.4" width="3.0" height="55.1" fill="#74c686" opacity="0.66"/>
<rect x="573.0" y="671.5" width="3.0" height="48.3" fill="#74c686" opacity="0.60"/>
<rect x="573.0" y="719.7" width="3.0" height="19.0" fill="#74c686" opacity="0.66"/>
<rect x="573.0" y="738.8" width="3.0" height="55.1" fill="#74c686" opacity="0.88"/>
<rect x="570.1" y="537.8" width="2.0" height="67.2" fill="#1a80d0" opacity="0.70"/>
<rect x="570.1" y="605.0" width="2.0" height="52.3" fill="#1a80d0" opacity="0.80"/>
<rect x="570.1" y="657.3" width="2.0" height="22.1" fill="#1a80d0" opacity="0.84"/>
<rect x="570.1" y="679.4" width="2.0" height="27.6" fill="#1a80d0" opacity="0.67"/>
<rect x="570.1" y="707.0" width="2.0" height="56.0" fill="#1a80d0" opacity="0.72"/>
<rect x="570.1" y="763.0" width="2.0" height="69.4" fill="#1a80d0" opacity="0.77"/>
<rect x="573.2" y="586.5" width="2.2" height="18.3" fill="#b8cc50" opacity="0.8"/>
<rect x="573.2" y="546.5" width="2.2" height="24.4" fill="#b8cc50" opacity="0.8"/>
<rect x="573.2" y="637.3" width="2.2" height="15.5" fill="#b8cc50" opacity="0.8"/>
<rect x="573.4" y="752.0" width="1.8" height="6.7" fill="#2a9ac8" opacity="0.8"/>
<rect x="573.4" y="565.1" width="1.8" height="9.0" fill="#2a9ac8" opacity="0.8"/>
<rect x="579.2" y="537.8" width="3.0" height="20.6" fill="#74c686" opacity="0.98"/>
<rect x="579.2" y="558.4" width="3.0" height="21.5" fill="#74c686" opacity="0.91"/>
<rect x="579.2" y="580.0" width="3.0" height="48.2" fill="#74c686" opacity="0.85"/>
<rect x="579.2" y="628.1" width="3.0" height="42.7" fill="#74c686" opacity="0.88"/>
<rect x="579.2" y="670.8" width="3.0" height="20.6" fill="#74c686" opacity="0.81"/>
<rect x="579.2" y="691.4" width="3.0" height="40.7" fill="#74c686" opacity="0.85"/>
<rect x="579.2" y="732.1" width="3.0" height="23.9" fill="#74c686" opacity="0.99"/>
<rect x="579.2" y="756.0" width="3.0" height="45.4" fill="#74c686" opacity="0.63"/>
<rect x="576.3" y="537.8" width="2.0" height="67.1" fill="#1a80d0" opacity="0.28"/>
<rect x="576.3" y="604.9" width="2.0" height="28.0" fill="#1a80d0" opacity="0.64"/>
<rect x="576.3" y="632.9" width="2.0" height="52.0" fill="#1a80d0" opacity="0.50"/>
<rect x="576.3" y="684.9" width="2.0" height="32.2" fill="#1a80d0" opacity="0.23"/>
<rect x="576.3" y="717.2" width="2.0" height="20.9" fill="#1a80d0" opacity="0.21"/>
<rect x="576.3" y="738.1" width="2.0" height="21.4" fill="#1a80d0" opacity="0.73"/>
<rect x="576.3" y="759.5" width="2.0" height="34.4" fill="#1a80d0" opacity="0.36"/>
<rect x="579.4" y="590.3" width="2.2" height="8.7" fill="#b8cc50" opacity="0.8"/>
<rect x="579.4" y="760.3" width="2.2" height="23.7" fill="#b8cc50" opacity="0.8"/>
<rect x="579.4" y="730.4" width="2.2" height="9.3" fill="#b8cc50" opacity="0.8"/>
<rect x="579.6" y="768.0" width="1.8" height="7.5" fill="#2a9ac8" opacity="0.8"/>
<rect x="585.4" y="537.8" width="3.0" height="49.4" fill="#74c686" opacity="0.79"/>
<rect x="585.4" y="587.2" width="3.0" height="20.0" fill="#74c686" opacity="0.60"/>
<rect x="585.4" y="607.1" width="3.0" height="19.3" fill="#74c686" opacity="0.61"/>
<rect x="585.4" y="626.5" width="3.0" height="34.5" fill="#74c686" opacity="0.68"/>
<rect x="585.4" y="661.0" width="3.0" height="53.6" fill="#74c686" opacity="0.93"/>
<rect x="585.4" y="714.6" width="3.0" height="53.1" fill="#74c686" opacity="0.67"/>
<rect x="585.4" y="767.7" width="3.0" height="53.4" fill="#74c686" opacity="0.92"/>
<rect x="582.5" y="537.8" width="2.0" height="46.3" fill="#1a80d0" opacity="0.83"/>
<rect x="582.5" y="584.1" width="2.0" height="67.1" fill="#1a80d0" opacity="0.40"/>
<rect x="582.5" y="651.2" width="2.0" height="46.0" fill="#1a80d0" opacity="0.52"/>
<rect x="582.5" y="697.2" width="2.0" height="62.5" fill="#1a80d0" opacity="0.45"/>
<rect x="582.5" y="759.7" width="2.0" height="31.2" fill="#1a80d0" opacity="0.46"/>
<rect x="585.6" y="606.1" width="2.2" height="17.0" fill="#b8cc50" opacity="0.8"/>
<rect x="585.6" y="660.0" width="2.2" height="16.9" fill="#b8cc50" opacity="0.8"/>
<rect x="585.6" y="612.4" width="2.2" height="7.4" fill="#b8cc50" opacity="0.8"/>
<rect x="591.6" y="537.8" width="3.0" height="26.5" fill="#74c686" opacity="0.77"/>
<rect x="591.6" y="564.3" width="3.0" height="41.2" fill="#74c686" opacity="0.89"/>
<rect x="591.6" y="605.5" width="3.0" height="55.2" fill="#74c686" opacity="0.94"/>
<rect x="591.6" y="660.6" width="3.0" height="39.3" fill="#74c686" opacity="0.81"/>
<rect x="591.6" y="700.0" width="3.0" height="27.5" fill="#74c686" opacity="0.99"/>
<rect x="591.6" y="727.5" width="3.0" height="31.7" fill="#74c686" opacity="0.64"/>
<rect x="591.6" y="759.2" width="3.0" height="25.0" fill="#74c686" opacity="0.68"/>
<rect x="588.7" y="537.8" width="2.0" height="21.9" fill="#1a80d0" opacity="0.53"/>
<rect x="588.7" y="559.7" width="2.0" height="25.5" fill="#1a80d0" opacity="0.45"/>
<rect x="588.7" y="585.2" width="2.0" height="59.7" fill="#1a80d0" opacity="0.76"/>
<rect x="588.7" y="644.9" width="2.0" height="31.9" fill="#1a80d0" opacity="0.50"/>
<rect x="588.7" y="676.9" width="2.0" height="56.5" fill="#1a80d0" opacity="0.26"/>
<rect x="588.7" y="733.3" width="2.0" height="35.5" fill="#1a80d0" opacity="0.32"/>
<rect x="588.7" y="768.9" width="2.0" height="64.4" fill="#1a80d0" opacity="0.56"/>
<rect x="591.8" y="668.1" width="2.2" height="23.1" fill="#b8cc50" opacity="0.8"/>
<rect x="591.8" y="664.5" width="2.2" height="11.7" fill="#b8cc50" opacity="0.8"/>
<rect x="591.8" y="769.0" width="2.2" height="19.8" fill="#b8cc50" opacity="0.8"/>
<rect x="592.0" y="745.5" width="1.8" height="9.5" fill="#2a9ac8" opacity="0.8"/>
<rect x="597.8" y="537.8" width="3.0" height="40.8" fill="#74c686" opacity="0.93"/>
<rect x="597.8" y="578.6" width="3.0" height="37.6" fill="#74c686" opacity="0.70"/>
<rect x="597.8" y="616.2" width="3.0" height="27.5" fill="#74c686" opacity="0.70"/>
<rect x="597.8" y="643.7" width="3.0" height="16.1" fill="#74c686" opacity="0.85"/>
<rect x="597.8" y="659.9" width="3.0" height="33.0" fill="#74c686" opacity="0.96"/>
<rect x="597.8" y="692.9" width="3.0" height="17.3" fill="#74c686" opacity="0.91"/>
<rect x="597.8" y="710.2" width="3.0" height="23.8" fill="#74c686" opacity="0.73"/>
<rect x="597.8" y="734.0" width="3.0" height="28.2" fill="#74c686" opacity="0.98"/>
<rect x="597.8" y="762.1" width="3.0" height="44.1" fill="#74c686" opacity="0.79"/>
<rect x="594.9" y="537.8" width="2.0" height="25.1" fill="#1a80d0" opacity="0.23"/>
<rect x="594.9" y="562.9" width="2.0" height="35.2" fill="#1a80d0" opacity="0.83"/>
<rect x="594.9" y="598.1" width="2.0" height="39.4" fill="#1a80d0" opacity="0.64"/>
<rect x="594.9" y="637.6" width="2.0" height="63.4" fill="#1a80d0" opacity="0.23"/>
<rect x="594.9" y="701.0" width="2.0" height="32.7" fill="#1a80d0" opacity="0.47"/>
<rect x="594.9" y="733.7" width="2.0" height="27.4" fill="#1a80d0" opacity="0.45"/>
<rect x="594.9" y="761.1" width="2.0" height="52.5" fill="#1a80d0" opacity="0.29"/>
<rect x="598.0" y="554.9" width="2.2" height="24.5" fill="#b8cc50" opacity="0.8"/>
<rect x="598.0" y="714.7" width="2.2" height="7.0" fill="#b8cc50" opacity="0.8"/>
<rect x="604.0" y="537.8" width="3.0" height="58.5" fill="#74c686" opacity="0.83"/>
<rect x="604.0" y="596.3" width="3.0" height="16.0" fill="#74c686" opacity="0.75"/>
<rect x="604.0" y="612.3" width="3.0" height="58.9" fill="#74c686" opacity="0.86"/>
<rect x="604.0" y="671.2" width="3.0" height="49.1" fill="#74c686" opacity="0.79"/>
<rect x="604.0" y="720.3" width="3.0" height="57.3" fill="#74c686" opacity="0.96"/>
<rect x="601.1" y="537.8" width="2.0" height="48.7" fill="#1a80d0" opacity="0.58"/>
<rect x="601.1" y="586.5" width="2.0" height="20.7" fill="#1a80d0" opacity="0.20"/>
<rect x="601.1" y="607.2" width="2.0" height="26.3" fill="#1a80d0" opacity="0.67"/>
<rect x="601.1" y="633.5" width="2.0" height="61.6" fill="#1a80d0" opacity="0.70"/>
<rect x="601.1" y="695.1" width="2.0" height="63.8" fill="#1a80d0" opacity="0.22"/>
<rect x="601.1" y="758.9" width="2.0" height="16.6" fill="#1a80d0" opacity="0.37"/>
<rect x="610.2" y="537.8" width="3.0" height="56.8" fill="#74c686" opacity="0.96"/>
<rect x="610.2" y="594.6" width="3.0" height="19.8" fill="#74c686" opacity="0.87"/>
<rect x="610.2" y="614.4" width="3.0" height="45.2" fill="#74c686" opacity="0.86"/>
<rect x="610.2" y="659.6" width="3.0" height="33.5" fill="#74c686" opacity="0.69"/>
<rect x="610.2" y="693.1" width="3.0" height="54.9" fill="#74c686" opacity="0.96"/>
<rect x="610.2" y="748.0" width="3.0" height="47.2" fill="#74c686" opacity="0.82"/>
<rect x="607.3" y="537.8" width="2.0" height="16.8" fill="#1a80d0" opacity="0.38"/>
<rect x="607.3" y="554.6" width="2.0" height="28.2" fill="#1a80d0" opacity="0.36"/>
<rect x="607.3" y="582.8" width="2.0" height="26.9" fill="#1a80d0" opacity="0.63"/>
<rect x="607.3" y="609.7" width="2.0" height="52.4" fill="#1a80d0" opacity="0.31"/>
<rect x="607.3" y="662.1" width="2.0" height="64.6" fill="#1a80d0" opacity="0.20"/>
<rect x="607.3" y="726.7" width="2.0" height="67.6" fill="#1a80d0" opacity="0.58"/>
<rect x="610.4" y="603.1" width="2.2" height="19.1" fill="#b8cc50" opacity="0.8"/>
<rect x="610.6" y="684.8" width="1.8" height="7.0" fill="#2a9ac8" opacity="0.8"/>
<rect x="616.4" y="537.8" width="3.0" height="58.1" fill="#74c686" opacity="1.00"/>
<rect x="616.4" y="595.9" width="3.0" height="31.2" fill="#74c686" opacity="0.88"/>
<rect x="616.4" y="627.1" width="3.0" height="24.5" fill="#74c686" opacity="0.75"/>
<rect x="616.4" y="651.6" width="3.0" height="15.1" fill="#74c686" opacity="0.69"/>
<rect x="616.4" y="666.7" width="3.0" height="59.7" fill="#74c686" opacity="0.72"/>
<rect x="616.4" y="726.5" width="3.0" height="31.7" fill="#74c686" opacity="0.82"/>
<rect x="616.4" y="758.2" width="3.0" height="57.6" fill="#74c686" opacity="0.72"/>
<rect x="613.5" y="537.8" width="2.0" height="51.4" fill="#1a80d0" opacity="0.70"/>
<rect x="613.5" y="589.2" width="2.0" height="68.7" fill="#1a80d0" opacity="0.85"/>
<rect x="613.5" y="657.9" width="2.0" height="42.6" fill="#1a80d0" opacity="0.29"/>
<rect x="613.5" y="700.5" width="2.0" height="46.2" fill="#1a80d0" opacity="0.39"/>
<rect x="613.5" y="746.6" width="2.0" height="64.9" fill="#1a80d0" opacity="0.47"/>
<rect x="616.6" y="743.5" width="2.2" height="21.4" fill="#b8cc50" opacity="0.8"/>
<rect x="616.6" y="758.4" width="2.2" height="9.5" fill="#b8cc50" opacity="0.8"/>
<rect x="616.6" y="677.9" width="2.2" height="23.5" fill="#b8cc50" opacity="0.8"/>
<rect x="616.8" y="552.8" width="1.8" height="3.6" fill="#2a9ac8" opacity="0.8"/>
<rect x="622.6" y="537.8" width="3.0" height="21.4" fill="#74c686" opacity="0.61"/>
<rect x="622.6" y="559.2" width="3.0" height="31.9" fill="#74c686" opacity="0.79"/>
<rect x="622.6" y="591.1" width="3.0" height="38.5" fill="#74c686" opacity="0.65"/>
<rect x="622.6" y="629.7" width="3.0" height="57.4" fill="#74c686" opacity="0.64"/>
<rect x="622.6" y="687.0" width="3.0" height="30.3" fill="#74c686" opacity="0.77"/>
<rect x="622.6" y="717.4" width="3.0" height="26.1" fill="#74c686" opacity="0.70"/>
<rect x="622.6" y="743.5" width="3.0" height="51.2" fill="#74c686" opacity="0.97"/>
<rect x="619.7" y="537.8" width="2.0" height="55.2" fill="#1a80d0" opacity="0.74"/>
<rect x="619.7" y="593.0" width="2.0" height="15.4" fill="#1a80d0" opacity="0.33"/>
<rect x="619.7" y="608.4" width="2.0" height="18.1" fill="#1a80d0" opacity="0.49"/>
<rect x="619.7" y="626.5" width="2.0" height="42.6" fill="#1a80d0" opacity="0.34"/>
<rect x="619.7" y="669.1" width="2.0" height="28.3" fill="#1a80d0" opacity="0.25"/>
<rect x="619.7" y="697.4" width="2.0" height="16.5" fill="#1a80d0" opacity="0.45"/>
<rect x="619.7" y="713.9" width="2.0" height="37.9" fill="#1a80d0" opacity="0.81"/>
<rect x="619.7" y="751.8" width="2.0" height="38.3" fill="#1a80d0" opacity="0.53"/>
<rect x="628.8" y="537.8" width="3.0" height="22.8" fill="#74c686" opacity="0.96"/>
<rect x="628.8" y="560.6" width="3.0" height="56.4" fill="#74c686" opacity="0.93"/>
<rect x="628.8" y="616.9" width="3.0" height="18.6" fill="#74c686" opacity="0.89"/>
<rect x="628.8" y="635.6" width="3.0" height="38.4" fill="#74c686" opacity="0.81"/>
<rect x="628.8" y="673.9" width="3.0" height="27.1" fill="#74c686" opacity="0.91"/>
<rect x="628.8" y="701.0" width="3.0" height="51.3" fill="#74c686" opacity="0.91"/>
<rect x="628.8" y="752.3" width="3.0" height="28.6" fill="#74c686" opacity="0.89"/>
<rect x="625.9" y="537.8" width="2.0" height="19.8" fill="#1a80d0" opacity="0.64"/>
<rect x="625.9" y="557.6" width="2.0" height="16.7" fill="#1a80d0" opacity="0.20"/>
<rect x="625.9" y="574.2" width="2.0" height="20.7" fill="#1a80d0" opacity="0.62"/>
<rect x="625.9" y="595.0" width="2.0" height="69.1" fill="#1a80d0" opacity="0.50"/>
<rect x="625.9" y="664.1" width="2.0" height="50.4" fill="#1a80d0" opacity="0.58"/>
<rect x="625.9" y="714.5" width="2.0" height="61.3" fill="#1a80d0" opacity="0.83"/>
<rect x="629.0" y="693.6" width="2.2" height="10.6" fill="#b8cc50" opacity="0.8"/>
<rect x="629.0" y="698.7" width="2.2" height="20.9" fill="#b8cc50" opacity="0.8"/>
<rect x="635.0" y="537.8" width="3.0" height="22.6" fill="#74c686" opacity="0.68"/>
<rect x="635.0" y="560.4" width="3.0" height="34.0" fill="#74c686" opacity="0.94"/>
<rect x="635.0" y="594.4" width="3.0" height="53.3" fill="#74c686" opacity="1.00"/>
<rect x="635.0" y="647.7" width="3.0" height="27.3" fill="#74c686" opacity="0.85"/>
<rect x="635.0" y="675.0" width="3.0" height="54.3" fill="#74c686" opacity="0.75"/>
<rect x="635.0" y="729.3" width="3.0" height="41.4" fill="#74c686" opacity="0.69"/>
<rect x="632.1" y="537.8" width="2.0" height="62.1" fill="#1a80d0" opacity="0.49"/>
<rect x="632.1" y="599.9" width="2.0" height="41.7" fill="#1a80d0" opacity="0.63"/>
<rect x="632.1" y="641.7" width="2.0" height="32.6" fill="#1a80d0" opacity="0.73"/>
<rect x="632.1" y="674.2" width="2.0" height="40.3" fill="#1a80d0" opacity="0.48"/>
<rect x="632.1" y="714.5" width="2.0" height="54.9" fill="#1a80d0" opacity="0.63"/>
<rect x="632.1" y="769.4" width="2.0" height="54.0" fill="#1a80d0" opacity="0.77"/>
<rect x="635.2" y="666.1" width="2.2" height="20.3" fill="#b8cc50" opacity="0.8"/>
<rect x="635.2" y="743.5" width="2.2" height="20.9" fill="#b8cc50" opacity="0.8"/>
<rect x="635.2" y="725.8" width="2.2" height="24.4" fill="#b8cc50" opacity="0.8"/>
<rect x="635.4" y="565.4" width="1.8" height="5.0" fill="#2a9ac8" opacity="0.8"/>
<rect x="635.4" y="711.6" width="1.8" height="9.2" fill="#2a9ac8" opacity="0.8"/>
<rect x="641.2" y="537.8" width="3.0" height="59.4" fill="#74c686" opacity="0.90"/>
<rect x="641.2" y="597.2" width="3.0" height="54.6" fill="#74c686" opacity="0.93"/>
<rect x="641.2" y="651.8" width="3.0" height="22.4" fill="#74c686" opacity="0.88"/>
<rect x="641.2" y="674.2" width="3.0" height="54.1" fill="#74c686" opacity="0.90"/>
<rect x="641.2" y="728.3" width="3.0" height="27.4" fill="#74c686" opacity="0.88"/>
<rect x="641.2" y="755.8" width="3.0" height="32.5" fill="#74c686" opacity="0.77"/>
<rect x="638.3" y="537.8" width="2.0" height="55.2" fill="#1a80d0" opacity="0.64"/>
<rect x="638.3" y="593.0" width="2.0" height="22.5" fill="#1a80d0" opacity="0.62"/>
<rect x="638.3" y="615.5" width="2.0" height="18.3" fill="#1a80d0" opacity="0.33"/>
<rect x="638.3" y="633.8" width="2.0" height="60.4" fill="#1a80d0" opacity="0.79"/>
<rect x="638.3" y="694.1" width="2.0" height="29.0" fill="#1a80d0" opacity="0.70"/>
<rect x="638.3" y="723.1" width="2.0" height="25.0" fill="#1a80d0" opacity="0.52"/>
<rect x="638.3" y="748.1" width="2.0" height="34.2" fill="#1a80d0" opacity="0.25"/>
<rect x="641.4" y="768.1" width="2.2" height="17.6" fill="#b8cc50" opacity="0.8"/>
<rect x="641.4" y="575.7" width="2.2" height="13.9" fill="#b8cc50" opacity="0.8"/>
<rect x="641.4" y="594.6" width="2.2" height="18.0" fill="#b8cc50" opacity="0.8"/>
<rect x="641.6" y="551.2" width="1.8" height="4.6" fill="#2a9ac8" opacity="0.8"/>
<rect x="641.6" y="726.3" width="1.8" height="7.8" fill="#2a9ac8" opacity="0.8"/>
<rect x="647.4" y="537.8" width="3.0" height="54.7" fill="#74c686" opacity="0.90"/>
<rect x="647.4" y="592.5" width="3.0" height="35.3" fill="#74c686" opacity="0.90"/>
<rect x="647.4" y="627.8" width="3.0" height="15.7" fill="#74c686" opacity="0.72"/>
<rect x="647.4" y="643.5" width="3.0" height="53.0" fill="#74c686" opacity="0.85"/>
<rect x="647.4" y="696.6" width="3.0" height="57.5" fill="#74c686" opacity="0.69"/>
<rect x="647.4" y="754.1" width="3.0" height="34.1" fill="#74c686" opacity="0.78"/>
<rect x="644.5" y="537.8" width="2.0" height="44.0" fill="#1a80d0" opacity="0.63"/>
<rect x="644.5" y="581.8" width="2.0" height="45.7" fill="#1a80d0" opacity="0.39"/>
<rect x="644.5" y="627.5" width="2.0" height="66.9" fill="#1a80d0" opacity="0.67"/>
<rect x="644.5" y="694.4" width="2.0" height="61.8" fill="#1a80d0" opacity="0.54"/>
<rect x="644.5" y="756.2" width="2.0" height="16.5" fill="#1a80d0" opacity="0.67"/>
<rect x="647.8" y="683.3" width="1.8" height="5.8" fill="#2a9ac8" opacity="0.8"/>
<rect x="647.8" y="764.1" width="1.8" height="7.2" fill="#2a9ac8" opacity="0.8"/>
<rect x="653.6" y="537.8" width="3.0" height="43.3" fill="#74c686" opacity="0.63"/>
<rect x="653.6" y="581.1" width="3.0" height="26.2" fill="#74c686" opacity="0.83"/>
<rect x="653.6" y="607.3" width="3.0" height="58.0" fill="#74c686" opacity="0.88"/>
<rect x="653.6" y="665.3" width="3.0" height="17.4" fill="#74c686" opacity="0.92"/>
<rect x="653.6" y="682.8" width="3.0" height="24.6" fill="#74c686" opacity="0.84"/>
<rect x="653.6" y="707.3" width="3.0" height="23.6" fill="#74c686" opacity="0.62"/>
<rect x="653.6" y="730.9" width="3.0" height="49.8" fill="#74c686" opacity="0.79"/>
<rect x="650.7" y="537.8" width="2.0" height="48.3" fill="#1a80d0" opacity="0.66"/>
<rect x="650.7" y="586.1" width="2.0" height="47.7" fill="#1a80d0" opacity="0.47"/>
<rect x="650.7" y="633.7" width="2.0" height="32.7" fill="#1a80d0" opacity="0.54"/>
<rect x="650.7" y="666.4" width="2.0" height="28.5" fill="#1a80d0" opacity="0.37"/>
<rect x="650.7" y="695.0" width="2.0" height="59.6" fill="#1a80d0" opacity="0.42"/>
<rect x="650.7" y="754.6" width="2.0" height="54.7" fill="#1a80d0" opacity="0.64"/>
<rect x="653.8" y="706.6" width="2.2" height="10.0" fill="#b8cc50" opacity="0.8"/>
<rect x="653.8" y="665.4" width="2.2" height="17.7" fill="#b8cc50" opacity="0.8"/>
<rect x="653.8" y="538.1" width="2.2" height="17.4" fill="#b8cc50" opacity="0.8"/>
<rect x="464.0" y="541.0" width="97.0" height="224.5" fill="#22a0c6"/>
<rect x="468.0" y="541.0" width="2.4" height="44.5" fill="#48b8ac" opacity="0.54"/>
<rect x="468.0" y="585.5" width="2.4" height="56.8" fill="#48b8ac" opacity="0.74"/>
<rect x="468.0" y="642.2" width="2.4" height="36.9" fill="#48b8ac" opacity="0.69"/>
<rect x="468.0" y="679.1" width="2.4" height="77.4" fill="#48b8ac" opacity="0.46"/>
<rect x="468.0" y="756.5" width="2.4" height="21.0" fill="#48b8ac" opacity="0.42"/>
<rect x="465.1" y="541" width="2.0" height="224.5" fill="#1a84d0" opacity="0.56"/>
<rect x="474.2" y="541.0" width="2.4" height="33.0" fill="#48b8ac" opacity="0.78"/>
<rect x="474.2" y="574.0" width="2.4" height="25.5" fill="#48b8ac" opacity="0.75"/>
<rect x="474.2" y="599.5" width="2.4" height="41.2" fill="#48b8ac" opacity="0.76"/>
<rect x="474.2" y="640.7" width="2.4" height="40.3" fill="#48b8ac" opacity="0.40"/>
<rect x="474.2" y="681.1" width="2.4" height="60.5" fill="#48b8ac" opacity="0.48"/>
<rect x="474.2" y="741.6" width="2.4" height="76.4" fill="#48b8ac" opacity="0.72"/>
<rect x="471.3" y="541" width="2.0" height="224.5" fill="#1a84d0" opacity="0.40"/>
<rect x="480.4" y="541.0" width="2.4" height="49.4" fill="#48b8ac" opacity="0.60"/>
<rect x="480.4" y="590.4" width="2.4" height="66.4" fill="#48b8ac" opacity="0.47"/>
<rect x="480.4" y="656.8" width="2.4" height="54.0" fill="#48b8ac" opacity="0.58"/>
<rect x="480.4" y="710.8" width="2.4" height="55.3" fill="#48b8ac" opacity="0.60"/>
<rect x="477.5" y="541" width="2.0" height="224.5" fill="#1a84d0" opacity="0.47"/>
<rect x="486.6" y="541.0" width="2.4" height="43.2" fill="#48b8ac" opacity="0.53"/>
<rect x="486.6" y="584.2" width="2.4" height="79.7" fill="#48b8ac" opacity="0.59"/>
<rect x="486.6" y="663.9" width="2.4" height="26.4" fill="#48b8ac" opacity="0.53"/>
<rect x="486.6" y="690.3" width="2.4" height="66.0" fill="#48b8ac" opacity="0.66"/>
<rect x="486.6" y="756.2" width="2.4" height="24.8" fill="#48b8ac" opacity="0.54"/>
<rect x="483.7" y="541" width="2.0" height="224.5" fill="#1a84d0" opacity="0.48"/>
<rect x="492.8" y="541.0" width="2.4" height="70.7" fill="#48b8ac" opacity="0.47"/>
<rect x="492.8" y="611.7" width="2.4" height="75.0" fill="#48b8ac" opacity="0.72"/>
<rect x="492.8" y="686.7" width="2.4" height="21.2" fill="#48b8ac" opacity="0.57"/>
<rect x="492.8" y="707.9" width="2.4" height="52.0" fill="#48b8ac" opacity="0.63"/>
<rect x="492.8" y="759.8" width="2.4" height="73.3" fill="#48b8ac" opacity="0.44"/>
<rect x="489.9" y="541" width="2.0" height="224.5" fill="#1a84d0" opacity="0.63"/>
<rect x="499.0" y="541.0" width="2.4" height="20.5" fill="#48b8ac" opacity="0.72"/>
<rect x="499.0" y="561.5" width="2.4" height="35.7" fill="#48b8ac" opacity="0.36"/>
<rect x="499.0" y="597.2" width="2.4" height="68.8" fill="#48b8ac" opacity="0.79"/>
<rect x="499.0" y="666.0" width="2.4" height="59.5" fill="#48b8ac" opacity="0.70"/>
<rect x="499.0" y="725.5" width="2.4" height="43.8" fill="#48b8ac" opacity="0.46"/>
<rect x="496.1" y="541" width="2.0" height="224.5" fill="#1a84d0" opacity="0.57"/>
<rect x="505.2" y="541.0" width="2.4" height="68.5" fill="#48b8ac" opacity="0.47"/>
<rect x="505.2" y="609.5" width="2.4" height="42.5" fill="#48b8ac" opacity="0.47"/>
<rect x="505.2" y="652.0" width="2.4" height="35.9" fill="#48b8ac" opacity="0.74"/>
<rect x="505.2" y="687.9" width="2.4" height="20.4" fill="#48b8ac" opacity="0.36"/>
<rect x="505.2" y="708.3" width="2.4" height="31.0" fill="#48b8ac" opacity="0.70"/>
<rect x="505.2" y="739.4" width="2.4" height="54.2" fill="#48b8ac" opacity="0.69"/>
<rect x="502.3" y="541" width="2.0" height="224.5" fill="#1a84d0" opacity="0.58"/>
<rect x="511.4" y="541.0" width="2.4" height="73.3" fill="#48b8ac" opacity="0.61"/>
<rect x="511.4" y="614.3" width="2.4" height="21.3" fill="#48b8ac" opacity="0.40"/>
<rect x="511.4" y="635.6" width="2.4" height="44.7" fill="#48b8ac" opacity="0.40"/>
<rect x="511.4" y="680.3" width="2.4" height="38.6" fill="#48b8ac" opacity="0.47"/>
<rect x="511.4" y="718.9" width="2.4" height="79.0" fill="#48b8ac" opacity="0.78"/>
<rect x="508.5" y="541" width="2.0" height="224.5" fill="#1a84d0" opacity="0.57"/>
<rect x="517.6" y="541.0" width="2.4" height="45.3" fill="#48b8ac" opacity="0.54"/>
<rect x="517.6" y="586.3" width="2.4" height="24.2" fill="#48b8ac" opacity="0.55"/>
<rect x="517.6" y="610.5" width="2.4" height="28.6" fill="#48b8ac" opacity="0.59"/>
<rect x="517.6" y="639.1" width="2.4" height="69.0" fill="#48b8ac" opacity="0.53"/>
<rect x="517.6" y="708.1" width="2.4" height="62.4" fill="#48b8ac" opacity="0.72"/>
<rect x="514.7" y="541" width="2.0" height="224.5" fill="#1a84d0" opacity="0.67"/>
<rect x="523.8" y="541.0" width="2.4" height="45.6" fill="#48b8ac" opacity="0.46"/>
<rect x="523.8" y="586.6" width="2.4" height="73.4" fill="#48b8ac" opacity="0.57"/>
<rect x="523.8" y="660.0" width="2.4" height="36.4" fill="#48b8ac" opacity="0.66"/>
<rect x="523.8" y="696.4" width="2.4" height="71.8" fill="#48b8ac" opacity="0.79"/>
<rect x="520.9" y="541" width="2.0" height="224.5" fill="#1a84d0" opacity="0.45"/>
<rect x="530.0" y="541.0" width="2.4" height="35.9" fill="#48b8ac" opacity="0.46"/>
<rect x="530.0" y="576.9" width="2.4" height="37.9" fill="#48b8ac" opacity="0.45"/>
<rect x="530.0" y="614.8" width="2.4" height="75.2" fill="#48b8ac" opacity="0.64"/>
<rect x="530.0" y="690.0" width="2.4" height="23.0" fill="#48b8ac" opacity="0.39"/>
<rect x="530.0" y="713.0" width="2.4" height="31.1" fill="#48b8ac" opacity="0.79"/>
<rect x="530.0" y="744.1" width="2.4" height="40.5" fill="#48b8ac" opacity="0.71"/>
<rect x="527.1" y="541" width="2.0" height="224.5" fill="#1a84d0" opacity="0.39"/>
<rect x="536.2" y="541.0" width="2.4" height="31.7" fill="#48b8ac" opacity="0.77"/>
<rect x="536.2" y="572.7" width="2.4" height="24.5" fill="#48b8ac" opacity="0.58"/>
<rect x="536.2" y="597.3" width="2.4" height="51.8" fill="#48b8ac" opacity="0.50"/>
<rect x="536.2" y="649.0" width="2.4" height="65.4" fill="#48b8ac" opacity="0.73"/>
<rect x="536.2" y="714.4" width="2.4" height="33.8" fill="#48b8ac" opacity="0.49"/>
<rect x="536.2" y="748.2" width="2.4" height="49.2" fill="#48b8ac" opacity="0.57"/>
<rect x="533.3" y="541" width="2.0" height="224.5" fill="#1a84d0" opacity="0.55"/>
<rect x="542.4" y="541.0" width="2.4" height="66.5" fill="#48b8ac" opacity="0.50"/>
<rect x="542.4" y="607.5" width="2.4" height="76.4" fill="#48b8ac" opacity="0.56"/>
<rect x="542.4" y="683.9" width="2.4" height="21.7" fill="#48b8ac" opacity="0.54"/>
<rect x="542.4" y="705.6" width="2.4" height="51.8" fill="#48b8ac" opacity="0.43"/>
<rect x="542.4" y="757.4" width="2.4" height="72.8" fill="#48b8ac" opacity="0.62"/>
<rect x="539.5" y="541" width="2.0" height="224.5" fill="#1a84d0" opacity="0.51"/>
<rect x="548.6" y="541.0" width="2.4" height="37.1" fill="#48b8ac" opacity="0.41"/>
<rect x="548.6" y="578.1" width="2.4" height="36.5" fill="#48b8ac" opacity="0.64"/>
<rect x="548.6" y="614.6" width="2.4" height="61.0" fill="#48b8ac" opacity="0.66"/>
<rect x="548.6" y="675.6" width="2.4" height="21.9" fill="#48b8ac" opacity="0.70"/>
<rect x="548.6" y="697.5" width="2.4" height="61.7" fill="#48b8ac" opacity="0.66"/>
<rect x="548.6" y="759.2" width="2.4" height="51.4" fill="#48b8ac" opacity="0.73"/>
<rect x="545.7" y="541" width="2.0" height="224.5" fill="#1a84d0" opacity="0.68"/>
<rect x="554.8" y="541.0" width="2.4" height="55.0" fill="#48b8ac" opacity="0.54"/>
<rect x="554.8" y="596.0" width="2.4" height="52.5" fill="#48b8ac" opacity="0.71"/>
<rect x="554.8" y="648.5" width="2.4" height="60.6" fill="#48b8ac" opacity="0.70"/>
<rect x="554.8" y="709.1" width="2.4" height="38.5" fill="#48b8ac" opacity="0.62"/>
<rect x="554.8" y="747.6" width="2.4" height="34.2" fill="#48b8ac" opacity="0.61"/>
<rect x="551.9" y="541" width="2.0" height="224.5" fill="#1a84d0" opacity="0.31"/>
<rect x="561.0" y="541.0" width="2.4" height="52.0" fill="#48b8ac" opacity="0.68"/>
<rect x="561.0" y="593.0" width="2.4" height="74.6" fill="#48b8ac" opacity="0.57"/>
<rect x="561.0" y="667.7" width="2.4" height="72.4" fill="#48b8ac" opacity="0.44"/>
<rect x="561.0" y="740.0" width="2.4" height="20.7" fill="#48b8ac" opacity="0.60"/>
<rect x="561.0" y="760.7" width="2.4" height="40.6" fill="#48b8ac" opacity="0.53"/>
<rect x="558.1" y="541" width="2.0" height="224.5" fill="#1a84d0" opacity="0.54"/>
</g></g>
<rect x="465.7" y="542.7" width="93.6" height="221.1" fill="none" stroke="#dc2222" stroke-width="3.4"/>
<line x1="385.0" y1="537.8" x2="651.5" y2="537.8" stroke="#2a5a6a" stroke-width="0.8"/>
<text x="375.4" y="541.4" font-family="Liberation Sans" font-size="10.20" fill="#111" text-anchor="middle" textLength="16.5" lengthAdjust="spacingAndGlyphs" font-weight="bold">100</text>
<text x="375.4" y="564.6" font-family="Liberation Sans" font-size="10.20" fill="#111" text-anchor="middle" textLength="16.5" lengthAdjust="spacingAndGlyphs" font-weight="bold">110</text>
<text x="375.4" y="587.8" font-family="Liberation Sans" font-size="10.20" fill="#111" text-anchor="middle" textLength="16.5" lengthAdjust="spacingAndGlyphs" font-weight="bold">120</text>
<text x="375.4" y="610.9" font-family="Liberation Sans" font-size="10.20" fill="#111" text-anchor="middle" textLength="16.5" lengthAdjust="spacingAndGlyphs" font-weight="bold">130</text>
<text x="375.4" y="634.1" font-family="Liberation Sans" font-size="10.20" fill="#111" text-anchor="middle" textLength="16.5" lengthAdjust="spacingAndGlyphs" font-weight="bold">140</text>
<text x="375.4" y="657.3" font-family="Liberation Sans" font-size="10.20" fill="#111" text-anchor="middle" textLength="16.5" lengthAdjust="spacingAndGlyphs" font-weight="bold">150</text>
<text x="375.4" y="680.5" font-family="Liberation Sans" font-size="10.20" fill="#111" text-anchor="middle" textLength="16.5" lengthAdjust="spacingAndGlyphs" font-weight="bold">160</text>
<text x="375.4" y="703.7" font-family="Liberation Sans" font-size="10.20" fill="#111" text-anchor="middle" textLength="16.5" lengthAdjust="spacingAndGlyphs" font-weight="bold">170</text>
<text x="375.4" y="726.8" font-family="Liberation Sans" font-size="10.20" fill="#111" text-anchor="middle" textLength="16.5" lengthAdjust="spacingAndGlyphs" font-weight="bold">180</text>
<text x="375.4" y="750.0" font-family="Liberation Sans" font-size="10.20" fill="#111" text-anchor="middle" textLength="16.5" lengthAdjust="spacingAndGlyphs" font-weight="bold">190</text>
<text x="375.4" y="773.2" font-family="Liberation Sans" font-size="10.20" fill="#111" text-anchor="middle" textLength="16.5" lengthAdjust="spacingAndGlyphs" font-weight="bold">200</text>
<text x="385.0" y="782.7" font-family="Liberation Sans" font-size="10.20" fill="#111" text-anchor="middle" textLength="16.4" lengthAdjust="spacingAndGlyphs" font-weight="bold">450</text>
<text x="438.3" y="782.7" font-family="Liberation Sans" font-size="10.20" fill="#111" text-anchor="middle" textLength="16.4" lengthAdjust="spacingAndGlyphs" font-weight="bold">500</text>
<text x="491.6" y="782.7" font-family="Liberation Sans" font-size="10.20" fill="#111" text-anchor="middle" textLength="16.4" lengthAdjust="spacingAndGlyphs" font-weight="bold">550</text>
<text x="544.9" y="782.7" font-family="Liberation Sans" font-size="10.20" fill="#111" text-anchor="middle" textLength="16.4" lengthAdjust="spacingAndGlyphs" font-weight="bold">600</text>
<text x="598.2" y="782.7" font-family="Liberation Sans" font-size="10.20" fill="#111" text-anchor="middle" textLength="16.4" lengthAdjust="spacingAndGlyphs" font-weight="bold">650</text>
<text x="651.5" y="782.7" font-family="Liberation Sans" font-size="10.20" fill="#111" text-anchor="middle" textLength="16.4" lengthAdjust="spacingAndGlyphs" font-weight="bold">700</text>
<text x="518.2" y="794.5" font-family="Liberation Sans" font-size="10.20" fill="#111" text-anchor="middle" textLength="40.6" lengthAdjust="spacingAndGlyphs" >X (Pixel)</text>
<text transform="translate(362.5,653.7) rotate(-90)" font-family="Liberation Sans" font-size="8.6" fill="#111" stroke="#111" stroke-width="0.3" text-anchor="middle" textLength="37.4" lengthAdjust="spacingAndGlyphs">Y ( Pixel )</text>
<rect x="272.3" y="574.7" width="167" height="63.2" fill="#fff"/>
<polygon points="246,603 259.6,589.7 259.6,595 272.3,595 272.3,610.8 259.6,610.8 259.6,616.4" fill="#e8161a"/>
<polygon points="464.6,603 451,589.7 451,595 439.3,595 439.3,610.8 451,610.8 451,616.4" fill="#e8161a"/>
<text x="354.9" y="600.7" font-family="Liberation Sans" font-size="19.50" fill="#111" text-anchor="middle" textLength="119.7" lengthAdjust="spacingAndGlyphs" stroke="#111" stroke-width="0.35">Overlapped</text>
<text x="355.0" y="626.5" font-family="Liberation Sans" font-size="19.50" fill="#111" text-anchor="middle" textLength="66.0" lengthAdjust="spacingAndGlyphs" stroke="#111" stroke-width="0.35">region</text>
<text x="180.2" y="824.6" font-family="Liberation Sans" font-size="19.20" fill="#111" text-anchor="middle" textLength="224.8" lengthAdjust="spacing" stroke="#111" stroke-width="0.4">&lt;3 DOF stitching result&gt;</text>
<text x="511.1" y="825.0" font-family="Liberation Sans" font-size="19.20" fill="#111" text-anchor="middle" textLength="222.5" lengthAdjust="spacing" stroke="#111" stroke-width="0.4">&lt;6 DOF stitching result&gt;</text>
<clipPath id="cc5"><rect x="50.5" y="894.0" width="262.5" height="203.3"/></clipPath>
<rect x="50.5" y="894.0" width="262.5" height="203.3" fill="url(#cg)" filter="url(#hstreak)"/>
<g clip-path="url(#cc5)"><g filter="url(#soft2)">
<line x1="52" y1="986.5" x2="123" y2="971.5" stroke="#1a3c90" stroke-width="1.8" opacity="0.9"/>
<line x1="124" y1="965.5" x2="160" y2="957.5" stroke="#1a4ca0" stroke-width="1.5" opacity="0.8"/>
<line x1="150" y1="965" x2="187" y2="957.5" stroke="#2060b0" stroke-width="1.3" opacity="0.7"/>
<line x1="76" y1="973.5" x2="86" y2="973.5" stroke="#2060b0" stroke-width="1.4" opacity="0.7"/>
<rect x="50.5" y="1066" width="262.5" height="31.3" fill="url(#bband)"/>
<path d="M204,1027 Q226,1038 224,1050 Q222,1060 210,1066" fill="none" stroke="#1c5cb8" stroke-width="7" opacity="0.35"/>
<path d="M204,1027 Q226,1038 224,1050 Q222,1060 210,1066" fill="none" stroke="#60c8c8" stroke-width="4" opacity="0.6"/>
<path d="M204,1027 Q226,1038 224,1050 Q222,1060 210,1066" fill="none" stroke="#a8d450" stroke-width="3.2" stroke-dasharray="5 2.5" opacity="0.85"/>
<path d="M222,1021 Q256,1034 255.5,1050 Q254,1060 243,1066" fill="none" stroke="#1c5cb8" stroke-width="7" opacity="0.35"/>
<path d="M222,1021 Q256,1034 255.5,1050 Q254,1060 243,1066" fill="none" stroke="#60c8c8" stroke-width="4" opacity="0.6"/>
<path d="M222,1021 Q256,1034 255.5,1050 Q254,1060 243,1066" fill="none" stroke="#a8d450" stroke-width="3.2" stroke-dasharray="5 2.5" opacity="0.85"/>
<ellipse cx="208.6" cy="1030.9" rx="3.6" ry="2.1" fill="#d4dc34" opacity="0.85" transform="rotate(30.0 208.6 1030.9)"/>
<ellipse cx="221.5" cy="1042.2" rx="3.6" ry="2.5" fill="#d4dc34" opacity="0.85" transform="rotate(60.0 221.5 1042.2)"/>
<ellipse cx="223.9" cy="1052.6" rx="2.6" ry="2.9" fill="#d4dc34" opacity="0.85" transform="rotate(0.0 223.9 1052.6)"/>
<ellipse cx="213.4" cy="1063.9" rx="3.8" ry="2.3" fill="#d4dc34" opacity="0.85" transform="rotate(-40.0 213.4 1063.9)"/>
<ellipse cx="227.0" cy="1023.0" rx="3.6" ry="1.8" fill="#d4dc34" opacity="0.85" transform="rotate(20.0 227.0 1023.0)"/>
<ellipse cx="247.2" cy="1035.0" rx="3.6" ry="2.1" fill="#d4dc34" opacity="0.85" transform="rotate(40.0 247.2 1035.0)"/>
<ellipse cx="253.6" cy="1042.2" rx="3.1" ry="2.5" fill="#d4dc34" opacity="0.85" transform="rotate(60.0 253.6 1042.2)"/>
<ellipse cx="255.2" cy="1051.8" rx="2.6" ry="2.8" fill="#d4dc34" opacity="0.85" transform="rotate(0.0 255.2 1051.8)"/>
<ellipse cx="245.6" cy="1064.7" rx="4.3" ry="2.3" fill="#d4dc34" opacity="0.85" transform="rotate(-30.0 245.6 1064.7)"/>
<line x1="184.5" y1="1022.5" x2="197" y2="1022.5" stroke="#0a1a60" stroke-width="2.2"/>
<line x1="151" y1="1044" x2="157" y2="1044" stroke="#0a1a60" stroke-width="1.8" opacity="0.8"/>
<line x1="170" y1="1089" x2="204" y2="1083" stroke="#102c80" stroke-width="2.2"/>
<line x1="125" y1="1094" x2="180" y2="1080" stroke="#163890" stroke-width="2" opacity="0.8"/>
<line x1="175" y1="1079" x2="230" y2="1073" stroke="#50c8f0" stroke-width="2" stroke-dasharray="5 3" opacity="0.8"/>
<line x1="204" y1="1083" x2="235" y2="1075" stroke="#1e48a0" stroke-width="1.6" opacity="0.7"/>
</g></g>
<path d="M50.5,1097.3 L50.5,894.0 L313.0,894.0" fill="none" stroke="#1a2a50" stroke-width="0.9"/>
<text x="37.9" y="931.0" font-family="Liberation Sans" font-size="10.40" fill="#111" text-anchor="middle" textLength="17.8" lengthAdjust="spacingAndGlyphs" font-weight="bold">200</text>
<text x="37.9" y="962.9" font-family="Liberation Sans" font-size="10.40" fill="#111" text-anchor="middle" textLength="17.8" lengthAdjust="spacingAndGlyphs" font-weight="bold">400</text>
<text x="37.9" y="994.7" font-family="Liberation Sans" font-size="10.40" fill="#111" text-anchor="middle" textLength="17.8" lengthAdjust="spacingAndGlyphs" font-weight="bold">600</text>
<text x="37.9" y="1026.5" font-family="Liberation Sans" font-size="10.40" fill="#111" text-anchor="middle" textLength="17.8" lengthAdjust="spacingAndGlyphs" font-weight="bold">800</text>
<text x="35.6" y="1058.4" font-family="Liberation Sans" font-size="10.40" fill="#111" text-anchor="middle" textLength="22.4" lengthAdjust="spacingAndGlyphs" font-weight="bold">1000</text>
<text x="35.6" y="1090.2" font-family="Liberation Sans" font-size="10.40" fill="#111" text-anchor="middle" textLength="22.4" lengthAdjust="spacingAndGlyphs" font-weight="bold">1200</text>
<text x="50.5" y="1112.8" font-family="Liberation Sans" font-size="10.40" fill="#111" text-anchor="middle" textLength="17.8" lengthAdjust="spacingAndGlyphs" font-weight="bold">750</text>
<text x="138.0" y="1112.8" font-family="Liberation Sans" font-size="10.40" fill="#111" text-anchor="middle" textLength="17.8" lengthAdjust="spacingAndGlyphs" font-weight="bold">800</text>
<text x="225.5" y="1112.8" font-family="Liberation Sans" font-size="10.40" fill="#111" text-anchor="middle" textLength="17.8" lengthAdjust="spacingAndGlyphs" font-weight="bold">850</text>
<text x="313.0" y="1112.8" font-family="Liberation Sans" font-size="10.40" fill="#111" text-anchor="middle" textLength="17.8" lengthAdjust="spacingAndGlyphs" font-weight="bold">900</text>
<text transform="translate(19.7,995.7) rotate(-90)" font-family="Liberation Sans" font-size="11.8" font-weight="bold" fill="#111" text-anchor="middle" textLength="42.3" lengthAdjust="spacingAndGlyphs">Y (Pixel)</text>
<text x="181.9" y="1127.0" font-family="Liberation Sans" font-size="10.50" fill="#111" text-anchor="middle" textLength="44.6" lengthAdjust="spacingAndGlyphs" >X (Pixel)</text>
<clipPath id="cc6"><rect x="388.8" y="894.0" width="262.7" height="203.3"/></clipPath>
<rect x="388.8" y="894.0" width="262.7" height="203.3" fill="url(#cg)" filter="url(#hstreak)"/>
<g clip-path="url(#cc6)"><g filter="url(#soft2)">
<rect x="388.8" y="1066" width="262.7" height="31.3" fill="url(#bband)"/>
<line x1="389.8" y1="991" x2="513.3" y2="956.4" stroke="#1a3c90" stroke-width="1.6" opacity="0.85"/>
<line x1="478" y1="966.5" x2="513.3" y2="956.4" stroke="#142c80" stroke-width="2.2"/>
<line x1="395.5" y1="977" x2="404.4" y2="977" stroke="#1a3080" stroke-width="2"/>
<path d="M570,1022 Q592,1032 593,1049 Q592,1062 575,1069" fill="none" stroke="#1c5cb8" stroke-width="7" opacity="0.35"/>
<path d="M570,1022 Q592,1032 593,1049 Q592,1062 575,1069" fill="none" stroke="#58c4d0" stroke-width="4" opacity="0.6"/>
<path d="M570,1022 Q592,1032 593,1049 Q592,1062 575,1069" fill="none" stroke="#a8d450" stroke-width="3.2" stroke-dasharray="5 2.5" opacity="0.85"/>
<ellipse cx="582.5" cy="1029.3" rx="3.4" ry="2.0" fill="#d4dc34" opacity="0.90" transform="rotate(35.0 582.5 1029.3)"/>
<ellipse cx="590.9" cy="1039.8" rx="3.7" ry="3.1" fill="#d4dc34" opacity="0.90" transform="rotate(0.0 590.9 1039.8)"/>
<ellipse cx="593.0" cy="1048.6" rx="3.2" ry="3.1" fill="#d4dc34" opacity="0.90" transform="rotate(0.0 593.0 1048.6)"/>
<ellipse cx="585.4" cy="1062.6" rx="3.7" ry="3.1" fill="#d4dc34" opacity="0.90" transform="rotate(-30.0 585.4 1062.6)"/>
<ellipse cx="576.0" cy="1067.5" rx="3.4" ry="2.0" fill="#d4dc34" opacity="0.90" transform="rotate(-20.0 576.0 1067.5)"/>
<ellipse cx="590.9" cy="1039.8" rx="1.6" ry="1.4" fill="#e83a18" opacity="1.00" transform="rotate(0.0 590.9 1039.8)"/>
<ellipse cx="593.0" cy="1048.6" rx="1.6" ry="1.4" fill="#e83a18" opacity="1.00" transform="rotate(0.0 593.0 1048.6)"/>
<ellipse cx="585.4" cy="1062.6" rx="1.6" ry="1.4" fill="#e83a18" opacity="1.00" transform="rotate(0.0 585.4 1062.6)"/>
<line x1="563" y1="1020" x2="570" y2="1020" stroke="#0a1a60" stroke-width="2.6"/>
<line x1="577" y1="1026.5" x2="585" y2="1026.5" stroke="#10287a" stroke-width="1.6" opacity="0.8"/>
<line x1="514" y1="1094" x2="544" y2="1085.4" stroke="#102c80" stroke-width="2.4"/>
<line x1="544" y1="1085.4" x2="575" y2="1071" stroke="#1e48a0" stroke-width="1.8" stroke-dasharray="6 3" opacity="0.8"/>
<line x1="545" y1="1083.7" x2="566" y2="1076.5" stroke="#58c8f0" stroke-width="1.8" stroke-dasharray="6 5" opacity="0.8"/>
<line x1="513" y1="1041.6" x2="520" y2="1041.6" stroke="#0a1a60" stroke-width="2"/>
<line x1="595" y1="1040" x2="614" y2="1040" stroke="#1e50a8" stroke-width="1.2" opacity="0.5"/>
</g></g>
<path d="M388.8,1097.3 L388.8,894.0 L651.5,894.0" fill="none" stroke="#1a2a50" stroke-width="0.9"/>
<text x="376.2" y="931.0" font-family="Liberation Sans" font-size="10.40" fill="#111" text-anchor="middle" textLength="17.8" lengthAdjust="spacingAndGlyphs" font-weight="bold">200</text>
<text x="376.2" y="962.9" font-family="Liberation Sans" font-size="10.40" fill="#111" text-anchor="middle" textLength="17.8" lengthAdjust="spacingAndGlyphs" font-weight="bold">400</text>
<text x="376.2" y="994.7" font-family="Liberation Sans" font-size="10.40" fill="#111" text-anchor="middle" textLength="17.8" lengthAdjust="spacingAndGlyphs" font-weight="bold">600</text>
<text x="376.2" y="1026.5" font-family="Liberation Sans" font-size="10.40" fill="#111" text-anchor="middle" textLength="17.8" lengthAdjust="spacingAndGlyphs" font-weight="bold">800</text>
<text x="373.9" y="1058.4" font-family="Liberation Sans" font-size="10.40" fill="#111" text-anchor="middle" textLength="22.4" lengthAdjust="spacingAndGlyphs" font-weight="bold">1000</text>
<text x="373.9" y="1090.2" font-family="Liberation Sans" font-size="10.40" fill="#111" text-anchor="middle" textLength="22.4" lengthAdjust="spacingAndGlyphs" font-weight="bold">1200</text>
<text x="388.8" y="1112.8" font-family="Liberation Sans" font-size="10.40" fill="#111" text-anchor="middle" textLength="17.8" lengthAdjust="spacingAndGlyphs" font-weight="bold">750</text>
<text x="454.5" y="1112.8" font-family="Liberation Sans" font-size="10.40" fill="#111" text-anchor="middle" textLength="17.8" lengthAdjust="spacingAndGlyphs" font-weight="bold">800</text>
<text x="520.1" y="1112.8" font-family="Liberation Sans" font-size="10.40" fill="#111" text-anchor="middle" textLength="17.8" lengthAdjust="spacingAndGlyphs" font-weight="bold">850</text>
<text x="585.8" y="1112.8" font-family="Liberation Sans" font-size="10.40" fill="#111" text-anchor="middle" textLength="17.8" lengthAdjust="spacingAndGlyphs" font-weight="bold">900</text>
<text x="651.5" y="1112.8" font-family="Liberation Sans" font-size="10.40" fill="#111" text-anchor="middle" textLength="17.8" lengthAdjust="spacingAndGlyphs" font-weight="bold">950</text>
<text transform="translate(358.0,995.7) rotate(-90)" font-family="Liberation Sans" font-size="11.8" font-weight="bold" fill="#111" text-anchor="middle" textLength="42.3" lengthAdjust="spacingAndGlyphs">Y (Pixel)</text>
<text x="520.2" y="1127.0" font-family="Liberation Sans" font-size="10.50" fill="#111" text-anchor="middle" textLength="44.6" lengthAdjust="spacingAndGlyphs" >X (Pixel)</text>
<text x="191.2" y="1155.4" font-family="Liberation Sans" font-size="18.80" fill="#111" text-anchor="middle" textLength="214.9" lengthAdjust="spacing" stroke="#111" stroke-width="0.4">&lt;3 DOF stitching result&gt;</text>
<text x="510.6" y="1155.4" font-family="Liberation Sans" font-size="18.80" fill="#111" text-anchor="middle" textLength="216.0" lengthAdjust="spacing" stroke="#111" stroke-width="0.4">&lt;6 DOF stitching result&gt;</text>
</svg>
</body></html>
